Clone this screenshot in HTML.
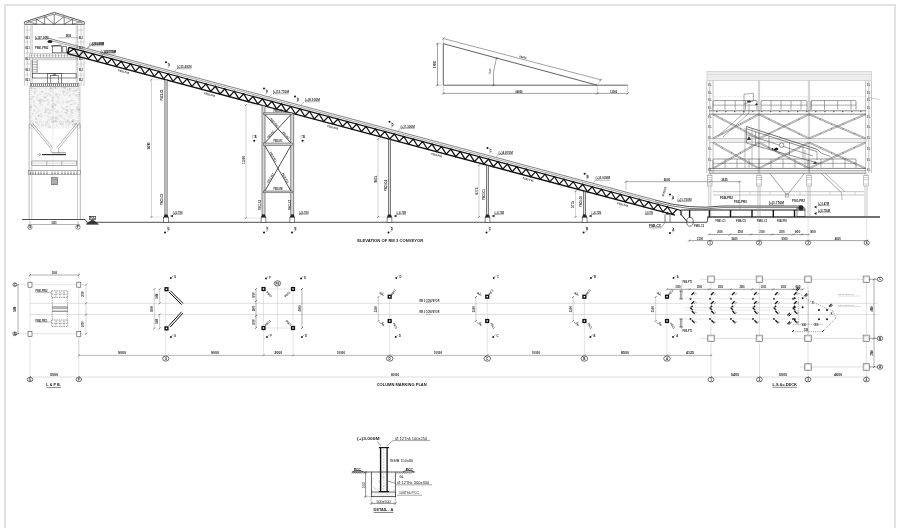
<!DOCTYPE html>
<html><head><meta charset="utf-8"><style>
html,body{margin:0;padding:0;background:#fff;width:900px;height:528px;overflow:hidden}
svg{display:block;font-family:"Liberation Sans",sans-serif;will-change:transform}
</style></head><body>
<svg width="900" height="528" viewBox="0 0 900 528">
<defs><pattern id="stip" width="14" height="14" patternUnits="userSpaceOnUse"><rect width="14" height="14" fill="#f3f3f3"/><circle cx="3.33" cy="7.62" r="0.36" fill="#777"/><circle cx="8.76" cy="0.92" r="0.25" fill="#777"/><circle cx="3.63" cy="3.28" r="0.55" fill="#777"/><circle cx="7.57" cy="7.69" r="0.37" fill="#999"/><circle cx="3.25" cy="2.12" r="0.53" fill="#777"/><circle cx="10.38" cy="9.40" r="0.27" fill="#888"/><circle cx="4.22" cy="0.43" r="0.51" fill="#777"/><circle cx="8.33" cy="12.88" r="0.37" fill="#777"/><circle cx="5.53" cy="11.21" r="0.38" fill="#999"/><circle cx="12.30" cy="1.36" r="0.29" fill="#999"/><circle cx="3.61" cy="9.41" r="0.48" fill="#aaa"/><circle cx="5.90" cy="11.67" r="0.42" fill="#777"/><circle cx="8.18" cy="12.66" r="0.45" fill="#888"/><circle cx="11.99" cy="13.87" r="0.45" fill="#999"/><circle cx="9.78" cy="4.57" r="0.41" fill="#888"/><circle cx="9.99" cy="2.96" r="0.50" fill="#aaa"/><circle cx="3.99" cy="0.89" r="0.51" fill="#777"/><circle cx="1.24" cy="11.21" r="0.37" fill="#999"/><circle cx="0.28" cy="5.98" r="0.37" fill="#888"/><circle cx="0.62" cy="8.60" r="0.26" fill="#aaa"/><circle cx="7.71" cy="12.91" r="0.33" fill="#999"/><circle cx="13.98" cy="4.34" r="0.27" fill="#888"/><circle cx="13.28" cy="13.60" r="0.34" fill="#aaa"/><circle cx="2.19" cy="0.59" r="0.51" fill="#aaa"/><circle cx="5.04" cy="1.94" r="0.51" fill="#777"/><circle cx="6.45" cy="7.28" r="0.44" fill="#888"/><circle cx="8.68" cy="13.17" r="0.40" fill="#777"/><circle cx="8.88" cy="10.02" r="0.53" fill="#777"/><circle cx="13.69" cy="7.30" r="0.41" fill="#888"/><circle cx="11.04" cy="13.82" r="0.34" fill="#777"/><circle cx="8.62" cy="8.85" r="0.27" fill="#aaa"/><circle cx="6.53" cy="9.51" r="0.36" fill="#aaa"/><circle cx="10.33" cy="0.31" r="0.27" fill="#888"/><circle cx="13.49" cy="3.52" r="0.39" fill="#aaa"/><circle cx="2.48" cy="2.59" r="0.48" fill="#aaa"/><circle cx="4.21" cy="5.28" r="0.48" fill="#888"/><circle cx="13.60" cy="9.57" r="0.29" fill="#999"/><circle cx="9.15" cy="3.77" r="0.35" fill="#777"/><circle cx="9.09" cy="1.36" r="0.43" fill="#aaa"/><circle cx="9.45" cy="3.14" r="0.49" fill="#999"/><circle cx="1.12" cy="10.39" r="0.32" fill="#777"/><circle cx="3.79" cy="11.02" r="0.26" fill="#999"/><circle cx="4.41" cy="11.71" r="0.42" fill="#aaa"/><circle cx="4.76" cy="11.59" r="0.28" fill="#aaa"/><circle cx="8.25" cy="5.90" r="0.41" fill="#aaa"/><circle cx="6.51" cy="8.88" r="0.34" fill="#777"/><circle cx="0.50" cy="5.79" r="0.31" fill="#777"/><circle cx="13.21" cy="12.32" r="0.55" fill="#777"/><circle cx="7.82" cy="13.80" r="0.47" fill="#888"/><circle cx="10.44" cy="11.71" r="0.45" fill="#aaa"/><circle cx="7.61" cy="12.46" r="0.51" fill="#aaa"/><circle cx="1.68" cy="3.42" r="0.26" fill="#999"/><circle cx="12.55" cy="12.60" r="0.42" fill="#888"/><circle cx="6.73" cy="1.69" r="0.40" fill="#999"/><circle cx="9.28" cy="7.35" r="0.37" fill="#888"/><path d="M4.8,3.5 l0.8,-0.6 l0.5,0.9 z" fill="none" stroke="#999" stroke-width="0.3"/><path d="M12.1,6.7 l0.8,-0.6 l0.5,0.9 z" fill="none" stroke="#999" stroke-width="0.3"/><path d="M11.0,4.9 l0.8,-0.6 l0.5,0.9 z" fill="none" stroke="#999" stroke-width="0.3"/><path d="M2.8,7.5 l0.8,-0.6 l0.5,0.9 z" fill="none" stroke="#999" stroke-width="0.3"/><path d="M11.4,2.4 l0.8,-0.6 l0.5,0.9 z" fill="none" stroke="#999" stroke-width="0.3"/><path d="M11.1,12.9 l0.8,-0.6 l0.5,0.9 z" fill="none" stroke="#999" stroke-width="0.3"/><path d="M11.3,11.5 l0.8,-0.6 l0.5,0.9 z" fill="none" stroke="#999" stroke-width="0.3"/><path d="M0.1,8.8 l0.8,-0.6 l0.5,0.9 z" fill="none" stroke="#999" stroke-width="0.3"/></pattern></defs>
<defs><pattern id="stip2" x="29.4" y="86.3" width="51" height="63" patternUnits="userSpaceOnUse"><rect width="51" height="63" fill="#f6f6f6"/><circle cx="23.1" cy="35.3" r="0.56" fill="#bbb"/><circle cx="9.7" cy="50.6" r="0.54" fill="#bbb"/><circle cx="4.8" cy="19.1" r="0.57" fill="#aaa"/><path d="M32.4,37.5 l0.3,0.2" stroke="#bbb" stroke-width="0.4"/><circle cx="8.0" cy="0.9" r="0.31" fill="#888"/><circle cx="44.9" cy="37.8" r="0.48" fill="#bbb"/><circle cx="10.0" cy="14.7" r="0.50" fill="#999"/><path d="M23.3,17.5 l0.7,0.4" stroke="#888" stroke-width="0.4"/><circle cx="16.1" cy="14.5" r="0.47" fill="#999"/><circle cx="5.5" cy="6.8" r="0.59" fill="#999"/><path d="M43.2,0.0 l-0.9,-0.2" stroke="#b4b4b4" stroke-width="0.4"/><circle cx="36.2" cy="26.4" r="0.53" fill="#888"/><circle cx="13.8" cy="5.5" r="0.42" fill="#999"/><circle cx="47.1" cy="8.5" r="0.44" fill="#aaa"/><circle cx="24.8" cy="43.0" r="0.36" fill="#b4b4b4"/><circle cx="37.3" cy="8.3" r="0.43" fill="#bbb"/><circle cx="10.9" cy="17.0" r="0.57" fill="#888"/><circle cx="10.7" cy="24.8" r="0.33" fill="#888"/><circle cx="50.5" cy="13.4" r="0.48" fill="#999"/><circle cx="42.3" cy="24.3" r="0.47" fill="#aaa"/><circle cx="12.4" cy="37.9" r="0.34" fill="#999"/><path d="M30.0,52.4 l-0.6,-0.7" stroke="#b4b4b4" stroke-width="0.4"/><circle cx="46.3" cy="51.5" r="0.35" fill="#b4b4b4"/><path d="M32.1,34.9 l0.2,-0.2" stroke="#bbb" stroke-width="0.4"/><circle cx="5.3" cy="2.4" r="0.51" fill="#999"/><circle cx="13.1" cy="51.9" r="0.46" fill="#888"/><circle cx="47.4" cy="61.6" r="0.47" fill="#b4b4b4"/><circle cx="43.5" cy="38.7" r="0.57" fill="#999"/><circle cx="38.2" cy="4.4" r="0.32" fill="#bbb"/><path d="M9.0,23.2 l-0.8,-0.7" stroke="#888" stroke-width="0.4"/><circle cx="23.0" cy="20.9" r="0.34" fill="#888"/><circle cx="1.8" cy="1.1" r="0.59" fill="#999"/><circle cx="1.1" cy="40.1" r="0.39" fill="#bbb"/><circle cx="7.0" cy="4.6" r="0.52" fill="#bbb"/><path d="M45.9,46.4 l0.8,-0.3" stroke="#b4b4b4" stroke-width="0.4"/><path d="M34.9,56.8 l-0.9,-0.0" stroke="#bbb" stroke-width="0.4"/><circle cx="0.7" cy="41.7" r="0.48" fill="#bbb"/><path d="M4.1,40.3 l0.5,-0.2" stroke="#999" stroke-width="0.4"/><circle cx="37.5" cy="36.6" r="0.46" fill="#bbb"/><circle cx="26.5" cy="32.4" r="0.44" fill="#999"/><path d="M11.7,44.0 l0.3,-0.0" stroke="#bbb" stroke-width="0.4"/><circle cx="45.7" cy="23.2" r="0.36" fill="#b4b4b4"/><circle cx="8.6" cy="57.1" r="0.37" fill="#bbb"/><path d="M20.6,15.8 l0.5,-0.6" stroke="#bbb" stroke-width="0.4"/><circle cx="10.9" cy="13.8" r="0.34" fill="#999"/><circle cx="17.9" cy="56.4" r="0.59" fill="#aaa"/><circle cx="14.1" cy="10.7" r="0.58" fill="#bbb"/><circle cx="42.4" cy="24.1" r="0.39" fill="#888"/><circle cx="42.8" cy="61.9" r="0.55" fill="#bbb"/><circle cx="14.2" cy="38.3" r="0.39" fill="#999"/><circle cx="40.4" cy="1.2" r="0.36" fill="#b4b4b4"/><path d="M39.2,16.8 l1.0,-0.8" stroke="#b4b4b4" stroke-width="0.4"/><path d="M5.6,33.7 l0.4,-0.6" stroke="#999" stroke-width="0.4"/><path d="M24.2,11.3 l0.1,-0.9" stroke="#aaa" stroke-width="0.4"/><circle cx="11.5" cy="49.1" r="0.46" fill="#888"/><path d="M31.3,47.6 l0.4,-0.6" stroke="#bbb" stroke-width="0.4"/><circle cx="20.9" cy="56.2" r="0.44" fill="#bbb"/><circle cx="31.9" cy="57.3" r="0.50" fill="#bbb"/><circle cx="25.6" cy="51.6" r="0.50" fill="#999"/><circle cx="10.4" cy="45.5" r="0.57" fill="#aaa"/><path d="M50.0,61.6 l0.9,-0.5" stroke="#888" stroke-width="0.4"/><circle cx="36.6" cy="1.0" r="0.43" fill="#888"/><path d="M28.1,48.4 l-0.6,0.7" stroke="#bbb" stroke-width="0.4"/><circle cx="21.9" cy="2.2" r="0.54" fill="#888"/><path d="M7.2,9.4 l0.0,0.4" stroke="#888" stroke-width="0.4"/><path d="M22.4,55.4 l-0.8,-0.6" stroke="#888" stroke-width="0.4"/><circle cx="26.9" cy="18.3" r="0.46" fill="#888"/><circle cx="43.0" cy="35.3" r="0.59" fill="#999"/><path d="M44.4,38.4 l0.9,0.0" stroke="#999" stroke-width="0.4"/><circle cx="29.2" cy="12.7" r="0.30" fill="#888"/><circle cx="19.2" cy="33.9" r="0.42" fill="#aaa"/><circle cx="40.9" cy="35.5" r="0.35" fill="#bbb"/><circle cx="47.5" cy="28.9" r="0.44" fill="#bbb"/><circle cx="6.5" cy="27.3" r="0.33" fill="#bbb"/><circle cx="21.4" cy="1.9" r="0.53" fill="#999"/><circle cx="1.2" cy="12.2" r="0.39" fill="#b4b4b4"/><circle cx="36.9" cy="15.4" r="0.52" fill="#bbb"/><circle cx="6.3" cy="32.2" r="0.51" fill="#999"/><path d="M44.8,1.5 l0.2,0.1" stroke="#bbb" stroke-width="0.4"/><circle cx="44.1" cy="33.6" r="0.56" fill="#b4b4b4"/><path d="M31.2,54.0 l0.3,-0.3" stroke="#b4b4b4" stroke-width="0.4"/><circle cx="9.2" cy="38.0" r="0.60" fill="#b4b4b4"/><circle cx="45.3" cy="8.4" r="0.33" fill="#b4b4b4"/><circle cx="19.8" cy="27.4" r="0.51" fill="#bbb"/><circle cx="10.2" cy="39.6" r="0.47" fill="#aaa"/><circle cx="18.2" cy="51.7" r="0.45" fill="#999"/><path d="M38.7,31.7 l-0.0,-1.0" stroke="#b4b4b4" stroke-width="0.4"/><circle cx="38.9" cy="38.6" r="0.36" fill="#888"/><path d="M5.9,10.9 l0.9,-0.8" stroke="#b4b4b4" stroke-width="0.4"/><circle cx="3.2" cy="59.9" r="0.33" fill="#bbb"/><circle cx="19.9" cy="26.9" r="0.48" fill="#999"/><circle cx="0.7" cy="44.2" r="0.44" fill="#b4b4b4"/><circle cx="37.7" cy="25.5" r="0.33" fill="#b4b4b4"/><path d="M40.4,20.4 l0.4,0.7" stroke="#aaa" stroke-width="0.4"/><circle cx="32.1" cy="25.5" r="0.48" fill="#888"/><path d="M17.4,48.0 l0.5,0.6" stroke="#999" stroke-width="0.4"/><path d="M41.5,25.6 l0.4,0.5" stroke="#999" stroke-width="0.4"/><circle cx="39.0" cy="25.6" r="0.40" fill="#b4b4b4"/><path d="M23.9,0.7 l0.8,-0.9" stroke="#999" stroke-width="0.4"/><circle cx="13.9" cy="60.6" r="0.50" fill="#999"/><circle cx="29.0" cy="33.6" r="0.45" fill="#bbb"/><path d="M10.9,7.5 l-1.0,0.2" stroke="#bbb" stroke-width="0.4"/><circle cx="37.7" cy="16.2" r="0.53" fill="#bbb"/><circle cx="33.0" cy="0.7" r="0.57" fill="#999"/><circle cx="28.1" cy="32.0" r="0.60" fill="#888"/><circle cx="32.5" cy="51.0" r="0.50" fill="#aaa"/><circle cx="48.7" cy="24.3" r="0.59" fill="#b4b4b4"/><circle cx="43.6" cy="34.1" r="0.58" fill="#888"/><circle cx="21.5" cy="33.2" r="0.46" fill="#888"/><circle cx="24.6" cy="17.0" r="0.52" fill="#999"/><circle cx="1.4" cy="48.7" r="0.35" fill="#888"/><circle cx="38.5" cy="24.6" r="0.32" fill="#999"/><path d="M50.4,59.5 l-0.6,0.4" stroke="#aaa" stroke-width="0.4"/><circle cx="12.8" cy="47.6" r="0.58" fill="#aaa"/><circle cx="36.9" cy="29.5" r="0.33" fill="#b4b4b4"/><path d="M31.8,28.7 l-0.3,-0.7" stroke="#b4b4b4" stroke-width="0.4"/><circle cx="18.5" cy="8.8" r="0.38" fill="#bbb"/><path d="M29.7,26.4 l-0.7,-0.4" stroke="#888" stroke-width="0.4"/><path d="M6.6,30.3 l0.6,0.2" stroke="#888" stroke-width="0.4"/><circle cx="18.3" cy="17.1" r="0.36" fill="#888"/><circle cx="14.2" cy="15.1" r="0.50" fill="#b4b4b4"/><circle cx="10.0" cy="43.0" r="0.38" fill="#aaa"/><circle cx="1.4" cy="2.4" r="0.32" fill="#b4b4b4"/><circle cx="4.4" cy="42.6" r="0.59" fill="#888"/><circle cx="24.7" cy="22.3" r="0.52" fill="#999"/><circle cx="42.8" cy="4.7" r="0.55" fill="#aaa"/><circle cx="42.7" cy="48.4" r="0.38" fill="#bbb"/><circle cx="41.3" cy="23.2" r="0.46" fill="#888"/><circle cx="38.1" cy="58.0" r="0.47" fill="#bbb"/><circle cx="23.6" cy="20.4" r="0.47" fill="#888"/><path d="M24.7,43.2 l-1.0,-0.4" stroke="#999" stroke-width="0.4"/><circle cx="46.4" cy="38.0" r="0.53" fill="#999"/><circle cx="16.7" cy="55.5" r="0.52" fill="#b4b4b4"/><circle cx="18.7" cy="7.4" r="0.58" fill="#bbb"/><circle cx="47.9" cy="57.5" r="0.60" fill="#bbb"/><circle cx="23.4" cy="13.9" r="0.41" fill="#888"/><circle cx="18.6" cy="22.9" r="0.54" fill="#bbb"/><circle cx="37.7" cy="23.2" r="0.55" fill="#bbb"/><path d="M28.7,11.1 l-0.4,-1.0" stroke="#bbb" stroke-width="0.4"/><circle cx="26.3" cy="34.3" r="0.31" fill="#888"/><circle cx="42.9" cy="26.6" r="0.54" fill="#888"/><path d="M4.3,5.1 l-0.8,0.3" stroke="#aaa" stroke-width="0.4"/><circle cx="7.3" cy="47.0" r="0.37" fill="#bbb"/><circle cx="39.0" cy="32.9" r="0.40" fill="#bbb"/><circle cx="49.4" cy="42.4" r="0.54" fill="#bbb"/><circle cx="3.7" cy="38.9" r="0.55" fill="#aaa"/><path d="M34.0,53.8 l0.8,0.9" stroke="#bbb" stroke-width="0.4"/><path d="M32.7,33.0 l-0.2,-0.2" stroke="#aaa" stroke-width="0.4"/><circle cx="7.5" cy="46.7" r="0.40" fill="#bbb"/><path d="M19.9,33.3 l-0.9,-0.4" stroke="#999" stroke-width="0.4"/><path d="M5.9,40.8 l0.5,-1.0" stroke="#b4b4b4" stroke-width="0.4"/><circle cx="24.5" cy="50.4" r="0.36" fill="#999"/><circle cx="11.1" cy="14.8" r="0.37" fill="#bbb"/><path d="M9.4,17.7 l0.9,0.3" stroke="#b4b4b4" stroke-width="0.4"/><circle cx="48.0" cy="34.7" r="0.42" fill="#999"/><circle cx="48.7" cy="41.6" r="0.37" fill="#aaa"/><path d="M2.5,59.7 l0.6,0.5" stroke="#bbb" stroke-width="0.4"/><path d="M40.2,3.7 l0.7,0.8" stroke="#b4b4b4" stroke-width="0.4"/><circle cx="23.0" cy="15.5" r="0.35" fill="#bbb"/><path d="M8.0,20.3 l0.6,-0.7" stroke="#999" stroke-width="0.4"/><circle cx="37.8" cy="39.0" r="0.35" fill="#888"/><path d="M39.3,0.1 l-0.8,-0.5" stroke="#b4b4b4" stroke-width="0.4"/><circle cx="36.5" cy="6.1" r="0.32" fill="#bbb"/><circle cx="38.2" cy="34.2" r="0.54" fill="#888"/><path d="M21.3,57.8 l-0.1,-0.9" stroke="#aaa" stroke-width="0.4"/><circle cx="21.1" cy="31.1" r="0.42" fill="#999"/><circle cx="28.4" cy="62.8" r="0.51" fill="#aaa"/><circle cx="5.4" cy="24.8" r="0.54" fill="#bbb"/><circle cx="6.2" cy="28.1" r="0.44" fill="#bbb"/><path d="M15.0,7.1 l0.7,0.4" stroke="#aaa" stroke-width="0.4"/><path d="M46.0,9.6 l0.5,0.9" stroke="#bbb" stroke-width="0.4"/><circle cx="38.5" cy="35.0" r="0.36" fill="#aaa"/><circle cx="37.3" cy="20.8" r="0.52" fill="#999"/><circle cx="16.9" cy="52.1" r="0.49" fill="#aaa"/><circle cx="6.7" cy="39.7" r="0.42" fill="#b4b4b4"/><circle cx="42.7" cy="37.3" r="0.31" fill="#aaa"/><circle cx="50.4" cy="27.3" r="0.55" fill="#aaa"/><path d="M47.3,8.8 l0.6,-0.2" stroke="#b4b4b4" stroke-width="0.4"/><circle cx="16.9" cy="26.0" r="0.48" fill="#aaa"/><circle cx="16.2" cy="49.7" r="0.48" fill="#b4b4b4"/><circle cx="0.9" cy="20.9" r="0.43" fill="#999"/><path d="M28.4,12.9 l0.7,0.2" stroke="#999" stroke-width="0.4"/><circle cx="8.1" cy="48.3" r="0.41" fill="#999"/><path d="M25.5,8.9 l0.0,0.4" stroke="#b4b4b4" stroke-width="0.4"/><circle cx="42.6" cy="12.4" r="0.36" fill="#aaa"/><circle cx="4.2" cy="15.4" r="0.40" fill="#888"/><circle cx="4.7" cy="55.0" r="0.34" fill="#999"/><circle cx="49.7" cy="8.5" r="0.47" fill="#888"/><circle cx="28.6" cy="16.7" r="0.34" fill="#999"/><circle cx="42.1" cy="18.2" r="0.47" fill="#999"/><path d="M42.4,11.7 l-0.1,-0.2" stroke="#888" stroke-width="0.4"/><circle cx="39.9" cy="58.6" r="0.50" fill="#b4b4b4"/><circle cx="37.6" cy="24.0" r="0.53" fill="#888"/><circle cx="8.1" cy="26.0" r="0.42" fill="#aaa"/><circle cx="29.0" cy="10.9" r="0.37" fill="#888"/><circle cx="47.5" cy="3.4" r="0.54" fill="#aaa"/><circle cx="20.6" cy="31.3" r="0.42" fill="#aaa"/><path d="M31.8,43.4 l-0.0,1.0" stroke="#bbb" stroke-width="0.4"/><path d="M42.8,53.9 l-0.8,-0.8" stroke="#bbb" stroke-width="0.4"/><circle cx="47.9" cy="20.8" r="0.57" fill="#888"/><path d="M16.4,3.4 l0.5,0.2" stroke="#888" stroke-width="0.4"/><path d="M38.3,19.2 l-0.5,0.7" stroke="#888" stroke-width="0.4"/><circle cx="12.4" cy="55.0" r="0.33" fill="#aaa"/><path d="M46.4,34.3 l0.8,1.0" stroke="#bbb" stroke-width="0.4"/><path d="M37.3,54.9 l-0.2,0.6" stroke="#999" stroke-width="0.4"/><circle cx="11.3" cy="47.0" r="0.32" fill="#888"/><circle cx="26.5" cy="8.2" r="0.44" fill="#888"/><circle cx="15.1" cy="45.9" r="0.32" fill="#aaa"/><circle cx="45.7" cy="51.4" r="0.51" fill="#bbb"/><path d="M11.8,19.3 l-0.4,-0.0" stroke="#bbb" stroke-width="0.4"/><path d="M47.6,61.6 l-0.6,0.7" stroke="#bbb" stroke-width="0.4"/><path d="M35.3,3.7 l-0.3,-0.1" stroke="#999" stroke-width="0.4"/><circle cx="8.8" cy="55.4" r="0.49" fill="#888"/><circle cx="9.8" cy="55.5" r="0.39" fill="#aaa"/><path d="M41.7,60.6 l0.4,-0.7" stroke="#999" stroke-width="0.4"/><circle cx="35.5" cy="59.1" r="0.35" fill="#bbb"/><circle cx="43.9" cy="7.6" r="0.52" fill="#b4b4b4"/><circle cx="25.6" cy="18.6" r="0.50" fill="#999"/><path d="M45.1,37.2 l0.8,-0.6" stroke="#b4b4b4" stroke-width="0.4"/><circle cx="11.5" cy="8.4" r="0.32" fill="#aaa"/><circle cx="46.8" cy="4.7" r="0.48" fill="#aaa"/><circle cx="27.4" cy="26.7" r="0.39" fill="#888"/><circle cx="38.5" cy="15.5" r="0.31" fill="#999"/><circle cx="40.3" cy="9.5" r="0.57" fill="#aaa"/><circle cx="29.8" cy="0.2" r="0.32" fill="#bbb"/><circle cx="39.6" cy="57.3" r="0.53" fill="#999"/><circle cx="26.4" cy="31.9" r="0.46" fill="#888"/><circle cx="30.3" cy="48.6" r="0.37" fill="#aaa"/><circle cx="22.5" cy="48.7" r="0.46" fill="#b4b4b4"/><circle cx="43.5" cy="38.0" r="0.48" fill="#999"/><circle cx="36.5" cy="36.1" r="0.48" fill="#b4b4b4"/><circle cx="31.0" cy="50.8" r="0.38" fill="#888"/><circle cx="40.7" cy="4.6" r="0.46" fill="#b4b4b4"/><circle cx="40.4" cy="15.0" r="0.43" fill="#b4b4b4"/><path d="M35.5,51.6 l0.5,-0.0" stroke="#888" stroke-width="0.4"/><circle cx="33.2" cy="32.2" r="0.35" fill="#bbb"/><circle cx="35.2" cy="52.3" r="0.42" fill="#bbb"/><circle cx="18.6" cy="13.6" r="0.53" fill="#aaa"/><circle cx="30.6" cy="8.5" r="0.60" fill="#bbb"/><circle cx="0.2" cy="25.8" r="0.42" fill="#888"/><path d="M15.2,26.7 l0.4,0.4" stroke="#aaa" stroke-width="0.4"/><circle cx="49.8" cy="38.6" r="0.47" fill="#999"/><circle cx="12.3" cy="29.1" r="0.40" fill="#b4b4b4"/><circle cx="50.0" cy="38.5" r="0.48" fill="#aaa"/><circle cx="50.7" cy="46.5" r="0.56" fill="#888"/><path d="M30.1,55.8 l0.9,-0.6" stroke="#bbb" stroke-width="0.4"/><circle cx="19.3" cy="3.1" r="0.36" fill="#bbb"/><circle cx="28.0" cy="10.3" r="0.48" fill="#b4b4b4"/><path d="M38.7,29.8 l0.4,0.7" stroke="#bbb" stroke-width="0.4"/><circle cx="10.4" cy="24.1" r="0.38" fill="#aaa"/><circle cx="48.4" cy="39.1" r="0.38" fill="#888"/><circle cx="20.0" cy="58.2" r="0.41" fill="#b4b4b4"/><circle cx="7.8" cy="59.0" r="0.37" fill="#999"/><path d="M42.8,7.5 l-0.1,0.7" stroke="#999" stroke-width="0.4"/><circle cx="19.4" cy="16.1" r="0.39" fill="#888"/><circle cx="31.0" cy="30.8" r="0.48" fill="#b4b4b4"/><circle cx="1.6" cy="19.7" r="0.51" fill="#bbb"/><circle cx="26.4" cy="34.5" r="0.50" fill="#999"/><circle cx="7.5" cy="12.9" r="0.43" fill="#999"/><circle cx="7.0" cy="32.6" r="0.39" fill="#999"/><path d="M17.6,13.6 l0.5,-0.0" stroke="#aaa" stroke-width="0.4"/><circle cx="0.6" cy="48.0" r="0.32" fill="#999"/><circle cx="43.5" cy="35.2" r="0.59" fill="#999"/><circle cx="44.3" cy="14.8" r="0.43" fill="#999"/><path d="M20.0,3.8 l-0.4,0.4" stroke="#bbb" stroke-width="0.4"/><circle cx="11.3" cy="58.3" r="0.35" fill="#b4b4b4"/><circle cx="33.9" cy="15.1" r="0.57" fill="#aaa"/><circle cx="41.0" cy="30.1" r="0.47" fill="#999"/><circle cx="35.7" cy="1.5" r="0.57" fill="#bbb"/><circle cx="46.5" cy="17.1" r="0.48" fill="#bbb"/><circle cx="23.9" cy="20.5" r="0.31" fill="#999"/><circle cx="16.5" cy="23.5" r="0.50" fill="#999"/><circle cx="9.5" cy="29.6" r="0.57" fill="#888"/><path d="M1.6,44.6 l0.3,0.2" stroke="#b4b4b4" stroke-width="0.4"/><circle cx="21.0" cy="26.2" r="0.44" fill="#999"/><circle cx="22.9" cy="60.9" r="0.34" fill="#bbb"/><circle cx="25.9" cy="19.4" r="0.31" fill="#999"/><circle cx="30.9" cy="17.0" r="0.37" fill="#999"/><circle cx="0.0" cy="34.3" r="0.46" fill="#bbb"/><circle cx="43.3" cy="48.2" r="0.47" fill="#aaa"/><circle cx="42.4" cy="61.0" r="0.33" fill="#999"/><circle cx="1.0" cy="50.8" r="0.51" fill="#b4b4b4"/><circle cx="49.2" cy="51.9" r="0.51" fill="#b4b4b4"/><circle cx="41.1" cy="18.5" r="0.52" fill="#bbb"/><circle cx="27.2" cy="14.9" r="0.51" fill="#b4b4b4"/><path d="M46.8,46.5 l0.6,0.8" stroke="#aaa" stroke-width="0.4"/><path d="M15.8,53.5 l-0.0,-0.7" stroke="#888" stroke-width="0.4"/><circle cx="44.2" cy="54.8" r="0.42" fill="#aaa"/><circle cx="37.7" cy="43.7" r="0.38" fill="#999"/><path d="M36.5,20.6 l-0.6,0.1" stroke="#999" stroke-width="0.4"/><circle cx="6.6" cy="62.0" r="0.55" fill="#b4b4b4"/><circle cx="40.9" cy="7.9" r="0.39" fill="#bbb"/><circle cx="33.3" cy="61.4" r="0.58" fill="#bbb"/><circle cx="49.5" cy="8.4" r="0.49" fill="#999"/><circle cx="20.2" cy="58.8" r="0.51" fill="#b4b4b4"/><circle cx="6.0" cy="2.7" r="0.46" fill="#999"/><path d="M40.9,25.5 l0.7,-0.7" stroke="#aaa" stroke-width="0.4"/><circle cx="3.4" cy="27.6" r="0.52" fill="#999"/><circle cx="20.8" cy="8.9" r="0.51" fill="#888"/><circle cx="27.8" cy="50.4" r="0.55" fill="#b4b4b4"/><circle cx="28.4" cy="56.5" r="0.35" fill="#bbb"/><circle cx="45.1" cy="17.0" r="0.49" fill="#888"/><circle cx="14.0" cy="14.3" r="0.47" fill="#bbb"/><path d="M28.5,9.6 l-0.4,-0.8" stroke="#aaa" stroke-width="0.4"/><path d="M9.3,30.5 l-0.2,-0.9" stroke="#b4b4b4" stroke-width="0.4"/><circle cx="17.9" cy="35.3" r="0.47" fill="#888"/><circle cx="33.5" cy="39.3" r="0.39" fill="#999"/><path d="M12.7,50.7 l0.4,-0.6" stroke="#888" stroke-width="0.4"/><circle cx="1.4" cy="10.6" r="0.38" fill="#aaa"/><circle cx="1.2" cy="35.0" r="0.30" fill="#aaa"/><path d="M10.7,60.4 l-0.5,-0.5" stroke="#aaa" stroke-width="0.4"/><path d="M47.2,31.2 l0.7,0.5" stroke="#999" stroke-width="0.4"/><circle cx="50.3" cy="6.4" r="0.51" fill="#bbb"/><circle cx="12.8" cy="57.3" r="0.34" fill="#aaa"/><circle cx="16.5" cy="45.6" r="0.54" fill="#888"/><circle cx="18.6" cy="40.2" r="0.32" fill="#999"/><circle cx="33.3" cy="37.4" r="0.52" fill="#999"/><circle cx="10.8" cy="46.8" r="0.36" fill="#888"/><circle cx="17.7" cy="9.8" r="0.43" fill="#999"/><circle cx="0.5" cy="31.7" r="0.59" fill="#bbb"/><path d="M42.8,48.0 l-0.4,0.5" stroke="#aaa" stroke-width="0.4"/><circle cx="5.5" cy="62.2" r="0.58" fill="#bbb"/><path d="M25.5,49.2 l-0.9,-0.2" stroke="#b4b4b4" stroke-width="0.4"/><circle cx="47.0" cy="55.5" r="0.30" fill="#999"/><circle cx="37.2" cy="41.7" r="0.48" fill="#aaa"/><circle cx="45.3" cy="54.0" r="0.47" fill="#bbb"/><circle cx="5.8" cy="52.8" r="0.44" fill="#bbb"/><circle cx="42.7" cy="31.6" r="0.47" fill="#bbb"/><circle cx="26.3" cy="2.0" r="0.48" fill="#bbb"/><circle cx="30.3" cy="58.7" r="0.40" fill="#b4b4b4"/><circle cx="13.1" cy="39.2" r="0.60" fill="#b4b4b4"/><path d="M20.5,54.7 l0.8,-0.8" stroke="#b4b4b4" stroke-width="0.4"/><path d="M9.5,58.2 l0.6,0.0" stroke="#b4b4b4" stroke-width="0.4"/><circle cx="50.7" cy="4.1" r="0.38" fill="#aaa"/><circle cx="41.2" cy="28.6" r="0.43" fill="#888"/><circle cx="24.9" cy="60.6" r="0.47" fill="#b4b4b4"/><circle cx="40.1" cy="30.9" r="0.45" fill="#b4b4b4"/><path d="M2.9,54.8 l-0.7,-0.3" stroke="#aaa" stroke-width="0.4"/><path d="M5.1,2.3 l-0.6,-0.4" stroke="#999" stroke-width="0.4"/><path d="M21.2,38.7 l0.2,0.8" stroke="#aaa" stroke-width="0.4"/><circle cx="3.7" cy="62.2" r="0.39" fill="#b4b4b4"/><circle cx="48.8" cy="61.1" r="0.43" fill="#888"/><path d="M0.8,21.4 l0.9,0.3" stroke="#999" stroke-width="0.4"/><circle cx="10.6" cy="13.2" r="0.47" fill="#b4b4b4"/><path d="M2.1,17.5 l0.2,-0.3" stroke="#999" stroke-width="0.4"/><circle cx="10.0" cy="62.7" r="0.41" fill="#b4b4b4"/><circle cx="15.8" cy="25.7" r="0.38" fill="#b4b4b4"/><circle cx="19.1" cy="38.6" r="0.45" fill="#999"/><circle cx="48.0" cy="21.8" r="0.47" fill="#bbb"/><path d="M14.5,55.0 l-0.8,0.3" stroke="#999" stroke-width="0.4"/><circle cx="11.5" cy="30.1" r="0.48" fill="#b4b4b4"/><circle cx="22.9" cy="4.0" r="0.48" fill="#bbb"/><circle cx="33.6" cy="16.9" r="0.37" fill="#aaa"/><circle cx="21.0" cy="8.3" r="0.38" fill="#999"/><circle cx="5.2" cy="55.4" r="0.50" fill="#888"/><circle cx="23.1" cy="13.2" r="0.31" fill="#999"/><circle cx="30.1" cy="43.9" r="0.35" fill="#aaa"/><circle cx="3.7" cy="10.7" r="0.50" fill="#888"/><path d="M30.9,61.1 l-0.2,0.7" stroke="#aaa" stroke-width="0.4"/><circle cx="33.1" cy="44.2" r="0.44" fill="#aaa"/><circle cx="20.5" cy="41.3" r="0.48" fill="#b4b4b4"/><circle cx="25.4" cy="52.3" r="0.52" fill="#888"/><path d="M4.3,10.5 l0.8,0.3" stroke="#888" stroke-width="0.4"/><circle cx="49.5" cy="29.8" r="0.35" fill="#aaa"/><circle cx="18.9" cy="23.1" r="0.42" fill="#aaa"/><circle cx="28.6" cy="61.4" r="0.45" fill="#aaa"/><circle cx="6.4" cy="35.8" r="0.45" fill="#b4b4b4"/><circle cx="15.7" cy="22.2" r="0.42" fill="#b4b4b4"/><circle cx="2.8" cy="13.7" r="0.33" fill="#bbb"/><circle cx="7.0" cy="56.6" r="0.59" fill="#888"/><path d="M26.8,25.6 l0.4,-0.8" stroke="#888" stroke-width="0.4"/><circle cx="41.9" cy="14.4" r="0.51" fill="#aaa"/><circle cx="8.0" cy="33.5" r="0.45" fill="#aaa"/><circle cx="46.5" cy="34.2" r="0.39" fill="#aaa"/><circle cx="10.9" cy="33.8" r="0.45" fill="#bbb"/><circle cx="33.4" cy="55.9" r="0.45" fill="#b4b4b4"/><circle cx="46.1" cy="24.9" r="0.48" fill="#999"/><circle cx="11.2" cy="5.3" r="0.49" fill="#bbb"/><path d="M17.0,7.4 l-0.9,0.1" stroke="#999" stroke-width="0.4"/><circle cx="27.9" cy="25.2" r="0.51" fill="#b4b4b4"/><circle cx="1.7" cy="22.7" r="0.46" fill="#b4b4b4"/><path d="M37.4,23.5 l-1.0,0.2" stroke="#888" stroke-width="0.4"/><circle cx="49.0" cy="23.0" r="0.55" fill="#888"/><circle cx="10.7" cy="48.0" r="0.45" fill="#aaa"/><path d="M26.3,47.5 l-0.6,0.2" stroke="#aaa" stroke-width="0.4"/><circle cx="41.2" cy="59.5" r="0.39" fill="#999"/><path d="M34.7,5.4 l-0.3,-0.4" stroke="#b4b4b4" stroke-width="0.4"/><circle cx="41.8" cy="49.7" r="0.53" fill="#999"/><circle cx="2.4" cy="39.4" r="0.40" fill="#888"/><circle cx="36.6" cy="38.9" r="0.30" fill="#b4b4b4"/><circle cx="37.6" cy="26.4" r="0.33" fill="#aaa"/><circle cx="35.0" cy="8.8" r="0.54" fill="#bbb"/><path d="M22.7,56.5 l0.9,-0.3" stroke="#aaa" stroke-width="0.4"/><circle cx="42.4" cy="44.9" r="0.51" fill="#aaa"/><circle cx="33.3" cy="7.2" r="0.40" fill="#b4b4b4"/><path d="M7.1,59.7 l-0.1,-0.9" stroke="#b4b4b4" stroke-width="0.4"/><circle cx="22.0" cy="23.8" r="0.51" fill="#bbb"/><circle cx="19.8" cy="49.1" r="0.56" fill="#aaa"/><circle cx="39.4" cy="20.4" r="0.35" fill="#aaa"/><circle cx="17.8" cy="37.3" r="0.44" fill="#888"/><circle cx="30.0" cy="29.1" r="0.51" fill="#888"/><circle cx="20.2" cy="5.7" r="0.38" fill="#bbb"/><path d="M37.3,36.2 l0.6,-0.5" stroke="#999" stroke-width="0.4"/><circle cx="12.4" cy="13.4" r="0.35" fill="#888"/><circle cx="21.1" cy="33.5" r="0.37" fill="#bbb"/><circle cx="38.4" cy="6.4" r="0.35" fill="#999"/><circle cx="50.7" cy="22.2" r="0.40" fill="#b4b4b4"/><path d="M7.7,59.9 l-0.8,0.6" stroke="#999" stroke-width="0.4"/><circle cx="11.1" cy="12.6" r="0.40" fill="#888"/><path d="M8.3,12.0 l0.8,0.4" stroke="#b4b4b4" stroke-width="0.4"/><circle cx="18.6" cy="59.9" r="0.55" fill="#999"/><circle cx="50.1" cy="7.0" r="0.46" fill="#999"/><circle cx="12.9" cy="18.5" r="0.38" fill="#999"/><path d="M3.9,1.8 l-0.7,-0.2" stroke="#999" stroke-width="0.4"/><circle cx="41.9" cy="34.3" r="0.46" fill="#b4b4b4"/><path d="M37.4,33.7 l-0.5,-0.9" stroke="#888" stroke-width="0.4"/><circle cx="47.8" cy="22.8" r="0.44" fill="#888"/><circle cx="18.9" cy="45.9" r="0.52" fill="#888"/><circle cx="45.2" cy="4.7" r="0.58" fill="#888"/><circle cx="33.5" cy="4.5" r="0.47" fill="#aaa"/><circle cx="6.1" cy="62.3" r="0.34" fill="#999"/><circle cx="48.4" cy="41.9" r="0.47" fill="#b4b4b4"/><circle cx="50.1" cy="43.2" r="0.43" fill="#888"/><circle cx="34.7" cy="5.4" r="0.58" fill="#999"/><circle cx="44.9" cy="6.4" r="0.32" fill="#b4b4b4"/><circle cx="24.8" cy="35.1" r="0.57" fill="#888"/><path d="M13.1,13.8 l1.0,0.9" stroke="#999" stroke-width="0.4"/><circle cx="47.2" cy="54.1" r="0.54" fill="#aaa"/><circle cx="50.8" cy="36.0" r="0.35" fill="#888"/><circle cx="39.2" cy="9.9" r="0.39" fill="#aaa"/><circle cx="15.3" cy="62.2" r="0.55" fill="#bbb"/><path d="M35.1,32.7 l0.3,-0.8" stroke="#888" stroke-width="0.4"/><path d="M18.9,60.4 l0.7,-0.2" stroke="#b4b4b4" stroke-width="0.4"/><path d="M17.1,21.8 l-0.5,-0.9" stroke="#aaa" stroke-width="0.4"/><circle cx="18.9" cy="45.5" r="0.44" fill="#888"/><circle cx="12.0" cy="55.6" r="0.36" fill="#b4b4b4"/><circle cx="23.0" cy="13.9" r="0.50" fill="#999"/><circle cx="31.1" cy="37.5" r="0.56" fill="#888"/><circle cx="9.4" cy="14.6" r="0.52" fill="#999"/><circle cx="10.4" cy="2.2" r="0.32" fill="#b4b4b4"/><circle cx="38.9" cy="15.4" r="0.47" fill="#b4b4b4"/><path d="M7.0,42.2 l1.0,-0.2" stroke="#aaa" stroke-width="0.4"/><circle cx="6.9" cy="49.7" r="0.54" fill="#b4b4b4"/><path d="M19.4,18.1 l-0.9,0.9" stroke="#888" stroke-width="0.4"/><circle cx="46.5" cy="3.3" r="0.32" fill="#aaa"/><circle cx="46.6" cy="9.0" r="0.45" fill="#b4b4b4"/><path d="M11.5,20.1 l-0.7,0.4" stroke="#b4b4b4" stroke-width="0.4"/><circle cx="48.2" cy="12.1" r="0.37" fill="#b4b4b4"/><circle cx="43.3" cy="55.8" r="0.52" fill="#bbb"/><path d="M47.1,9.2 l0.5,0.4" stroke="#aaa" stroke-width="0.4"/><circle cx="6.3" cy="20.2" r="0.46" fill="#888"/><circle cx="27.6" cy="35.8" r="0.33" fill="#888"/><path d="M33.3,1.0 l0.9,0.4" stroke="#999" stroke-width="0.4"/><circle cx="9.5" cy="60.8" r="0.45" fill="#888"/><circle cx="45.6" cy="37.7" r="0.55" fill="#999"/><path d="M23.7,12.0 l-1.0,0.5" stroke="#bbb" stroke-width="0.4"/><circle cx="20.4" cy="3.3" r="0.42" fill="#b4b4b4"/><circle cx="42.0" cy="60.6" r="0.54" fill="#aaa"/><circle cx="25.5" cy="41.1" r="0.40" fill="#bbb"/><circle cx="8.5" cy="61.2" r="0.49" fill="#999"/><circle cx="18.8" cy="29.8" r="0.35" fill="#888"/><circle cx="7.3" cy="36.5" r="0.46" fill="#888"/><circle cx="23.5" cy="20.9" r="0.58" fill="#bbb"/><circle cx="43.5" cy="55.6" r="0.47" fill="#b4b4b4"/><circle cx="46.9" cy="48.2" r="0.48" fill="#999"/><circle cx="8.0" cy="59.7" r="0.49" fill="#999"/><circle cx="0.2" cy="30.2" r="0.58" fill="#aaa"/><circle cx="26.2" cy="23.9" r="0.42" fill="#aaa"/><circle cx="25.4" cy="53.4" r="0.33" fill="#888"/><path d="M25.4,30.4 l-0.4,-0.1" stroke="#b4b4b4" stroke-width="0.4"/><circle cx="4.3" cy="50.4" r="0.42" fill="#b4b4b4"/><circle cx="2.1" cy="12.3" r="0.41" fill="#888"/><circle cx="3.0" cy="4.6" r="0.39" fill="#bbb"/><circle cx="34.0" cy="31.7" r="0.51" fill="#b4b4b4"/><circle cx="22.8" cy="18.8" r="0.54" fill="#b4b4b4"/><circle cx="36.3" cy="51.0" r="0.44" fill="#b4b4b4"/><path d="M36.4,2.8 l0.3,-0.1" stroke="#aaa" stroke-width="0.4"/><path d="M32.8,42.5 l0.3,-0.9" stroke="#bbb" stroke-width="0.4"/><path d="M34.0,6.9 l-0.4,-0.6" stroke="#999" stroke-width="0.4"/><circle cx="35.4" cy="47.8" r="0.52" fill="#888"/><path d="M34.1,27.5 l0.6,0.7" stroke="#bbb" stroke-width="0.4"/><circle cx="29.0" cy="59.4" r="0.51" fill="#bbb"/><path d="M2.0,55.7 l-0.5,0.3" stroke="#bbb" stroke-width="0.4"/><circle cx="39.5" cy="43.8" r="0.44" fill="#888"/><circle cx="35.2" cy="1.7" r="0.58" fill="#999"/><circle cx="16.9" cy="58.4" r="0.59" fill="#aaa"/><circle cx="31.6" cy="60.6" r="0.38" fill="#aaa"/><circle cx="26.7" cy="30.7" r="0.51" fill="#aaa"/><circle cx="2.6" cy="47.7" r="0.36" fill="#888"/><circle cx="29.6" cy="15.2" r="0.40" fill="#999"/><circle cx="48.9" cy="18.6" r="0.42" fill="#888"/><circle cx="12.0" cy="29.9" r="0.43" fill="#aaa"/><path d="M35.0,48.0 l0.8,0.0" stroke="#888" stroke-width="0.4"/><path d="M48.3,36.9 l0.1,-0.6" stroke="#bbb" stroke-width="0.4"/><circle cx="39.1" cy="3.6" r="0.59" fill="#b4b4b4"/><circle cx="40.1" cy="36.8" r="0.54" fill="#999"/><circle cx="2.1" cy="3.7" r="0.33" fill="#aaa"/><circle cx="24.2" cy="60.1" r="0.30" fill="#aaa"/><path d="M23.7,38.7 l-0.0,0.6" stroke="#b4b4b4" stroke-width="0.4"/><circle cx="12.5" cy="51.3" r="0.48" fill="#b4b4b4"/><circle cx="2.4" cy="44.8" r="0.47" fill="#b4b4b4"/><circle cx="20.5" cy="24.1" r="0.49" fill="#bbb"/><path d="M10.6,15.4 l0.7,0.9" stroke="#bbb" stroke-width="0.4"/><circle cx="32.5" cy="21.1" r="0.56" fill="#aaa"/><path d="M25.9,25.9 l-0.6,-0.9" stroke="#bbb" stroke-width="0.4"/><circle cx="4.7" cy="16.9" r="0.43" fill="#b4b4b4"/><circle cx="23.1" cy="19.9" r="0.56" fill="#888"/><circle cx="31.7" cy="5.6" r="0.47" fill="#bbb"/><path d="M33.6,42.7 l0.6,-0.2" stroke="#888" stroke-width="0.4"/><circle cx="34.2" cy="46.7" r="0.48" fill="#999"/><circle cx="30.5" cy="62.8" r="0.50" fill="#bbb"/><circle cx="11.5" cy="48.5" r="0.52" fill="#888"/><circle cx="28.7" cy="24.7" r="0.43" fill="#bbb"/><circle cx="4.6" cy="23.9" r="0.59" fill="#bbb"/><circle cx="38.1" cy="27.3" r="0.55" fill="#bbb"/><path d="M42.7,24.6 l0.4,-0.3" stroke="#888" stroke-width="0.4"/><circle cx="18.6" cy="30.1" r="0.47" fill="#999"/><path d="M27.8,62.2 l0.2,0.6" stroke="#b4b4b4" stroke-width="0.4"/><circle cx="26.0" cy="1.4" r="0.59" fill="#888"/><circle cx="16.7" cy="58.1" r="0.39" fill="#bbb"/><circle cx="41.1" cy="26.5" r="0.31" fill="#b4b4b4"/><circle cx="23.6" cy="35.1" r="0.59" fill="#bbb"/><circle cx="18.0" cy="47.8" r="0.46" fill="#aaa"/><circle cx="8.6" cy="22.9" r="0.38" fill="#b4b4b4"/><circle cx="18.3" cy="33.9" r="0.42" fill="#aaa"/><circle cx="20.6" cy="49.7" r="0.35" fill="#888"/><circle cx="6.0" cy="5.4" r="0.38" fill="#aaa"/><circle cx="24.9" cy="43.8" r="0.39" fill="#aaa"/><circle cx="16.9" cy="39.4" r="0.40" fill="#999"/><circle cx="44.8" cy="13.8" r="0.31" fill="#bbb"/><circle cx="46.8" cy="49.7" r="0.60" fill="#999"/><circle cx="11.4" cy="14.0" r="0.49" fill="#888"/><circle cx="47.0" cy="49.6" r="0.35" fill="#bbb"/><circle cx="30.2" cy="48.1" r="0.51" fill="#bbb"/><circle cx="11.0" cy="55.6" r="0.32" fill="#b4b4b4"/><path d="M25.1,42.1 l0.4,0.9" stroke="#aaa" stroke-width="0.4"/><circle cx="1.2" cy="20.4" r="0.60" fill="#888"/><path d="M30.6,54.3 l-0.2,0.8" stroke="#aaa" stroke-width="0.4"/><circle cx="31.3" cy="34.9" r="0.51" fill="#aaa"/><circle cx="16.4" cy="29.4" r="0.31" fill="#999"/><circle cx="12.7" cy="0.2" r="0.30" fill="#999"/><circle cx="18.6" cy="26.2" r="0.33" fill="#b4b4b4"/><circle cx="43.1" cy="29.6" r="0.46" fill="#888"/><circle cx="44.9" cy="55.0" r="0.45" fill="#bbb"/><circle cx="21.1" cy="24.6" r="0.43" fill="#888"/><circle cx="29.3" cy="62.8" r="0.39" fill="#b4b4b4"/><circle cx="20.0" cy="40.8" r="0.39" fill="#aaa"/><circle cx="9.8" cy="54.7" r="0.51" fill="#888"/><circle cx="38.0" cy="28.6" r="0.37" fill="#bbb"/><circle cx="29.6" cy="41.2" r="0.37" fill="#b4b4b4"/><circle cx="49.5" cy="34.2" r="0.31" fill="#888"/><circle cx="14.8" cy="22.5" r="0.33" fill="#aaa"/><circle cx="44.2" cy="50.3" r="0.60" fill="#aaa"/><circle cx="45.7" cy="37.3" r="0.47" fill="#888"/><circle cx="8.8" cy="29.2" r="0.37" fill="#b4b4b4"/><path d="M22.8,34.2 l0.8,0.2" stroke="#999" stroke-width="0.4"/><circle cx="0.6" cy="45.5" r="0.37" fill="#b4b4b4"/><circle cx="15.9" cy="11.2" r="0.59" fill="#888"/><path d="M9.4,11.9 l-0.9,-0.9" stroke="#b4b4b4" stroke-width="0.4"/><circle cx="40.7" cy="8.9" r="0.52" fill="#b4b4b4"/><path d="M45.2,40.6 l0.8,0.5" stroke="#999" stroke-width="0.4"/><path d="M16.3,7.3 l-0.9,0.1" stroke="#aaa" stroke-width="0.4"/><circle cx="19.5" cy="51.9" r="0.49" fill="#999"/><circle cx="21.2" cy="41.3" r="0.38" fill="#aaa"/><circle cx="46.8" cy="42.5" r="0.51" fill="#aaa"/><path d="M19.4,59.0 l0.3,0.3" stroke="#aaa" stroke-width="0.4"/><circle cx="19.5" cy="45.2" r="0.42" fill="#bbb"/><circle cx="30.0" cy="7.7" r="0.31" fill="#999"/><circle cx="50.1" cy="23.4" r="0.58" fill="#999"/><circle cx="32.8" cy="38.3" r="0.45" fill="#b4b4b4"/><circle cx="39.1" cy="35.6" r="0.45" fill="#b4b4b4"/><circle cx="2.2" cy="34.2" r="0.42" fill="#aaa"/><circle cx="11.5" cy="27.5" r="0.53" fill="#bbb"/><circle cx="36.8" cy="3.3" r="0.35" fill="#aaa"/><circle cx="1.9" cy="1.8" r="0.51" fill="#bbb"/><circle cx="7.1" cy="21.6" r="0.37" fill="#aaa"/><circle cx="9.2" cy="28.4" r="0.49" fill="#bbb"/><path d="M8.6,10.6 l-0.2,-0.2" stroke="#888" stroke-width="0.4"/><circle cx="38.1" cy="6.1" r="0.31" fill="#aaa"/><path d="M31.4,12.2 l-0.2,0.6" stroke="#999" stroke-width="0.4"/><path d="M43.4,18.3 l-0.7,-0.2" stroke="#999" stroke-width="0.4"/><path d="M36.1,23.4 l-0.9,-0.4" stroke="#aaa" stroke-width="0.4"/><circle cx="14.9" cy="47.3" r="0.58" fill="#aaa"/><path d="M9.5,24.8 l-0.8,1.0" stroke="#999" stroke-width="0.4"/><circle cx="37.8" cy="54.6" r="0.50" fill="#999"/><path d="M29.4,55.5 l0.7,0.3" stroke="#999" stroke-width="0.4"/><circle cx="49.0" cy="9.1" r="0.33" fill="#bbb"/><circle cx="39.6" cy="41.3" r="0.38" fill="#bbb"/><circle cx="16.5" cy="38.2" r="0.50" fill="#b4b4b4"/><circle cx="44.0" cy="1.9" r="0.51" fill="#b4b4b4"/><circle cx="9.7" cy="53.5" r="0.48" fill="#b4b4b4"/><circle cx="37.4" cy="7.3" r="0.49" fill="#aaa"/><circle cx="23.9" cy="31.9" r="0.51" fill="#aaa"/><path d="M11.9,30.3 l0.9,-0.2" stroke="#bbb" stroke-width="0.4"/><circle cx="16.2" cy="25.0" r="0.53" fill="#999"/><circle cx="27.5" cy="39.0" r="0.48" fill="#b4b4b4"/><circle cx="35.0" cy="26.6" r="0.36" fill="#b4b4b4"/><circle cx="34.3" cy="22.6" r="0.58" fill="#aaa"/><circle cx="7.1" cy="42.6" r="0.46" fill="#999"/><circle cx="43.7" cy="23.4" r="0.49" fill="#aaa"/><circle cx="24.3" cy="6.4" r="0.32" fill="#888"/><circle cx="27.1" cy="8.1" r="0.56" fill="#888"/><path d="M46.8,23.5 l0.1,0.2" stroke="#999" stroke-width="0.4"/><circle cx="44.0" cy="42.7" r="0.53" fill="#999"/><circle cx="32.3" cy="29.5" r="0.56" fill="#aaa"/><circle cx="24.6" cy="57.3" r="0.32" fill="#b4b4b4"/><path d="M6.7,38.2 l0.6,-0.4" stroke="#aaa" stroke-width="0.4"/><circle cx="23.2" cy="31.9" r="0.58" fill="#999"/><path d="M24.7,25.1 l-0.8,-0.8" stroke="#bbb" stroke-width="0.4"/><circle cx="35.8" cy="33.6" r="0.47" fill="#b4b4b4"/><circle cx="5.0" cy="14.5" r="0.39" fill="#b4b4b4"/><circle cx="18.8" cy="56.0" r="0.30" fill="#b4b4b4"/><circle cx="8.6" cy="9.0" r="0.57" fill="#b4b4b4"/><circle cx="38.2" cy="4.1" r="0.43" fill="#b4b4b4"/><circle cx="30.9" cy="3.2" r="0.34" fill="#aaa"/><path d="M39.8,6.9 l-0.3,-0.2" stroke="#aaa" stroke-width="0.4"/><path d="M46.9,48.1 l-0.6,-0.0" stroke="#aaa" stroke-width="0.4"/><circle cx="15.6" cy="26.3" r="0.35" fill="#aaa"/><circle cx="23.3" cy="11.4" r="0.57" fill="#aaa"/><circle cx="40.5" cy="2.6" r="0.55" fill="#888"/><circle cx="26.3" cy="34.4" r="0.47" fill="#999"/><path d="M16.2,10.6 l-0.3,-0.2" stroke="#999" stroke-width="0.4"/><circle cx="35.5" cy="45.8" r="0.45" fill="#bbb"/><circle cx="11.8" cy="15.3" r="0.49" fill="#bbb"/><circle cx="18.6" cy="23.2" r="0.48" fill="#b4b4b4"/><circle cx="12.6" cy="5.7" r="0.48" fill="#888"/><circle cx="39.3" cy="38.3" r="0.49" fill="#bbb"/><circle cx="19.1" cy="25.9" r="0.38" fill="#999"/><path d="M23.7,35.3 l0.4,0.7" stroke="#999" stroke-width="0.4"/><circle cx="19.7" cy="40.5" r="0.47" fill="#999"/><circle cx="49.4" cy="10.9" r="0.49" fill="#999"/><path d="M35.7,61.8 l-0.8,-0.5" stroke="#888" stroke-width="0.4"/><circle cx="38.7" cy="14.2" r="0.44" fill="#aaa"/><path d="M10.3,18.3 l-0.4,-0.0" stroke="#bbb" stroke-width="0.4"/><circle cx="10.7" cy="35.9" r="0.30" fill="#999"/><circle cx="21.4" cy="5.2" r="0.37" fill="#888"/><circle cx="23.8" cy="30.7" r="0.43" fill="#999"/><circle cx="18.0" cy="61.3" r="0.53" fill="#999"/><path d="M34.9,7.8 l-0.8,0.1" stroke="#999" stroke-width="0.4"/><circle cx="5.0" cy="5.8" r="0.39" fill="#bbb"/></pattern></defs>
<defs><pattern id="stip3" x="371.3" y="472" width="24" height="20" patternUnits="userSpaceOnUse"><rect width="24" height="20" fill="#fdfdfd"/><circle cx="14.9" cy="14.8" r="0.41" fill="#aaa"/><circle cx="22.6" cy="14.8" r="0.43" fill="#aaa"/><circle cx="0.7" cy="9.3" r="0.44" fill="#aaa"/><circle cx="15.6" cy="18.0" r="0.27" fill="#aaa"/><circle cx="11.3" cy="4.9" r="0.36" fill="#aaa"/><circle cx="13.8" cy="0.3" r="0.29" fill="#aaa"/><circle cx="6.7" cy="18.3" r="0.40" fill="#aaa"/><circle cx="3.8" cy="15.9" r="0.28" fill="#aaa"/><circle cx="14.8" cy="2.5" r="0.25" fill="#aaa"/><circle cx="20.9" cy="4.2" r="0.29" fill="#aaa"/><circle cx="23.6" cy="17.4" r="0.31" fill="#aaa"/><circle cx="23.1" cy="10.8" r="0.39" fill="#aaa"/><circle cx="4.9" cy="18.8" r="0.39" fill="#aaa"/><circle cx="23.2" cy="17.9" r="0.31" fill="#aaa"/><circle cx="8.7" cy="3.3" r="0.28" fill="#aaa"/><circle cx="1.6" cy="6.0" r="0.37" fill="#aaa"/><circle cx="0.1" cy="13.6" r="0.32" fill="#aaa"/><circle cx="7.4" cy="16.4" r="0.35" fill="#aaa"/><circle cx="7.6" cy="9.6" r="0.39" fill="#aaa"/><circle cx="1.4" cy="19.5" r="0.25" fill="#aaa"/><circle cx="18.0" cy="16.9" r="0.25" fill="#aaa"/><circle cx="18.9" cy="7.3" r="0.37" fill="#aaa"/><circle cx="0.2" cy="0.9" r="0.29" fill="#aaa"/><circle cx="22.9" cy="3.9" r="0.40" fill="#aaa"/><circle cx="22.3" cy="18.8" r="0.32" fill="#aaa"/><circle cx="8.5" cy="10.5" r="0.41" fill="#aaa"/><circle cx="2.6" cy="15.0" r="0.41" fill="#aaa"/><circle cx="20.6" cy="0.7" r="0.44" fill="#aaa"/><circle cx="2.2" cy="6.8" r="0.37" fill="#aaa"/><circle cx="22.0" cy="6.8" r="0.43" fill="#aaa"/><circle cx="13.1" cy="6.2" r="0.31" fill="#aaa"/><circle cx="4.3" cy="1.6" r="0.28" fill="#aaa"/><circle cx="16.5" cy="19.9" r="0.28" fill="#aaa"/><circle cx="1.2" cy="19.7" r="0.36" fill="#aaa"/><circle cx="9.7" cy="4.7" r="0.37" fill="#aaa"/><circle cx="19.8" cy="9.1" r="0.33" fill="#aaa"/><circle cx="1.3" cy="18.3" r="0.26" fill="#aaa"/><circle cx="11.8" cy="16.8" r="0.28" fill="#aaa"/><circle cx="17.6" cy="19.0" r="0.38" fill="#aaa"/><circle cx="18.9" cy="2.1" r="0.34" fill="#aaa"/><path d="M3.6,16.9 l0.9,-0.7 l0.5,1z" fill="none" stroke="#aaa" stroke-width="0.3"/><path d="M7.1,9.1 l0.9,-0.7 l0.5,1z" fill="none" stroke="#aaa" stroke-width="0.3"/><path d="M24.0,17.0 l0.9,-0.7 l0.5,1z" fill="none" stroke="#aaa" stroke-width="0.3"/><path d="M23.4,9.1 l0.9,-0.7 l0.5,1z" fill="none" stroke="#aaa" stroke-width="0.3"/><path d="M11.7,14.6 l0.9,-0.7 l0.5,1z" fill="none" stroke="#aaa" stroke-width="0.3"/><path d="M11.5,5.8 l0.9,-0.7 l0.5,1z" fill="none" stroke="#aaa" stroke-width="0.3"/></pattern></defs>
<path d="M5,528 V5 H895 V528" fill="none" stroke="#e3e3e3" stroke-width="2"/>
<polyline points="24.40,21.90 54.20,12.40 84.40,21.90" stroke="#333" stroke-width="0.8" fill="none"/>
<polyline points="25.90,23.10 54.20,14.00 82.90,23.10" stroke="#333" stroke-width="0.5" fill="none"/>
<line x1="24.40" y1="24.30" x2="84.40" y2="24.30" stroke="#333" stroke-width="0.8" />
<line x1="24.40" y1="21.90" x2="24.40" y2="24.30" stroke="#333" stroke-width="0.6" />
<line x1="84.40" y1="21.90" x2="84.40" y2="24.30" stroke="#333" stroke-width="0.6" />
<line x1="36.30" y1="24.30" x2="36.30" y2="19.11" stroke="#333" stroke-width="0.6" />
<line x1="44.70" y1="24.30" x2="44.70" y2="16.43" stroke="#333" stroke-width="0.6" />
<line x1="54.20" y1="24.30" x2="54.20" y2="13.40" stroke="#333" stroke-width="0.6" />
<line x1="64.20" y1="24.30" x2="64.20" y2="16.59" stroke="#333" stroke-width="0.6" />
<line x1="72.50" y1="24.30" x2="72.50" y2="19.23" stroke="#333" stroke-width="0.6" />
<line x1="44.70" y1="16.43" x2="54.20" y2="24.30" stroke="#333" stroke-width="0.6" />
<line x1="64.20" y1="16.59" x2="54.20" y2="24.30" stroke="#333" stroke-width="0.6" />
<line x1="36.30" y1="19.11" x2="44.70" y2="24.30" stroke="#333" stroke-width="0.6" />
<line x1="72.50" y1="19.23" x2="64.20" y2="24.30" stroke="#333" stroke-width="0.6" />
<line x1="28.00" y1="21.25" x2="36.30" y2="24.30" stroke="#333" stroke-width="0.5" />
<line x1="81.00" y1="21.44" x2="72.50" y2="24.30" stroke="#333" stroke-width="0.5" />
<circle cx="54.20" cy="13.60" r="1.40" stroke="#333" stroke-width="0.5" fill="#fff"/>
<line x1="24.40" y1="24.30" x2="24.40" y2="86.00" stroke="#999" stroke-width="0.5" />
<line x1="27.20" y1="24.30" x2="27.20" y2="86.00" stroke="#999" stroke-width="0.5" />
<line x1="30.80" y1="24.30" x2="30.80" y2="86.00" stroke="#999" stroke-width="0.5" />
<line x1="77.60" y1="24.30" x2="77.60" y2="86.00" stroke="#999" stroke-width="0.5" />
<line x1="81.00" y1="24.30" x2="81.00" y2="86.00" stroke="#999" stroke-width="0.5" />
<line x1="84.00" y1="24.30" x2="84.00" y2="86.00" stroke="#999" stroke-width="0.5" />
<line x1="32.30" y1="25.30" x2="32.30" y2="86.00" stroke="#888" stroke-width="0.4" />
<line x1="76.30" y1="25.30" x2="76.30" y2="86.00" stroke="#888" stroke-width="0.4" />
<text x="27.60" y="38.60" font-size="3.0" text-anchor="middle" font-weight="bold" fill="#2a2a2a" textLength="4.2" lengthAdjust="spacingAndGlyphs">EL1</text>
<text x="81.00" y="38.60" font-size="3.0" text-anchor="middle" font-weight="bold" fill="#2a2a2a" textLength="4.2" lengthAdjust="spacingAndGlyphs">EL1</text>
<text x="27.60" y="48.90" font-size="3.0" text-anchor="middle" font-weight="bold" fill="#2a2a2a" textLength="4.2" lengthAdjust="spacingAndGlyphs">EL1</text>
<text x="81.00" y="48.90" font-size="3.0" text-anchor="middle" font-weight="bold" fill="#2a2a2a" textLength="4.2" lengthAdjust="spacingAndGlyphs">EL1</text>
<text x="27.60" y="59.70" font-size="3.0" text-anchor="middle" font-weight="bold" fill="#2a2a2a" textLength="4.2" lengthAdjust="spacingAndGlyphs">EL1</text>
<text x="81.00" y="59.70" font-size="3.0" text-anchor="middle" font-weight="bold" fill="#2a2a2a" textLength="4.2" lengthAdjust="spacingAndGlyphs">EL1</text>
<text x="27.60" y="70.60" font-size="3.0" text-anchor="middle" font-weight="bold" fill="#2a2a2a" textLength="4.2" lengthAdjust="spacingAndGlyphs">EL1</text>
<text x="81.00" y="70.60" font-size="3.0" text-anchor="middle" font-weight="bold" fill="#2a2a2a" textLength="4.2" lengthAdjust="spacingAndGlyphs">EL1</text>
<text x="27.60" y="81.40" font-size="3.0" text-anchor="middle" font-weight="bold" fill="#2a2a2a" textLength="4.2" lengthAdjust="spacingAndGlyphs">EL1</text>
<text x="81.00" y="81.40" font-size="3.0" text-anchor="middle" font-weight="bold" fill="#2a2a2a" textLength="4.2" lengthAdjust="spacingAndGlyphs">EL1</text>
<line x1="24.40" y1="30.00" x2="30.80" y2="30.00" stroke="#999" stroke-width="0.35" />
<line x1="77.60" y1="30.00" x2="84.00" y2="30.00" stroke="#999" stroke-width="0.35" />
<line x1="24.40" y1="42.00" x2="30.80" y2="42.00" stroke="#999" stroke-width="0.35" />
<line x1="77.60" y1="42.00" x2="84.00" y2="42.00" stroke="#999" stroke-width="0.35" />
<line x1="24.40" y1="53.00" x2="30.80" y2="53.00" stroke="#999" stroke-width="0.35" />
<line x1="77.60" y1="53.00" x2="84.00" y2="53.00" stroke="#999" stroke-width="0.35" />
<line x1="24.40" y1="64.00" x2="30.80" y2="64.00" stroke="#999" stroke-width="0.35" />
<line x1="77.60" y1="64.00" x2="84.00" y2="64.00" stroke="#999" stroke-width="0.35" />
<line x1="24.40" y1="75.00" x2="30.80" y2="75.00" stroke="#999" stroke-width="0.35" />
<line x1="77.60" y1="75.00" x2="84.00" y2="75.00" stroke="#999" stroke-width="0.35" />
<rect x="52.50" y="46.00" width="8.80" height="6.80" stroke="#333" stroke-width="0.6" fill="none" />
<rect x="62.80" y="46.50" width="3.50" height="6.30" stroke="#333" stroke-width="0.6" fill="none" />
<line x1="51.00" y1="46.00" x2="61.30" y2="45.20" stroke="#333" stroke-width="0.8" />
<ellipse cx="50" cy="41.5" rx="2.6" ry="1.6" fill="#222"/>
<rect x="29.80" y="53.80" width="48.20" height="3.40" stroke="#888" stroke-width="0.45" fill="#f6f6f6" />
<line x1="31.50" y1="54.30" x2="31.50" y2="56.70" stroke="#666" stroke-width="0.5" />
<line x1="34.50" y1="54.30" x2="34.50" y2="56.70" stroke="#666" stroke-width="0.5" />
<line x1="37.50" y1="54.30" x2="37.50" y2="56.70" stroke="#666" stroke-width="0.5" />
<line x1="40.50" y1="54.30" x2="40.50" y2="56.70" stroke="#666" stroke-width="0.5" />
<line x1="43.50" y1="54.30" x2="43.50" y2="56.70" stroke="#666" stroke-width="0.5" />
<line x1="46.50" y1="54.30" x2="46.50" y2="56.70" stroke="#666" stroke-width="0.5" />
<line x1="49.50" y1="54.30" x2="49.50" y2="56.70" stroke="#666" stroke-width="0.5" />
<line x1="52.50" y1="54.30" x2="52.50" y2="56.70" stroke="#666" stroke-width="0.5" />
<line x1="55.50" y1="54.30" x2="55.50" y2="56.70" stroke="#666" stroke-width="0.5" />
<line x1="58.50" y1="54.30" x2="58.50" y2="56.70" stroke="#666" stroke-width="0.5" />
<line x1="61.50" y1="54.30" x2="61.50" y2="56.70" stroke="#666" stroke-width="0.5" />
<line x1="64.50" y1="54.30" x2="64.50" y2="56.70" stroke="#666" stroke-width="0.5" />
<line x1="67.50" y1="54.30" x2="67.50" y2="56.70" stroke="#666" stroke-width="0.5" />
<line x1="70.50" y1="54.30" x2="70.50" y2="56.70" stroke="#666" stroke-width="0.5" />
<line x1="73.50" y1="54.30" x2="73.50" y2="56.70" stroke="#666" stroke-width="0.5" />
<line x1="76.50" y1="54.30" x2="76.50" y2="56.70" stroke="#666" stroke-width="0.5" />
<line x1="29.80" y1="55.50" x2="78.00" y2="55.50" stroke="#aaa" stroke-width="0.3" />
<line x1="32.00" y1="58.20" x2="78.00" y2="58.20" stroke="#777" stroke-width="0.4" />
<line x1="32.00" y1="59.70" x2="78.00" y2="59.70" stroke="#777" stroke-width="0.4" />
<line x1="32.30" y1="60.00" x2="32.30" y2="72.50" stroke="#333" stroke-width="0.5" />
<line x1="37.20" y1="60.00" x2="37.20" y2="72.50" stroke="#333" stroke-width="0.5" />
<line x1="32.30" y1="62.00" x2="37.20" y2="62.00" stroke="#666" stroke-width="0.5" />
<line x1="32.30" y1="64.50" x2="37.20" y2="64.50" stroke="#666" stroke-width="0.5" />
<line x1="32.30" y1="67.00" x2="37.20" y2="67.00" stroke="#666" stroke-width="0.5" />
<line x1="32.30" y1="69.50" x2="37.20" y2="69.50" stroke="#666" stroke-width="0.5" />
<line x1="32.30" y1="72.00" x2="37.20" y2="72.00" stroke="#666" stroke-width="0.5" />
<rect x="32.30" y="73.50" width="43.80" height="4.50" stroke="#333" stroke-width="0.6" fill="none" />
<rect x="47.60" y="73.50" width="13.70" height="9.80" stroke="#333" stroke-width="0.6" fill="none" />
<rect x="50.50" y="75.50" width="8.00" height="7.80" stroke="#333" stroke-width="0.5" fill="none" />
<path d="M52,75.5 Q54.5,73.2 57,75.5" fill="#444" stroke="none"/>
<path d="M29.4,86.3 H80 V128.5 H29.4 Z" fill="url(#stip2)" stroke="none"/>
<line x1="29.40" y1="86.30" x2="29.40" y2="129.00" stroke="#999" stroke-width="0.5" />
<line x1="31.00" y1="88.00" x2="31.00" y2="124.00" stroke="#bbb" stroke-width="0.5"  stroke-dasharray="1,1"/>
<line x1="80.00" y1="86.30" x2="80.00" y2="129.00" stroke="#999" stroke-width="0.5" />
<line x1="78.40" y1="88.00" x2="78.40" y2="124.00" stroke="#bbb" stroke-width="0.5"  stroke-dasharray="1,1"/>
<line x1="31.00" y1="88.00" x2="78.40" y2="88.00" stroke="#bbb" stroke-width="0.5"  stroke-dasharray="1,1"/>
<line x1="31.00" y1="122.00" x2="78.40" y2="122.00" stroke="#bbb" stroke-width="0.5"  stroke-dasharray="1,1"/>
<rect x="30.30" y="83.30" width="48.70" height="3.00" stroke="#555" stroke-width="0.5" fill="#f4f4f4" />
<line x1="31.50" y1="83.60" x2="31.50" y2="86.00" stroke="#333" stroke-width="0.6" />
<line x1="33.50" y1="83.60" x2="33.50" y2="86.00" stroke="#333" stroke-width="0.6" />
<line x1="35.50" y1="83.60" x2="35.50" y2="86.00" stroke="#333" stroke-width="0.6" />
<line x1="37.50" y1="83.60" x2="37.50" y2="86.00" stroke="#333" stroke-width="0.6" />
<line x1="39.50" y1="83.60" x2="39.50" y2="86.00" stroke="#333" stroke-width="0.6" />
<line x1="41.50" y1="83.60" x2="41.50" y2="86.00" stroke="#333" stroke-width="0.6" />
<line x1="43.50" y1="83.60" x2="43.50" y2="86.00" stroke="#333" stroke-width="0.6" />
<line x1="45.50" y1="83.60" x2="45.50" y2="86.00" stroke="#333" stroke-width="0.6" />
<line x1="47.50" y1="83.60" x2="47.50" y2="86.00" stroke="#333" stroke-width="0.6" />
<line x1="49.50" y1="83.60" x2="49.50" y2="86.00" stroke="#333" stroke-width="0.6" />
<line x1="51.50" y1="83.60" x2="51.50" y2="86.00" stroke="#333" stroke-width="0.6" />
<line x1="53.50" y1="83.60" x2="53.50" y2="86.00" stroke="#333" stroke-width="0.6" />
<line x1="55.50" y1="83.60" x2="55.50" y2="86.00" stroke="#333" stroke-width="0.6" />
<line x1="57.50" y1="83.60" x2="57.50" y2="86.00" stroke="#333" stroke-width="0.6" />
<line x1="59.50" y1="83.60" x2="59.50" y2="86.00" stroke="#333" stroke-width="0.6" />
<line x1="61.50" y1="83.60" x2="61.50" y2="86.00" stroke="#333" stroke-width="0.6" />
<line x1="63.50" y1="83.60" x2="63.50" y2="86.00" stroke="#333" stroke-width="0.6" />
<line x1="65.50" y1="83.60" x2="65.50" y2="86.00" stroke="#333" stroke-width="0.6" />
<line x1="67.50" y1="83.60" x2="67.50" y2="86.00" stroke="#333" stroke-width="0.6" />
<line x1="69.50" y1="83.60" x2="69.50" y2="86.00" stroke="#333" stroke-width="0.6" />
<line x1="71.50" y1="83.60" x2="71.50" y2="86.00" stroke="#333" stroke-width="0.6" />
<line x1="73.50" y1="83.60" x2="73.50" y2="86.00" stroke="#333" stroke-width="0.6" />
<line x1="75.50" y1="83.60" x2="75.50" y2="86.00" stroke="#333" stroke-width="0.6" />
<line x1="77.50" y1="83.60" x2="77.50" y2="86.00" stroke="#333" stroke-width="0.6" />
<line x1="29.60" y1="122.80" x2="51.00" y2="148.70" stroke="#888" stroke-width="0.6" />
<line x1="32.20" y1="122.80" x2="52.60" y2="147.50" stroke="#888" stroke-width="0.6" />
<line x1="79.80" y1="122.80" x2="58.60" y2="148.70" stroke="#888" stroke-width="0.6" />
<line x1="77.20" y1="122.80" x2="57.00" y2="147.50" stroke="#888" stroke-width="0.6" />
<line x1="51.00" y1="148.70" x2="51.00" y2="153.00" stroke="#777" stroke-width="0.5" />
<line x1="58.60" y1="148.70" x2="58.60" y2="153.00" stroke="#777" stroke-width="0.5" />
<line x1="53.00" y1="86.00" x2="53.00" y2="190.00" stroke="#ccc" stroke-width="0.35" />
<line x1="42.00" y1="154.60" x2="66.00" y2="154.60" stroke="#333" stroke-width="1.2" />
<line x1="52.00" y1="152.80" x2="66.00" y2="152.80" stroke="#444" stroke-width="0.6" />
<circle cx="39.60" cy="154.60" r="0.90" stroke="#444" stroke-width="0.5" fill="none"/>
<rect x="31.80" y="161.00" width="45.00" height="4.70" stroke="#666" stroke-width="0.55" fill="none" />
<line x1="46.80" y1="161.00" x2="46.80" y2="165.70" stroke="#777" stroke-width="0.5" />
<line x1="61.80" y1="161.00" x2="61.80" y2="165.70" stroke="#777" stroke-width="0.5" />
<line x1="31.80" y1="163.30" x2="76.80" y2="163.30" stroke="#999" stroke-width="0.35" />
<rect x="28.40" y="170.50" width="51.90" height="4.10" stroke="#666" stroke-width="0.5" fill="#fafafa" />
<line x1="30.50" y1="171.40" x2="30.50" y2="173.80" stroke="#444" stroke-width="0.5" />
<line x1="29.60" y1="173.80" x2="31.40" y2="173.80" stroke="#444" stroke-width="0.45" />
<line x1="33.00" y1="171.40" x2="33.00" y2="173.80" stroke="#444" stroke-width="0.5" />
<line x1="32.10" y1="173.80" x2="33.90" y2="173.80" stroke="#444" stroke-width="0.45" />
<line x1="35.50" y1="171.40" x2="35.50" y2="173.80" stroke="#444" stroke-width="0.5" />
<line x1="34.60" y1="173.80" x2="36.40" y2="173.80" stroke="#444" stroke-width="0.45" />
<line x1="38.50" y1="171.40" x2="38.50" y2="173.80" stroke="#444" stroke-width="0.5" />
<line x1="37.60" y1="173.80" x2="39.40" y2="173.80" stroke="#444" stroke-width="0.45" />
<line x1="41.00" y1="171.40" x2="41.00" y2="173.80" stroke="#444" stroke-width="0.5" />
<line x1="40.10" y1="173.80" x2="41.90" y2="173.80" stroke="#444" stroke-width="0.45" />
<line x1="44.00" y1="171.40" x2="44.00" y2="173.80" stroke="#444" stroke-width="0.5" />
<line x1="43.10" y1="173.80" x2="44.90" y2="173.80" stroke="#444" stroke-width="0.45" />
<line x1="47.00" y1="171.40" x2="47.00" y2="173.80" stroke="#444" stroke-width="0.5" />
<line x1="46.10" y1="173.80" x2="47.90" y2="173.80" stroke="#444" stroke-width="0.45" />
<line x1="52.00" y1="171.40" x2="52.00" y2="173.80" stroke="#444" stroke-width="0.5" />
<line x1="51.10" y1="173.80" x2="52.90" y2="173.80" stroke="#444" stroke-width="0.45" />
<line x1="55.00" y1="171.40" x2="55.00" y2="173.80" stroke="#444" stroke-width="0.5" />
<line x1="54.10" y1="173.80" x2="55.90" y2="173.80" stroke="#444" stroke-width="0.45" />
<line x1="58.00" y1="171.40" x2="58.00" y2="173.80" stroke="#444" stroke-width="0.5" />
<line x1="57.10" y1="173.80" x2="58.90" y2="173.80" stroke="#444" stroke-width="0.45" />
<line x1="62.00" y1="171.40" x2="62.00" y2="173.80" stroke="#444" stroke-width="0.5" />
<line x1="61.10" y1="173.80" x2="62.90" y2="173.80" stroke="#444" stroke-width="0.45" />
<line x1="65.00" y1="171.40" x2="65.00" y2="173.80" stroke="#444" stroke-width="0.5" />
<line x1="64.10" y1="173.80" x2="65.90" y2="173.80" stroke="#444" stroke-width="0.45" />
<line x1="68.00" y1="171.40" x2="68.00" y2="173.80" stroke="#444" stroke-width="0.5" />
<line x1="67.10" y1="173.80" x2="68.90" y2="173.80" stroke="#444" stroke-width="0.45" />
<line x1="71.00" y1="171.40" x2="71.00" y2="173.80" stroke="#444" stroke-width="0.5" />
<line x1="70.10" y1="173.80" x2="71.90" y2="173.80" stroke="#444" stroke-width="0.45" />
<line x1="74.00" y1="171.40" x2="74.00" y2="173.80" stroke="#444" stroke-width="0.5" />
<line x1="73.10" y1="173.80" x2="74.90" y2="173.80" stroke="#444" stroke-width="0.45" />
<line x1="77.00" y1="171.40" x2="77.00" y2="173.80" stroke="#444" stroke-width="0.5" />
<line x1="76.10" y1="173.80" x2="77.90" y2="173.80" stroke="#444" stroke-width="0.45" />
<rect x="51.60" y="177.30" width="6.10" height="7.50" stroke="#555" stroke-width="0.5" fill="#e6e6e6" />
<line x1="51.60" y1="178.30" x2="57.70" y2="178.30" stroke="#444" stroke-width="0.45" />
<line x1="51.60" y1="179.50" x2="57.70" y2="179.50" stroke="#444" stroke-width="0.45" />
<line x1="51.60" y1="180.70" x2="57.70" y2="180.70" stroke="#444" stroke-width="0.45" />
<line x1="51.60" y1="181.90" x2="57.70" y2="181.90" stroke="#444" stroke-width="0.45" />
<line x1="51.60" y1="183.10" x2="57.70" y2="183.10" stroke="#444" stroke-width="0.45" />
<line x1="51.60" y1="184.20" x2="57.70" y2="184.20" stroke="#444" stroke-width="0.45" />
<line x1="29.10" y1="124.00" x2="29.10" y2="219.50" stroke="#888" stroke-width="0.6" />
<line x1="31.80" y1="124.00" x2="31.80" y2="219.50" stroke="#999" stroke-width="0.5" />
<line x1="77.50" y1="124.00" x2="77.50" y2="219.50" stroke="#999" stroke-width="0.5" />
<line x1="80.30" y1="124.00" x2="80.30" y2="219.50" stroke="#888" stroke-width="0.6" />
<line x1="22.00" y1="219.50" x2="85.00" y2="219.50" stroke="#222" stroke-width="0.8" />
<line x1="30.00" y1="221.00" x2="30.00" y2="224.00" stroke="#555" stroke-width="0.4" />
<line x1="78.00" y1="221.00" x2="78.00" y2="224.00" stroke="#555" stroke-width="0.4" />
<line x1="28.00" y1="224.50" x2="80.00" y2="224.50" stroke="#444" stroke-width="0.4" />
<text x="54.00" y="223.80" font-size="2.9700000000000006" text-anchor="middle" font-weight="bold" fill="#222" textLength="5" lengthAdjust="spacingAndGlyphs">5000</text>
<circle cx="30.00" cy="227.20" r="2.10" stroke="#333" stroke-width="0.6" fill="none"/>
<circle cx="78.00" cy="227.20" r="2.10" stroke="#333" stroke-width="0.6" fill="none"/>
<text x="30.00" y="228.20" font-size="3.0" text-anchor="middle" font-weight="bold" fill="#222">G</text>
<text x="78.00" y="228.20" font-size="3.0" text-anchor="middle" font-weight="bold" fill="#222">F</text>
<path d="M86.5,224.3 L92.5,219.6 L98.5,224.3 Z" fill="#444" stroke="#222" stroke-width="0.6"/>
<rect x="89.30" y="216.30" width="6.40" height="3.30" stroke="#222" stroke-width="0.6" fill="#fff" />
<text x="92.50" y="218.90" font-size="3.0" text-anchor="middle" font-weight="bold" fill="#222" textLength="5.6" lengthAdjust="spacingAndGlyphs">FGL</text>
<line x1="87.00" y1="222.30" x2="85.80" y2="224.00" stroke="#333" stroke-width="0.5" />
<line x1="89.00" y1="222.30" x2="87.80" y2="224.00" stroke="#333" stroke-width="0.5" />
<line x1="91.00" y1="222.30" x2="89.80" y2="224.00" stroke="#333" stroke-width="0.5" />
<line x1="93.00" y1="222.30" x2="91.80" y2="224.00" stroke="#333" stroke-width="0.5" />
<line x1="95.00" y1="222.30" x2="93.80" y2="224.00" stroke="#333" stroke-width="0.5" />
<text x="35.00" y="38.50" font-size="3.0" text-anchor="start" font-weight="bold" fill="#222" textLength="13.5" lengthAdjust="spacingAndGlyphs">(+)27.30M</text>
<line x1="35.00" y1="39.30" x2="48.50" y2="39.30" stroke="#333" stroke-width="0.4" />
<text x="35.00" y="48.50" font-size="3.0" text-anchor="start" font-weight="bold" fill="#222" textLength="13.5" lengthAdjust="spacingAndGlyphs">PSB1-PR02</text>
<line x1="58.00" y1="37.80" x2="79.00" y2="37.80" stroke="#555" stroke-width="0.4" />
<text x="68.50" y="36.60" font-size="3.0" text-anchor="middle" font-weight="bold" fill="#222" textLength="5.5" lengthAdjust="spacingAndGlyphs">2850</text>
<text x="92.00" y="45.30" font-size="3.0" text-anchor="start" font-weight="bold" fill="#222" textLength="12" lengthAdjust="spacingAndGlyphs">(+)26.430M</text>
<line x1="90.00" y1="46.50" x2="88.00" y2="48.00" stroke="#333" stroke-width="0.4" />
<text x="104.00" y="52.50" font-size="3.0" text-anchor="start" font-weight="bold" fill="#222" textLength="12" lengthAdjust="spacingAndGlyphs">(+)25.75M</text>
<line x1="48.00" y1="38.13" x2="655.00" y2="199.84" stroke="#333" stroke-width="0.6" />
<line x1="52.00" y1="40.90" x2="655.00" y2="201.54" stroke="#555" stroke-width="0.5" />
<path d="M655,200.04 Q690,210.16 722,206 L801,206" fill="none" stroke="#222" stroke-width="0.8"/>
<path d="M655,201.84 Q690,212.16 722,207.6 L801,207.6" fill="none" stroke="#222" stroke-width="0.6"/>
<line x1="68.90" y1="47.40" x2="681.00" y2="210.46" stroke="#111" stroke-width="1.15" />
<line x1="67.50" y1="53.60" x2="675.00" y2="215.07" stroke="#111" stroke-width="1.35" />
<line x1="68.90" y1="47.30" x2="67.50" y2="53.60" stroke="#111" stroke-width="1.5" />
<polyline points="67.50,53.23 74.10,48.69 78.81,56.24 83.52,51.19 88.23,58.75 92.94,53.70 97.65,61.26 102.36,56.21 107.07,63.77 111.78,58.72 116.49,66.28 121.20,61.23 125.91,68.79 130.62,63.74 135.33,71.30 140.04,66.25 144.75,73.81 149.46,68.76 154.17,76.32 158.88,71.27 163.59,78.83 168.30,73.78 173.01,81.33 177.72,76.29 182.43,83.84 187.14,78.80 191.85,86.35 196.56,81.31 201.27,88.86 205.98,83.82 210.69,91.37 215.40,86.33 220.11,93.88 224.82,88.84 229.53,96.39 234.24,91.35 238.95,98.90 243.66,93.86 248.37,101.41 253.08,96.37 257.79,103.92 262.50,98.88 267.21,106.43 271.92,101.38 276.63,108.94 281.34,103.89 286.05,111.45 290.76,106.40 295.47,113.96 300.18,108.91 304.89,116.47 309.60,111.42 314.31,118.98 319.02,113.93 323.73,121.49 328.44,116.44 333.15,124.00 337.86,118.95 342.57,126.51 347.28,121.46 351.99,129.02 356.70,123.97 361.41,131.52 366.12,126.48 370.83,134.03 375.54,128.99 380.25,136.54 384.96,131.50 389.67,139.05 394.38,134.01 399.09,141.56 403.80,136.52 408.51,144.07 413.22,139.03 417.93,146.58 422.64,141.54 427.35,149.09 432.06,144.05 436.77,151.60 441.48,146.56 446.19,154.11 450.90,149.06 455.61,156.62 460.32,151.57 465.03,159.13 469.74,154.08 474.45,161.64 479.16,156.59 483.87,164.15 488.58,159.10 493.29,166.66 498.00,161.61 502.71,169.17 507.42,164.12 512.13,171.68 516.84,166.63 521.55,174.19 526.26,169.14 530.97,176.70 535.68,171.65 540.39,179.20 545.10,174.16 549.81,181.71 554.52,176.67 559.23,184.22 563.94,179.18 568.65,186.73 573.36,181.69 578.07,189.24 582.78,184.20 587.49,191.75 592.20,186.71 596.91,194.26 601.62,189.22 606.33,196.77 611.04,191.73 615.75,199.28 620.46,194.24 625.17,201.79 629.88,196.75 634.59,204.30 639.30,199.25 644.01,206.81 648.72,201.76 653.43,209.32 658.14,204.27 662.85,211.83 667.56,206.78 672.27,214.34 676.98,209.29" stroke="#111" stroke-width="1.25" fill="none"/>
<line x1="681.00" y1="210.36" x2="681.00" y2="215.36" stroke="#111" stroke-width="1.2" />
<line x1="681.00" y1="214.36" x2="687.00" y2="221.50" stroke="#111" stroke-width="1.0" />
<line x1="681.00" y1="210.00" x2="805.00" y2="210.00" stroke="#1a1a1a" stroke-width="1.2" />
<circle cx="801" cy="207.8" r="2.6" fill="#222"/>
<rect x="797.00" y="208.00" width="8.00" height="8.50" stroke="#333" stroke-width="0.6" fill="none" />
<line x1="689.60" y1="210.00" x2="689.60" y2="217.50" stroke="#111" stroke-width="1.4" />
<line x1="709.50" y1="210.00" x2="709.50" y2="217.00" stroke="#111" stroke-width="1.4" />
<line x1="730.50" y1="210.00" x2="730.50" y2="217.00" stroke="#111" stroke-width="1.4" />
<line x1="752.00" y1="210.00" x2="752.00" y2="217.00" stroke="#111" stroke-width="1.4" />
<line x1="773.30" y1="210.00" x2="773.30" y2="217.00" stroke="#111" stroke-width="1.4" />
<line x1="794.50" y1="210.00" x2="794.50" y2="217.00" stroke="#111" stroke-width="1.4" />
<line x1="85.00" y1="219.50" x2="87.00" y2="222.00" stroke="#222" stroke-width="0.8" />
<line x1="87.00" y1="222.30" x2="707.00" y2="222.30" stroke="#222" stroke-width="0.8" />
<line x1="707.00" y1="222.30" x2="708.00" y2="217.00" stroke="#222" stroke-width="0.8" />
<line x1="708.00" y1="217.00" x2="880.00" y2="217.00" stroke="#222" stroke-width="0.8" />
<rect x="164.90" y="79.97" width="2.20" height="134.83" stroke="#333" stroke-width="0.6" fill="#ddd" />
<path d="M164.40,214.70 h3.2 l0.9,2.6 h-5z" fill="#222"/>
<rect x="163.60" y="217.30" width="4.80" height="5.00" stroke="#333" stroke-width="0.6" fill="#fff" />
<rect x="388.40" y="139.51" width="2.20" height="75.29" stroke="#333" stroke-width="0.6" fill="#ddd" />
<path d="M387.90,214.70 h3.2 l0.9,2.6 h-5z" fill="#222"/>
<rect x="387.10" y="217.30" width="4.80" height="5.00" stroke="#333" stroke-width="0.6" fill="#fff" />
<rect x="486.40" y="165.62" width="2.20" height="49.18" stroke="#333" stroke-width="0.6" fill="#ddd" />
<path d="M485.90,214.70 h3.2 l0.9,2.6 h-5z" fill="#222"/>
<rect x="485.10" y="217.30" width="4.80" height="5.00" stroke="#333" stroke-width="0.6" fill="#fff" />
<rect x="583.50" y="191.48" width="2.20" height="23.32" stroke="#333" stroke-width="0.6" fill="#ddd" />
<path d="M583.00,214.70 h3.2 l0.9,2.6 h-5z" fill="#222"/>
<rect x="582.20" y="217.30" width="4.80" height="5.00" stroke="#333" stroke-width="0.6" fill="#fff" />
<rect x="262.00" y="105.74" width="3.00" height="108.96" stroke="#444" stroke-width="0.6" fill="#d8d8d8" />
<path d="M261.90,214.7 h3.2 l0.9,2.6 h-5z" fill="#222"/>
<rect x="261.10" y="217.30" width="4.80" height="5.00" stroke="#333" stroke-width="0.6" fill="#fff" />
<rect x="290.80" y="113.41" width="3.00" height="101.29" stroke="#444" stroke-width="0.6" fill="#d8d8d8" />
<path d="M290.70,214.7 h3.2 l0.9,2.6 h-5z" fill="#222"/>
<rect x="289.90" y="217.30" width="4.80" height="5.00" stroke="#333" stroke-width="0.6" fill="#fff" />
<rect x="263.50" y="112.80" width="28.80" height="1.80" stroke="#444" stroke-width="0.5" fill="#ccc" />
<rect x="263.50" y="143.00" width="28.80" height="2.60" stroke="#444" stroke-width="0.5" fill="#ccc" />
<rect x="263.50" y="191.00" width="28.80" height="1.80" stroke="#444" stroke-width="0.5" fill="#ccc" />
<line x1="265.00" y1="114.60" x2="290.80" y2="142.80" stroke="#222" stroke-width="0.8" />
<line x1="290.80" y1="114.60" x2="265.00" y2="142.80" stroke="#222" stroke-width="0.8" />
<line x1="265.00" y1="145.80" x2="290.80" y2="190.80" stroke="#222" stroke-width="0.8" />
<line x1="290.80" y1="145.80" x2="265.00" y2="190.80" stroke="#222" stroke-width="0.8" />
<rect x="707.00" y="71.30" width="164.60" height="9.30" stroke="#bbb" stroke-width="0.5" fill="#ececec" />
<line x1="707.00" y1="74.50" x2="871.60" y2="74.50" stroke="#ccc" stroke-width="0.4" />
<line x1="706.80" y1="80.60" x2="706.80" y2="173.00" stroke="#888" stroke-width="0.5" />
<line x1="709.80" y1="80.60" x2="709.80" y2="173.00" stroke="#888" stroke-width="0.5" />
<line x1="713.00" y1="80.60" x2="713.00" y2="173.00" stroke="#888" stroke-width="0.5" />
<line x1="865.60" y1="80.60" x2="865.60" y2="173.00" stroke="#888" stroke-width="0.5" />
<line x1="868.80" y1="80.60" x2="868.80" y2="173.00" stroke="#888" stroke-width="0.5" />
<line x1="871.40" y1="80.60" x2="871.40" y2="173.00" stroke="#888" stroke-width="0.5" />
<text x="709.90" y="86.00" font-size="3.0" text-anchor="middle" font-weight="bold" fill="#777" textLength="3.6" lengthAdjust="spacingAndGlyphs">EL</text>
<text x="868.60" y="86.00" font-size="3.0" text-anchor="middle" font-weight="bold" fill="#777" textLength="3.6" lengthAdjust="spacingAndGlyphs">EL</text>
<text x="709.90" y="93.50" font-size="3.0" text-anchor="middle" font-weight="bold" fill="#777" textLength="3.6" lengthAdjust="spacingAndGlyphs">EL</text>
<text x="868.60" y="93.50" font-size="3.0" text-anchor="middle" font-weight="bold" fill="#777" textLength="3.6" lengthAdjust="spacingAndGlyphs">EL</text>
<text x="709.90" y="101.00" font-size="3.0" text-anchor="middle" font-weight="bold" fill="#777" textLength="3.6" lengthAdjust="spacingAndGlyphs">EL</text>
<text x="868.60" y="101.00" font-size="3.0" text-anchor="middle" font-weight="bold" fill="#777" textLength="3.6" lengthAdjust="spacingAndGlyphs">EL</text>
<text x="709.90" y="109.00" font-size="3.0" text-anchor="middle" font-weight="bold" fill="#777" textLength="3.6" lengthAdjust="spacingAndGlyphs">EL</text>
<text x="868.60" y="109.00" font-size="3.0" text-anchor="middle" font-weight="bold" fill="#777" textLength="3.6" lengthAdjust="spacingAndGlyphs">EL</text>
<text x="709.90" y="118.00" font-size="3.0" text-anchor="middle" font-weight="bold" fill="#777" textLength="3.6" lengthAdjust="spacingAndGlyphs">EL</text>
<text x="868.60" y="118.00" font-size="3.0" text-anchor="middle" font-weight="bold" fill="#777" textLength="3.6" lengthAdjust="spacingAndGlyphs">EL</text>
<text x="709.90" y="128.00" font-size="3.0" text-anchor="middle" font-weight="bold" fill="#777" textLength="3.6" lengthAdjust="spacingAndGlyphs">EL</text>
<text x="868.60" y="128.00" font-size="3.0" text-anchor="middle" font-weight="bold" fill="#777" textLength="3.6" lengthAdjust="spacingAndGlyphs">EL</text>
<text x="709.90" y="139.00" font-size="3.0" text-anchor="middle" font-weight="bold" fill="#777" textLength="3.6" lengthAdjust="spacingAndGlyphs">EL</text>
<text x="868.60" y="139.00" font-size="3.0" text-anchor="middle" font-weight="bold" fill="#777" textLength="3.6" lengthAdjust="spacingAndGlyphs">EL</text>
<text x="709.90" y="150.00" font-size="3.0" text-anchor="middle" font-weight="bold" fill="#777" textLength="3.6" lengthAdjust="spacingAndGlyphs">EL</text>
<text x="868.60" y="150.00" font-size="3.0" text-anchor="middle" font-weight="bold" fill="#777" textLength="3.6" lengthAdjust="spacingAndGlyphs">EL</text>
<text x="709.90" y="161.00" font-size="3.0" text-anchor="middle" font-weight="bold" fill="#777" textLength="3.6" lengthAdjust="spacingAndGlyphs">EL</text>
<text x="868.60" y="161.00" font-size="3.0" text-anchor="middle" font-weight="bold" fill="#777" textLength="3.6" lengthAdjust="spacingAndGlyphs">EL</text>
<text x="709.90" y="171.00" font-size="3.0" text-anchor="middle" font-weight="bold" fill="#777" textLength="3.6" lengthAdjust="spacingAndGlyphs">EL</text>
<text x="868.60" y="171.00" font-size="3.0" text-anchor="middle" font-weight="bold" fill="#777" textLength="3.6" lengthAdjust="spacingAndGlyphs">EL</text>
<line x1="758.40" y1="80.60" x2="758.40" y2="173.00" stroke="#888" stroke-width="0.4" />
<line x1="759.60" y1="80.60" x2="759.60" y2="173.00" stroke="#888" stroke-width="0.4" />
<line x1="808.40" y1="80.60" x2="808.40" y2="173.00" stroke="#888" stroke-width="0.4" />
<line x1="809.60" y1="80.60" x2="809.60" y2="173.00" stroke="#888" stroke-width="0.4" />
<line x1="713.00" y1="96.50" x2="866.00" y2="96.50" stroke="#ccc" stroke-width="0.4"  stroke-dasharray="2,1"/>
<path d="M713,109.7 V101.6 q0,-1 1,-1 H756 q1,0 1,1 V109.7" fill="none" stroke="#555" stroke-width="0.6"/>
<line x1="713.00" y1="105.15" x2="757.00" y2="105.15" stroke="#555" stroke-width="0.5" />
<line x1="725.00" y1="100.60" x2="725.00" y2="109.70" stroke="#555" stroke-width="0.5" />
<line x1="735.20" y1="100.60" x2="735.20" y2="109.70" stroke="#555" stroke-width="0.5" />
<line x1="745.50" y1="100.60" x2="745.50" y2="109.70" stroke="#555" stroke-width="0.5" />
<path d="M761,109.7 V101.6 q0,-1 1,-1 H806 q1,0 1,1 V109.7" fill="none" stroke="#555" stroke-width="0.6"/>
<line x1="761.00" y1="105.15" x2="807.00" y2="105.15" stroke="#555" stroke-width="0.5" />
<line x1="771.00" y1="100.60" x2="771.00" y2="109.70" stroke="#555" stroke-width="0.5" />
<line x1="781.00" y1="100.60" x2="781.00" y2="109.70" stroke="#555" stroke-width="0.5" />
<line x1="791.00" y1="100.60" x2="791.00" y2="109.70" stroke="#555" stroke-width="0.5" />
<line x1="801.00" y1="100.60" x2="801.00" y2="109.70" stroke="#555" stroke-width="0.5" />
<path d="M811,109.7 V101.6 q0,-1 1,-1 H855 q1,0 1,1 V109.7" fill="none" stroke="#555" stroke-width="0.6"/>
<line x1="811.00" y1="105.15" x2="856.00" y2="105.15" stroke="#555" stroke-width="0.5" />
<line x1="811.20" y1="100.60" x2="811.20" y2="109.70" stroke="#555" stroke-width="0.5" />
<line x1="824.50" y1="100.60" x2="824.50" y2="109.70" stroke="#555" stroke-width="0.5" />
<line x1="837.70" y1="100.60" x2="837.70" y2="109.70" stroke="#555" stroke-width="0.5" />
<line x1="851.00" y1="100.60" x2="851.00" y2="109.70" stroke="#555" stroke-width="0.5" />
<line x1="709.00" y1="110.80" x2="866.00" y2="110.80" stroke="#333" stroke-width="0.6" />
<line x1="709.00" y1="114.20" x2="866.00" y2="114.20" stroke="#333" stroke-width="0.6" />
<path d="M716,111 l0.8,1.6 l0.8,-1.6z" fill="#444"/>
<path d="M725,111 l0.8,1.6 l0.8,-1.6z" fill="#444"/>
<path d="M734,111 l0.8,1.6 l0.8,-1.6z" fill="#444"/>
<path d="M743,111 l0.8,1.6 l0.8,-1.6z" fill="#444"/>
<path d="M752,111 l0.8,1.6 l0.8,-1.6z" fill="#444"/>
<path d="M761,111 l0.8,1.6 l0.8,-1.6z" fill="#444"/>
<path d="M770,111 l0.8,1.6 l0.8,-1.6z" fill="#444"/>
<path d="M779,111 l0.8,1.6 l0.8,-1.6z" fill="#444"/>
<path d="M788,111 l0.8,1.6 l0.8,-1.6z" fill="#444"/>
<path d="M797,111 l0.8,1.6 l0.8,-1.6z" fill="#444"/>
<path d="M806,111 l0.8,1.6 l0.8,-1.6z" fill="#444"/>
<path d="M815,111 l0.8,1.6 l0.8,-1.6z" fill="#444"/>
<path d="M824,111 l0.8,1.6 l0.8,-1.6z" fill="#444"/>
<path d="M833,111 l0.8,1.6 l0.8,-1.6z" fill="#444"/>
<path d="M842,111 l0.8,1.6 l0.8,-1.6z" fill="#444"/>
<path d="M851,111 l0.8,1.6 l0.8,-1.6z" fill="#444"/>
<path d="M860,111 l0.8,1.6 l0.8,-1.6z" fill="#444"/>
<rect x="709.00" y="138.50" width="157.00" height="4.00" stroke="#999" stroke-width="0.5" fill="#eee" />
<path d="M713,167.7 V160 q0,-1 1,-1 H855 q1,0 1,1 V167.7" fill="none" stroke="#555" stroke-width="0.6"/>
<line x1="713.00" y1="163.35" x2="856.00" y2="163.35" stroke="#555" stroke-width="0.5" />
<line x1="725.00" y1="159.00" x2="725.00" y2="167.70" stroke="#555" stroke-width="0.5" />
<line x1="737.00" y1="159.00" x2="737.00" y2="167.70" stroke="#555" stroke-width="0.5" />
<line x1="749.00" y1="159.00" x2="749.00" y2="167.70" stroke="#555" stroke-width="0.5" />
<line x1="759.00" y1="159.00" x2="759.00" y2="167.70" stroke="#555" stroke-width="0.5" />
<line x1="771.00" y1="159.00" x2="771.00" y2="167.70" stroke="#555" stroke-width="0.5" />
<line x1="783.00" y1="159.00" x2="783.00" y2="167.70" stroke="#555" stroke-width="0.5" />
<line x1="795.00" y1="159.00" x2="795.00" y2="167.70" stroke="#555" stroke-width="0.5" />
<line x1="809.00" y1="159.00" x2="809.00" y2="167.70" stroke="#555" stroke-width="0.5" />
<line x1="821.00" y1="159.00" x2="821.00" y2="167.70" stroke="#555" stroke-width="0.5" />
<line x1="833.00" y1="159.00" x2="833.00" y2="167.70" stroke="#555" stroke-width="0.5" />
<line x1="845.00" y1="159.00" x2="845.00" y2="167.70" stroke="#555" stroke-width="0.5" />
<line x1="709.00" y1="168.40" x2="866.00" y2="168.40" stroke="#333" stroke-width="0.6" />
<line x1="709.00" y1="170.80" x2="866.00" y2="170.80" stroke="#333" stroke-width="0.5" />
<line x1="709.00" y1="173.20" x2="866.00" y2="173.20" stroke="#333" stroke-width="0.6" />
<line x1="712.74" y1="114.79" x2="758.74" y2="138.99" stroke="#555" stroke-width="0.5" />
<line x1="713.26" y1="113.81" x2="759.26" y2="138.01" stroke="#555" stroke-width="0.5" />
<line x1="758.74" y1="113.81" x2="712.74" y2="138.01" stroke="#555" stroke-width="0.5" />
<line x1="759.26" y1="114.79" x2="713.26" y2="138.99" stroke="#555" stroke-width="0.5" />
<line x1="712.73" y1="142.98" x2="758.73" y2="168.88" stroke="#555" stroke-width="0.5" />
<line x1="713.27" y1="142.02" x2="759.27" y2="167.92" stroke="#555" stroke-width="0.5" />
<line x1="758.73" y1="142.02" x2="712.73" y2="167.92" stroke="#555" stroke-width="0.5" />
<line x1="759.27" y1="142.98" x2="713.27" y2="168.88" stroke="#555" stroke-width="0.5" />
<circle cx="722.2" cy="119.1" r="0.55" fill="#666"/>
<circle cx="749.8" cy="119.1" r="0.55" fill="#666"/>
<circle cx="722.2" cy="147.7" r="0.55" fill="#666"/>
<circle cx="749.8" cy="147.7" r="0.55" fill="#666"/>
<circle cx="731.4" cy="124.0" r="0.55" fill="#666"/>
<circle cx="740.6" cy="124.0" r="0.55" fill="#666"/>
<circle cx="731.4" cy="152.9" r="0.55" fill="#666"/>
<circle cx="740.6" cy="152.9" r="0.55" fill="#666"/>
<circle cx="740.6" cy="128.8" r="0.55" fill="#666"/>
<circle cx="731.4" cy="128.8" r="0.55" fill="#666"/>
<circle cx="740.6" cy="158.0" r="0.55" fill="#666"/>
<circle cx="731.4" cy="158.0" r="0.55" fill="#666"/>
<circle cx="749.8" cy="133.7" r="0.55" fill="#666"/>
<circle cx="722.2" cy="133.7" r="0.55" fill="#666"/>
<circle cx="749.8" cy="163.2" r="0.55" fill="#666"/>
<circle cx="722.2" cy="163.2" r="0.55" fill="#666"/>
<line x1="758.76" y1="114.80" x2="808.76" y2="139.00" stroke="#555" stroke-width="0.5" />
<line x1="759.24" y1="113.80" x2="809.24" y2="138.00" stroke="#555" stroke-width="0.5" />
<line x1="808.76" y1="113.80" x2="758.76" y2="138.00" stroke="#555" stroke-width="0.5" />
<line x1="809.24" y1="114.80" x2="759.24" y2="139.00" stroke="#555" stroke-width="0.5" />
<line x1="758.75" y1="142.99" x2="808.75" y2="168.89" stroke="#555" stroke-width="0.5" />
<line x1="759.25" y1="142.01" x2="809.25" y2="167.91" stroke="#555" stroke-width="0.5" />
<line x1="808.75" y1="142.01" x2="758.75" y2="167.91" stroke="#555" stroke-width="0.5" />
<line x1="809.25" y1="142.99" x2="759.25" y2="168.89" stroke="#555" stroke-width="0.5" />
<circle cx="769.0" cy="119.1" r="0.55" fill="#666"/>
<circle cx="799.0" cy="119.1" r="0.55" fill="#666"/>
<circle cx="769.0" cy="147.7" r="0.55" fill="#666"/>
<circle cx="799.0" cy="147.7" r="0.55" fill="#666"/>
<circle cx="779.0" cy="124.0" r="0.55" fill="#666"/>
<circle cx="789.0" cy="124.0" r="0.55" fill="#666"/>
<circle cx="779.0" cy="152.9" r="0.55" fill="#666"/>
<circle cx="789.0" cy="152.9" r="0.55" fill="#666"/>
<circle cx="789.0" cy="128.8" r="0.55" fill="#666"/>
<circle cx="779.0" cy="128.8" r="0.55" fill="#666"/>
<circle cx="789.0" cy="158.0" r="0.55" fill="#666"/>
<circle cx="779.0" cy="158.0" r="0.55" fill="#666"/>
<circle cx="799.0" cy="133.7" r="0.55" fill="#666"/>
<circle cx="769.0" cy="133.7" r="0.55" fill="#666"/>
<circle cx="799.0" cy="163.2" r="0.55" fill="#666"/>
<circle cx="769.0" cy="163.2" r="0.55" fill="#666"/>
<line x1="808.78" y1="114.81" x2="865.38" y2="139.01" stroke="#555" stroke-width="0.5" />
<line x1="809.22" y1="113.79" x2="865.82" y2="137.99" stroke="#555" stroke-width="0.5" />
<line x1="865.38" y1="113.79" x2="808.78" y2="137.99" stroke="#555" stroke-width="0.5" />
<line x1="865.82" y1="114.81" x2="809.22" y2="139.01" stroke="#555" stroke-width="0.5" />
<line x1="808.77" y1="143.00" x2="865.37" y2="168.90" stroke="#555" stroke-width="0.5" />
<line x1="809.23" y1="142.00" x2="865.83" y2="167.90" stroke="#555" stroke-width="0.5" />
<line x1="865.37" y1="142.00" x2="808.77" y2="167.90" stroke="#555" stroke-width="0.5" />
<line x1="865.83" y1="143.00" x2="809.23" y2="168.90" stroke="#555" stroke-width="0.5" />
<circle cx="820.3" cy="119.1" r="0.55" fill="#666"/>
<circle cx="854.3" cy="119.1" r="0.55" fill="#666"/>
<circle cx="820.3" cy="147.7" r="0.55" fill="#666"/>
<circle cx="854.3" cy="147.7" r="0.55" fill="#666"/>
<circle cx="831.6" cy="124.0" r="0.55" fill="#666"/>
<circle cx="843.0" cy="124.0" r="0.55" fill="#666"/>
<circle cx="831.6" cy="152.9" r="0.55" fill="#666"/>
<circle cx="843.0" cy="152.9" r="0.55" fill="#666"/>
<circle cx="843.0" cy="128.8" r="0.55" fill="#666"/>
<circle cx="831.6" cy="128.8" r="0.55" fill="#666"/>
<circle cx="843.0" cy="158.0" r="0.55" fill="#666"/>
<circle cx="831.6" cy="158.0" r="0.55" fill="#666"/>
<circle cx="854.3" cy="133.7" r="0.55" fill="#666"/>
<circle cx="820.3" cy="133.7" r="0.55" fill="#666"/>
<circle cx="854.3" cy="163.2" r="0.55" fill="#666"/>
<circle cx="820.3" cy="163.2" r="0.55" fill="#666"/>
<line x1="746.40" y1="126.50" x2="817.00" y2="149.30" stroke="#333" stroke-width="0.7" />
<line x1="746.40" y1="128.80" x2="817.00" y2="151.60" stroke="#444" stroke-width="0.6" />
<line x1="746.40" y1="134.50" x2="813.00" y2="156.00" stroke="#555" stroke-width="0.55" />
<line x1="746.40" y1="143.00" x2="819.00" y2="163.40" stroke="#444" stroke-width="0.6" />
<line x1="746.40" y1="126.50" x2="746.40" y2="143.00" stroke="#444" stroke-width="0.6" />
<line x1="817.00" y1="149.30" x2="821.40" y2="153.20" stroke="#444" stroke-width="0.6" />
<line x1="821.40" y1="153.20" x2="830.50" y2="156.60" stroke="#555" stroke-width="0.6" />
<line x1="817.00" y1="151.60" x2="817.00" y2="160.00" stroke="#555" stroke-width="0.5" />
<line x1="755.50" y1="131.74" x2="755.50" y2="145.56" stroke="#555" stroke-width="0.5" />
<line x1="758.90" y1="132.84" x2="758.90" y2="146.51" stroke="#555" stroke-width="0.5" />
<line x1="769.00" y1="136.10" x2="769.00" y2="149.35" stroke="#555" stroke-width="0.5" />
<line x1="789.50" y1="142.72" x2="789.50" y2="155.11" stroke="#555" stroke-width="0.5" />
<line x1="803.00" y1="147.08" x2="803.00" y2="158.90" stroke="#555" stroke-width="0.5" />
<circle cx="781.60" cy="145.20" r="2.30" stroke="#444" stroke-width="0.6" fill="#fff"/>
<path d="M773.5,150 q2.5,-4.5 5,-1 q-1,2.5 -5,1z" fill="#111"/>
<circle cx="772.5" cy="149" r="0.9" fill="#333"/>
<path d="M747,140 l2,-4 l2,4z" fill="#333"/>
<path d="M813,164 l2,-3 l2,3z" fill="#444"/>
<line x1="807.70" y1="160.00" x2="807.70" y2="168.00" stroke="#666" stroke-width="0.5" />
<path d="M744,94.3 L753.4,93.2 L753.4,101 L744,104 Z" fill="none" stroke="#555" stroke-width="0.5"/>
<ellipse cx="749" cy="101.5" rx="2" ry="1" fill="#333"/>
<path d="M755,105 l1.5,-2 l1.5,2z" fill="#222"/>
<line x1="744.00" y1="104.00" x2="744.00" y2="113.00" stroke="#555" stroke-width="0.5" />
<line x1="749.00" y1="104.00" x2="749.00" y2="113.00" stroke="#555" stroke-width="0.5" />
<line x1="744.00" y1="113.00" x2="718.00" y2="136.00" stroke="#666" stroke-width="0.5" />
<line x1="749.00" y1="113.00" x2="723.00" y2="137.00" stroke="#666" stroke-width="0.5" />
<line x1="745.00" y1="128.00" x2="745.00" y2="168.00" stroke="#777" stroke-width="0.5" />
<line x1="752.00" y1="128.00" x2="752.00" y2="168.00" stroke="#777" stroke-width="0.5" />
<line x1="805.00" y1="150.00" x2="805.00" y2="168.00" stroke="#777" stroke-width="0.5" />
<line x1="708.80" y1="173.20" x2="708.80" y2="217.00" stroke="#888" stroke-width="0.45" />
<line x1="710.80" y1="173.20" x2="710.80" y2="217.00" stroke="#888" stroke-width="0.45" />
<rect x="707.60" y="175.40" width="4.40" height="10.60" stroke="#777" stroke-width="0.45" fill="#fff" />
<line x1="707.60" y1="177.50" x2="712.00" y2="177.50" stroke="#888" stroke-width="0.4" />
<line x1="707.60" y1="179.50" x2="712.00" y2="179.50" stroke="#888" stroke-width="0.4" />
<line x1="707.60" y1="184.00" x2="712.00" y2="184.00" stroke="#888" stroke-width="0.4" />
<line x1="758.00" y1="173.20" x2="758.00" y2="217.00" stroke="#888" stroke-width="0.45" />
<line x1="760.00" y1="173.20" x2="760.00" y2="217.00" stroke="#888" stroke-width="0.45" />
<rect x="756.80" y="175.40" width="4.40" height="10.60" stroke="#777" stroke-width="0.45" fill="#fff" />
<line x1="756.80" y1="177.50" x2="761.20" y2="177.50" stroke="#888" stroke-width="0.4" />
<line x1="756.80" y1="179.50" x2="761.20" y2="179.50" stroke="#888" stroke-width="0.4" />
<line x1="756.80" y1="184.00" x2="761.20" y2="184.00" stroke="#888" stroke-width="0.4" />
<line x1="808.00" y1="173.20" x2="808.00" y2="217.00" stroke="#888" stroke-width="0.45" />
<line x1="810.00" y1="173.20" x2="810.00" y2="217.00" stroke="#888" stroke-width="0.45" />
<rect x="806.80" y="175.40" width="4.40" height="10.60" stroke="#777" stroke-width="0.45" fill="#fff" />
<line x1="806.80" y1="177.50" x2="811.20" y2="177.50" stroke="#888" stroke-width="0.4" />
<line x1="806.80" y1="179.50" x2="811.20" y2="179.50" stroke="#888" stroke-width="0.4" />
<line x1="806.80" y1="184.00" x2="811.20" y2="184.00" stroke="#888" stroke-width="0.4" />
<line x1="865.00" y1="173.20" x2="865.00" y2="217.00" stroke="#888" stroke-width="0.45" />
<line x1="867.00" y1="173.20" x2="867.00" y2="217.00" stroke="#888" stroke-width="0.45" />
<rect x="863.80" y="175.40" width="4.40" height="10.60" stroke="#777" stroke-width="0.45" fill="#fff" />
<line x1="863.80" y1="177.50" x2="868.20" y2="177.50" stroke="#888" stroke-width="0.4" />
<line x1="863.80" y1="179.50" x2="868.20" y2="179.50" stroke="#888" stroke-width="0.4" />
<line x1="863.80" y1="184.00" x2="868.20" y2="184.00" stroke="#888" stroke-width="0.4" />
<polyline points="769.70,173.20 786.00,194.00 788.00,194.00 804.60,173.20" stroke="#666" stroke-width="0.6" fill="none"/>
<rect x="785.50" y="194.00" width="3.00" height="3.00" stroke="#666" stroke-width="0.5" fill="none" />
<line x1="713.00" y1="191.70" x2="864.00" y2="191.70" stroke="#888" stroke-width="0.5" />
<line x1="713.00" y1="195.00" x2="864.00" y2="195.00" stroke="#888" stroke-width="0.5" />
<line x1="725.00" y1="191.70" x2="725.00" y2="195.00" stroke="#999" stroke-width="0.4" />
<line x1="750.00" y1="191.70" x2="750.00" y2="195.00" stroke="#999" stroke-width="0.4" />
<line x1="770.00" y1="191.70" x2="770.00" y2="195.00" stroke="#999" stroke-width="0.4" />
<line x1="800.00" y1="191.70" x2="800.00" y2="195.00" stroke="#999" stroke-width="0.4" />
<line x1="830.00" y1="191.70" x2="830.00" y2="195.00" stroke="#999" stroke-width="0.4" />
<line x1="855.00" y1="191.70" x2="855.00" y2="195.00" stroke="#999" stroke-width="0.4" />
<line x1="821.00" y1="173.20" x2="841.60" y2="192.80" stroke="#666" stroke-width="0.6" />
<line x1="825.00" y1="173.20" x2="845.00" y2="192.00" stroke="#777" stroke-width="0.5" />
<line x1="841.60" y1="192.80" x2="842.00" y2="200.00" stroke="#777" stroke-width="0.5" />
<line x1="707.00" y1="217.00" x2="880.00" y2="217.00" stroke="#222" stroke-width="0.8" />
<line x1="868.00" y1="97.00" x2="880.00" y2="99.80" stroke="#888" stroke-width="0.4" />
<text x="720.00" y="198.50" font-size="2.7" text-anchor="start" font-weight="bold" fill="#222" textLength="13" lengthAdjust="spacingAndGlyphs">FSB-PR2</text>
<text x="734.00" y="203.00" font-size="2.7" text-anchor="start" font-weight="bold" fill="#222" textLength="13" lengthAdjust="spacingAndGlyphs">FSD-PR0</text>
<text x="769.00" y="204.40" font-size="2.7" text-anchor="start" font-weight="bold" fill="#222" textLength="15" lengthAdjust="spacingAndGlyphs">(+)1.750M</text>
<line x1="769.00" y1="205.00" x2="784.00" y2="205.00" stroke="#222" stroke-width="0.35" />
<text x="792.00" y="202.00" font-size="2.7" text-anchor="start" font-weight="bold" fill="#222" textLength="13" lengthAdjust="spacingAndGlyphs">PSO-PR2</text>
<text x="818.00" y="205.00" font-size="2.7" text-anchor="start" font-weight="bold" fill="#222" textLength="11" lengthAdjust="spacingAndGlyphs">(+)1.47M</text>
<line x1="818.00" y1="205.60" x2="830.00" y2="205.60" stroke="#222" stroke-width="0.35" />
<text x="818.00" y="211.70" font-size="2.7" text-anchor="start" font-weight="bold" fill="#222" textLength="12" lengthAdjust="spacingAndGlyphs">(+)0.750M</text>
<line x1="818.00" y1="212.30" x2="831.00" y2="212.30" stroke="#222" stroke-width="0.35" />
<path d="M814,207 l2.5,-1.4 v2.8z M814,213.5 l2.5,-1.4 v2.8z" fill="#222"/>
<line x1="30.00" y1="303.30" x2="878.00" y2="303.30" stroke="#c8c8c8" stroke-width="0.6" />
<line x1="30.00" y1="314.60" x2="878.00" y2="314.60" stroke="#c8c8c8" stroke-width="0.6" />
<line x1="30.00" y1="281.00" x2="30.00" y2="380.00" stroke="#c8c8c8" stroke-width="0.5" />
<line x1="78.80" y1="281.00" x2="78.80" y2="380.00" stroke="#c8c8c8" stroke-width="0.5" />
<line x1="14.00" y1="284.70" x2="86.00" y2="284.70" stroke="#c8c8c8" stroke-width="0.5" />
<line x1="14.00" y1="333.80" x2="86.00" y2="333.80" stroke="#c8c8c8" stroke-width="0.5" />
<rect x="28.00" y="282.20" width="4.00" height="5.00" stroke="#444" stroke-width="0.6" fill="#fff" />
<rect x="28.00" y="331.30" width="4.00" height="5.00" stroke="#444" stroke-width="0.6" fill="#fff" />
<rect x="76.80" y="282.20" width="4.00" height="5.00" stroke="#444" stroke-width="0.6" fill="#fff" />
<rect x="76.80" y="331.30" width="4.00" height="5.00" stroke="#444" stroke-width="0.6" fill="#fff" />
<line x1="30.00" y1="275.00" x2="78.80" y2="275.00" stroke="#333" stroke-width="0.4" />
<line x1="29.00" y1="276.00" x2="31.00" y2="274.00" stroke="#222" stroke-width="0.5" />
<line x1="77.80" y1="276.00" x2="79.80" y2="274.00" stroke="#222" stroke-width="0.5" />
<line x1="30.00" y1="272.00" x2="30.00" y2="278.00" stroke="#666" stroke-width="0.3" />
<line x1="78.80" y1="272.00" x2="78.80" y2="278.00" stroke="#666" stroke-width="0.3" />
<text x="54.40" y="274.30" font-size="2.9700000000000006" text-anchor="middle" font-weight="bold" fill="#222" textLength="5" lengthAdjust="spacingAndGlyphs">5000</text>
<line x1="18.00" y1="284.70" x2="18.00" y2="333.80" stroke="#333" stroke-width="0.4" />
<line x1="17.00" y1="285.70" x2="19.00" y2="283.70" stroke="#222" stroke-width="0.5" />
<line x1="17.00" y1="334.80" x2="19.00" y2="332.80" stroke="#222" stroke-width="0.5" />
<text x="16.50" y="309.20" font-size="2.9700000000000006" text-anchor="middle" font-weight="bold" fill="#222" textLength="5" lengthAdjust="spacingAndGlyphs" transform="rotate(-90 16.50 309.20)">5000</text>
<circle cx="14.8" cy="284.7" r="1.9" fill="#fff" stroke="#222" stroke-width="0.6"/>
<text x="14.80" y="285.60" font-size="3.0" text-anchor="middle" font-weight="bold" fill="#222">C</text>
<circle cx="14.8" cy="333.8" r="1.9" fill="#fff" stroke="#222" stroke-width="0.6"/>
<text x="14.80" y="334.70" font-size="3.0" text-anchor="middle" font-weight="bold" fill="#222">A</text>
<line x1="86.00" y1="284.70" x2="86.00" y2="333.80" stroke="#999" stroke-width="0.4" />
<line x1="85.00" y1="285.70" x2="87.00" y2="283.70" stroke="#222" stroke-width="0.5" />
<line x1="85.00" y1="304.30" x2="87.00" y2="302.30" stroke="#222" stroke-width="0.5" />
<line x1="85.00" y1="315.60" x2="87.00" y2="313.60" stroke="#222" stroke-width="0.5" />
<line x1="85.00" y1="334.80" x2="87.00" y2="332.80" stroke="#222" stroke-width="0.5" />
<text x="84.20" y="294.00" font-size="3.0" text-anchor="middle" font-weight="bold" fill="#333" textLength="5.5" lengthAdjust="spacingAndGlyphs" transform="rotate(-90 84.20 294.00)">2000</text>
<text x="84.20" y="324.20" font-size="3.0" text-anchor="middle" font-weight="bold" fill="#333" textLength="5.5" lengthAdjust="spacingAndGlyphs" transform="rotate(-90 84.20 324.20)">2000</text>
<rect x="51.70" y="290.80" width="16.00" height="6.60" stroke="#444" stroke-width="0.55" fill="none"  stroke-dasharray="1.5,0.8"/>
<line x1="51.70" y1="294.10" x2="67.70" y2="294.10" stroke="#555" stroke-width="0.5"  stroke-dasharray="1.5,0.8"/>
<line x1="56.00" y1="291.60" x2="56.00" y2="296.60" stroke="#333" stroke-width="0.5"  stroke-dasharray="1.5,0.8"/>
<line x1="60.00" y1="291.60" x2="60.00" y2="296.60" stroke="#333" stroke-width="0.5"  stroke-dasharray="1.5,0.8"/>
<line x1="64.00" y1="291.60" x2="64.00" y2="296.60" stroke="#333" stroke-width="0.5"  stroke-dasharray="1.5,0.8"/>
<rect x="51.70" y="320.00" width="16.00" height="6.60" stroke="#444" stroke-width="0.55" fill="none"  stroke-dasharray="1.5,0.8"/>
<line x1="51.70" y1="323.30" x2="67.70" y2="323.30" stroke="#555" stroke-width="0.5"  stroke-dasharray="1.5,0.8"/>
<line x1="56.00" y1="320.80" x2="56.00" y2="325.80" stroke="#333" stroke-width="0.5"  stroke-dasharray="1.5,0.8"/>
<line x1="60.00" y1="320.80" x2="60.00" y2="325.80" stroke="#333" stroke-width="0.5"  stroke-dasharray="1.5,0.8"/>
<line x1="64.00" y1="320.80" x2="64.00" y2="325.80" stroke="#333" stroke-width="0.5"  stroke-dasharray="1.5,0.8"/>
<line x1="52.00" y1="307.00" x2="68.00" y2="307.00" stroke="#333" stroke-width="0.7" />
<line x1="52.00" y1="308.60" x2="68.00" y2="308.60" stroke="#555" stroke-width="0.5" />
<line x1="52.00" y1="311.20" x2="68.00" y2="311.20" stroke="#333" stroke-width="0.7" />
<line x1="52.30" y1="297.40" x2="52.30" y2="320.00" stroke="#555" stroke-width="0.5"  stroke-dasharray="1.5,0.8"/>
<line x1="67.40" y1="297.40" x2="67.40" y2="320.00" stroke="#555" stroke-width="0.5"  stroke-dasharray="1.5,0.8"/>
<text x="35.50" y="292.00" font-size="2.7" text-anchor="start" font-weight="bold" fill="#222" textLength="12" lengthAdjust="spacingAndGlyphs">PSB1-PR02</text>
<line x1="35.50" y1="292.60" x2="51.50" y2="292.60" stroke="#222" stroke-width="0.3" />
<text x="35.50" y="321.50" font-size="2.7" text-anchor="start" font-weight="bold" fill="#222" textLength="12" lengthAdjust="spacingAndGlyphs">PSB1-PR11</text>
<line x1="35.50" y1="322.10" x2="51.50" y2="322.10" stroke="#222" stroke-width="0.3" />
<line x1="78.80" y1="355.40" x2="712.00" y2="355.40" stroke="#8a8a8a" stroke-width="0.6" />
<line x1="30.00" y1="377.00" x2="866.00" y2="377.00" stroke="#d4d4d4" stroke-width="0.8" />
<line x1="77.80" y1="356.30" x2="79.80" y2="354.30" stroke="#222" stroke-width="0.5" />
<line x1="262.50" y1="356.30" x2="264.50" y2="354.30" stroke="#222" stroke-width="0.5" />
<line x1="292.00" y1="356.30" x2="294.00" y2="354.30" stroke="#222" stroke-width="0.5" />
<line x1="388.70" y1="356.30" x2="390.70" y2="354.30" stroke="#222" stroke-width="0.5" />
<line x1="486.20" y1="356.30" x2="488.20" y2="354.30" stroke="#222" stroke-width="0.5" />
<line x1="583.40" y1="356.30" x2="585.40" y2="354.30" stroke="#222" stroke-width="0.5" />
<line x1="666.00" y1="356.30" x2="668.00" y2="354.30" stroke="#222" stroke-width="0.5" />
<line x1="710.00" y1="356.30" x2="712.00" y2="354.30" stroke="#222" stroke-width="0.5" />
<line x1="29.00" y1="378.00" x2="31.00" y2="376.00" stroke="#222" stroke-width="0.5" />
<line x1="77.80" y1="378.00" x2="79.80" y2="376.00" stroke="#222" stroke-width="0.5" />
<line x1="710.00" y1="378.00" x2="712.00" y2="376.00" stroke="#222" stroke-width="0.5" />
<line x1="758.40" y1="378.00" x2="760.40" y2="376.00" stroke="#222" stroke-width="0.5" />
<line x1="807.00" y1="378.00" x2="809.00" y2="376.00" stroke="#222" stroke-width="0.5" />
<line x1="865.40" y1="378.00" x2="867.40" y2="376.00" stroke="#222" stroke-width="0.5" />
<line x1="78.80" y1="336.00" x2="78.80" y2="357.00" stroke="#c8c8c8" stroke-width="0.4" />
<text x="122.00" y="354.20" font-size="3.0" text-anchor="middle" font-weight="bold" fill="#222" textLength="8" lengthAdjust="spacingAndGlyphs">9000</text>
<text x="215.00" y="354.20" font-size="3.0" text-anchor="middle" font-weight="bold" fill="#222" textLength="8" lengthAdjust="spacingAndGlyphs">9000</text>
<text x="278.30" y="354.20" font-size="3.0" text-anchor="middle" font-weight="bold" fill="#222" textLength="8" lengthAdjust="spacingAndGlyphs">3000</text>
<text x="341.00" y="354.20" font-size="3.0" text-anchor="middle" font-weight="bold" fill="#222" textLength="8" lengthAdjust="spacingAndGlyphs">10000</text>
<text x="438.00" y="354.20" font-size="3.0" text-anchor="middle" font-weight="bold" fill="#222" textLength="8" lengthAdjust="spacingAndGlyphs">10000</text>
<text x="536.00" y="354.20" font-size="3.0" text-anchor="middle" font-weight="bold" fill="#222" textLength="8" lengthAdjust="spacingAndGlyphs">10000</text>
<text x="625.00" y="354.20" font-size="3.0" text-anchor="middle" font-weight="bold" fill="#222" textLength="8" lengthAdjust="spacingAndGlyphs">8500</text>
<text x="690.00" y="354.20" font-size="3.0" text-anchor="middle" font-weight="bold" fill="#222" textLength="8" lengthAdjust="spacingAndGlyphs">4125</text>
<text x="54.00" y="375.90" font-size="3.0" text-anchor="middle" font-weight="bold" fill="#222" textLength="8" lengthAdjust="spacingAndGlyphs">5000</text>
<text x="395.00" y="375.90" font-size="3.0" text-anchor="middle" font-weight="bold" fill="#222" textLength="8" lengthAdjust="spacingAndGlyphs">60000</text>
<text x="735.00" y="375.90" font-size="3.0" text-anchor="middle" font-weight="bold" fill="#222" textLength="8" lengthAdjust="spacingAndGlyphs">5400</text>
<text x="783.00" y="375.90" font-size="3.0" text-anchor="middle" font-weight="bold" fill="#222" textLength="8" lengthAdjust="spacingAndGlyphs">5000</text>
<text x="838.00" y="375.90" font-size="3.0" text-anchor="middle" font-weight="bold" fill="#222" textLength="8" lengthAdjust="spacingAndGlyphs">4600</text>
<line x1="30.00" y1="377.00" x2="30.00" y2="378.00" stroke="#222" stroke-width="0.4" />
<ellipse cx="30.00" cy="379.50" rx="2.75" ry="2.20" fill="#fff" stroke="#222" stroke-width="0.65"/>
<text x="30.00" y="380.60" font-size="3.0" text-anchor="middle" font-weight="bold" fill="#222">G</text>
<line x1="78.80" y1="377.00" x2="78.80" y2="378.00" stroke="#222" stroke-width="0.4" />
<ellipse cx="78.80" cy="379.50" rx="2.75" ry="2.20" fill="#fff" stroke="#222" stroke-width="0.65"/>
<text x="78.80" y="380.60" font-size="3.0" text-anchor="middle" font-weight="bold" fill="#222">F</text>
<line x1="165.80" y1="289.00" x2="165.80" y2="356.00" stroke="#c8c8c8" stroke-width="0.5" />
<rect x="164.40" y="287.10" width="4.2" height="4.2" fill="#111"/>
<rect x="165.80" y="288.50" width="1.4" height="1.4" fill="#fff"/>
<rect x="164.40" y="326.30" width="4.2" height="4.2" fill="#111"/>
<rect x="165.80" y="327.70" width="1.4" height="1.4" fill="#fff"/>
<line x1="168.83" y1="291.87" x2="181.63" y2="304.67" stroke="#111" stroke-width="1.0" />
<line x1="168.83" y1="325.73" x2="181.63" y2="311.73" stroke="#111" stroke-width="1.0" />
<line x1="170.17" y1="290.53" x2="182.97" y2="303.33" stroke="#111" stroke-width="1.0" />
<line x1="170.17" y1="327.07" x2="182.97" y2="313.07" stroke="#111" stroke-width="1.0" />
<line x1="154.30" y1="289.00" x2="154.30" y2="328.40" stroke="#999" stroke-width="0.45" />
<line x1="153.30" y1="290.20" x2="155.30" y2="288.20" stroke="#222" stroke-width="0.5" />
<line x1="153.30" y1="329.40" x2="155.30" y2="327.40" stroke="#222" stroke-width="0.5" />
<text x="152.80" y="309.00" font-size="3.0" text-anchor="middle" font-weight="bold" fill="#333" textLength="6" lengthAdjust="spacingAndGlyphs" transform="rotate(-90 152.80 309.00)">4000</text>
<line x1="159.60" y1="289.20" x2="159.60" y2="303.30" stroke="#999" stroke-width="0.45" />
<line x1="159.60" y1="314.60" x2="159.60" y2="328.40" stroke="#999" stroke-width="0.45" />
<line x1="158.60" y1="290.20" x2="160.60" y2="288.20" stroke="#222" stroke-width="0.5" />
<line x1="158.60" y1="304.30" x2="160.60" y2="302.30" stroke="#222" stroke-width="0.5" />
<line x1="158.60" y1="315.60" x2="160.60" y2="313.60" stroke="#222" stroke-width="0.5" />
<line x1="158.60" y1="329.40" x2="160.60" y2="327.40" stroke="#222" stroke-width="0.5" />
<text x="158.20" y="296.30" font-size="3.0" text-anchor="middle" font-weight="bold" fill="#333" textLength="5" lengthAdjust="spacingAndGlyphs" transform="rotate(-90 158.20 296.30)">1000</text>
<text x="158.20" y="321.50" font-size="3.0" text-anchor="middle" font-weight="bold" fill="#333" textLength="5" lengthAdjust="spacingAndGlyphs" transform="rotate(-90 158.20 321.50)">1000</text>
<circle cx="170.90" cy="278.00" r="0.9" fill="#111"/>
<line x1="170.90" y1="278.00" x2="173.40" y2="275.50" stroke="#333" stroke-width="0.4" />
<text x="174.10" y="278.20" font-size="2.7" text-anchor="start" font-weight="bold" fill="#222">G</text>
<circle cx="170.90" cy="337.00" r="0.9" fill="#111"/>
<line x1="170.90" y1="337.00" x2="173.40" y2="334.50" stroke="#333" stroke-width="0.4" />
<text x="174.10" y="337.20" font-size="2.7" text-anchor="start" font-weight="bold" fill="#222">G</text>
<ellipse cx="165.80" cy="358.60" rx="3.12" ry="2.50" fill="#fff" stroke="#222" stroke-width="0.65"/>
<text x="165.80" y="359.70" font-size="3.0" text-anchor="middle" font-weight="bold" fill="#222">G</text>
<line x1="263.50" y1="289.00" x2="263.50" y2="356.00" stroke="#c8c8c8" stroke-width="0.5" />
<line x1="293.00" y1="289.00" x2="293.00" y2="356.00" stroke="#c8c8c8" stroke-width="0.5" />
<line x1="263.50" y1="289.00" x2="293.00" y2="289.00" stroke="#c8c8c8" stroke-width="0.5" />
<line x1="263.50" y1="328.00" x2="293.00" y2="328.00" stroke="#c8c8c8" stroke-width="0.5" />
<line x1="277.50" y1="280.00" x2="277.50" y2="331.00" stroke="#c8c8c8" stroke-width="0.5" />
<rect x="261.40" y="286.90" width="4.2" height="4.2" fill="#111"/>
<rect x="262.80" y="288.30" width="1.4" height="1.4" fill="#fff"/>
<text x="268.50" y="295.10" font-size="3.0" text-anchor="middle" font-weight="bold" fill="#222" textLength="7" lengthAdjust="spacingAndGlyphs" transform="rotate(45 268.50 295.10)">PSC1</text>
<rect x="261.40" y="325.90" width="4.2" height="4.2" fill="#111"/>
<rect x="262.80" y="327.30" width="1.4" height="1.4" fill="#fff"/>
<text x="268.50" y="323.70" font-size="3.0" text-anchor="middle" font-weight="bold" fill="#222" textLength="7" lengthAdjust="spacingAndGlyphs" transform="rotate(-45 268.50 323.70)">PSC1</text>
<rect x="290.90" y="286.90" width="4.2" height="4.2" fill="#111"/>
<rect x="292.30" y="288.30" width="1.4" height="1.4" fill="#fff"/>
<text x="288.00" y="295.10" font-size="3.0" text-anchor="middle" font-weight="bold" fill="#222" textLength="7" lengthAdjust="spacingAndGlyphs" transform="rotate(-45 288.00 295.10)">PSC1</text>
<rect x="290.90" y="325.90" width="4.2" height="4.2" fill="#111"/>
<rect x="292.30" y="327.30" width="1.4" height="1.4" fill="#fff"/>
<text x="288.00" y="323.70" font-size="3.0" text-anchor="middle" font-weight="bold" fill="#222" textLength="7" lengthAdjust="spacingAndGlyphs" transform="rotate(45 288.00 323.70)">PSC1</text>
<line x1="256.00" y1="289.00" x2="256.00" y2="328.00" stroke="#333" stroke-width="0.4" />
<line x1="255.00" y1="290.00" x2="257.00" y2="288.00" stroke="#222" stroke-width="0.5" />
<line x1="255.00" y1="302.00" x2="257.00" y2="300.00" stroke="#222" stroke-width="0.5" />
<line x1="255.00" y1="317.00" x2="257.00" y2="315.00" stroke="#222" stroke-width="0.5" />
<line x1="255.00" y1="329.00" x2="257.00" y2="327.00" stroke="#222" stroke-width="0.5" />
<text x="254.60" y="295.00" font-size="3.0" text-anchor="middle" font-weight="bold" fill="#333" textLength="5.5" lengthAdjust="spacingAndGlyphs" transform="rotate(-90 254.60 295.00)">1000</text>
<text x="254.60" y="308.60" font-size="3.0" text-anchor="middle" font-weight="bold" fill="#333" textLength="5.5" lengthAdjust="spacingAndGlyphs" transform="rotate(-90 254.60 308.60)">1800</text>
<text x="254.60" y="322.00" font-size="3.0" text-anchor="middle" font-weight="bold" fill="#333" textLength="5.5" lengthAdjust="spacingAndGlyphs" transform="rotate(-90 254.60 322.00)">1000</text>
<line x1="302.00" y1="289.00" x2="302.00" y2="328.00" stroke="#333" stroke-width="0.4" />
<line x1="301.00" y1="290.00" x2="303.00" y2="288.00" stroke="#222" stroke-width="0.5" />
<line x1="301.00" y1="329.00" x2="303.00" y2="327.00" stroke="#222" stroke-width="0.5" />
<text x="300.60" y="308.60" font-size="3.0" text-anchor="middle" font-weight="bold" fill="#333" textLength="6" lengthAdjust="spacingAndGlyphs" transform="rotate(-90 300.60 308.60)">4000</text>
<ellipse cx="277.50" cy="283.40" rx="3.25" ry="2.60" fill="#fff" stroke="#222" stroke-width="0.65"/>
<text x="277.50" y="284.50" font-size="3.0" text-anchor="middle" font-weight="bold" fill="#222">FE</text>
<circle cx="266.00" cy="278.50" r="0.9" fill="#111"/>
<line x1="266.00" y1="278.50" x2="268.50" y2="276.00" stroke="#333" stroke-width="0.4" />
<text x="269.20" y="278.70" font-size="2.7" text-anchor="start" font-weight="bold" fill="#222">F</text>
<circle cx="301.00" cy="278.50" r="0.9" fill="#111"/>
<line x1="301.00" y1="278.50" x2="303.50" y2="276.00" stroke="#333" stroke-width="0.4" />
<text x="304.20" y="278.70" font-size="2.7" text-anchor="start" font-weight="bold" fill="#222">E</text>
<circle cx="267.00" cy="337.00" r="0.9" fill="#111"/>
<line x1="267.00" y1="337.00" x2="269.50" y2="334.50" stroke="#333" stroke-width="0.4" />
<text x="270.20" y="337.20" font-size="2.7" text-anchor="start" font-weight="bold" fill="#222">F</text>
<circle cx="302.00" cy="337.00" r="0.9" fill="#111"/>
<line x1="302.00" y1="337.00" x2="304.50" y2="334.50" stroke="#333" stroke-width="0.4" />
<text x="305.20" y="337.20" font-size="2.7" text-anchor="start" font-weight="bold" fill="#222">E</text>
<line x1="389.70" y1="296.70" x2="389.70" y2="356.00" stroke="#c8c8c8" stroke-width="0.5" />
<rect x="387.60" y="294.60" width="4.2" height="4.2" fill="#111"/>
<rect x="389.00" y="296.00" width="1.4" height="1.4" fill="#fff"/>
<rect x="387.60" y="318.90" width="4.2" height="4.2" fill="#111"/>
<rect x="389.00" y="320.30" width="1.4" height="1.4" fill="#fff"/>
<line x1="378.40" y1="297.00" x2="378.40" y2="321.00" stroke="#999" stroke-width="0.45" />
<line x1="377.40" y1="298.00" x2="379.40" y2="296.00" stroke="#222" stroke-width="0.5" />
<line x1="377.40" y1="322.00" x2="379.40" y2="320.00" stroke="#222" stroke-width="0.5" />
<text x="377.10" y="309.20" font-size="3.0" text-anchor="middle" font-weight="bold" fill="#333" textLength="6" lengthAdjust="spacingAndGlyphs" transform="rotate(-90 377.10 309.20)">2500</text>
<line x1="379.20" y1="293.00" x2="381.10" y2="294.50" stroke="#333" stroke-width="0.5" />
<line x1="381.10" y1="294.10" x2="383.90" y2="295.50" stroke="#333" stroke-width="0.55" />
<line x1="382.30" y1="295.10" x2="383.10" y2="292.50" stroke="#333" stroke-width="0.5" />
<text x="382.10" y="293.70" font-size="3.0" text-anchor="middle" font-weight="bold" fill="#333" transform="rotate(-60 382.10 293.70)">P</text>
<text x="394.30" y="292.90" font-size="3.0" text-anchor="middle" font-weight="bold" fill="#222" textLength="6.5" lengthAdjust="spacingAndGlyphs" transform="rotate(-55 394.30 292.90)">PSC1</text>
<line x1="379.20" y1="322.30" x2="381.10" y2="323.80" stroke="#333" stroke-width="0.5" />
<line x1="381.10" y1="323.60" x2="383.90" y2="322.20" stroke="#333" stroke-width="0.55" />
<line x1="382.30" y1="322.60" x2="383.10" y2="325.20" stroke="#333" stroke-width="0.5" />
<text x="382.10" y="325.60" font-size="3.0" text-anchor="middle" font-weight="bold" fill="#333" transform="rotate(60 382.10 325.60)">P</text>
<text x="394.30" y="326.40" font-size="3.0" text-anchor="middle" font-weight="bold" fill="#222" textLength="6.5" lengthAdjust="spacingAndGlyphs" transform="rotate(55 394.30 326.40)">PSC1</text>
<circle cx="396.20" cy="278.00" r="0.9" fill="#111"/>
<line x1="396.20" y1="278.00" x2="398.70" y2="275.50" stroke="#333" stroke-width="0.4" />
<text x="399.40" y="278.20" font-size="2.7" text-anchor="start" font-weight="bold" fill="#222">D</text>
<circle cx="395.70" cy="337.00" r="0.9" fill="#111"/>
<line x1="395.70" y1="337.00" x2="398.20" y2="334.50" stroke="#333" stroke-width="0.4" />
<text x="398.90" y="337.20" font-size="2.7" text-anchor="start" font-weight="bold" fill="#222">D</text>
<ellipse cx="389.70" cy="358.60" rx="3.25" ry="2.60" fill="#fff" stroke="#222" stroke-width="0.65"/>
<text x="389.70" y="359.70" font-size="3.0" text-anchor="middle" font-weight="bold" fill="#222">D</text>
<line x1="487.20" y1="296.70" x2="487.20" y2="356.00" stroke="#c8c8c8" stroke-width="0.5" />
<rect x="485.10" y="294.60" width="4.2" height="4.2" fill="#111"/>
<rect x="486.50" y="296.00" width="1.4" height="1.4" fill="#fff"/>
<rect x="485.10" y="318.90" width="4.2" height="4.2" fill="#111"/>
<rect x="486.50" y="320.30" width="1.4" height="1.4" fill="#fff"/>
<line x1="475.90" y1="297.00" x2="475.90" y2="321.00" stroke="#999" stroke-width="0.45" />
<line x1="474.90" y1="298.00" x2="476.90" y2="296.00" stroke="#222" stroke-width="0.5" />
<line x1="474.90" y1="322.00" x2="476.90" y2="320.00" stroke="#222" stroke-width="0.5" />
<text x="474.60" y="309.20" font-size="3.0" text-anchor="middle" font-weight="bold" fill="#333" textLength="6" lengthAdjust="spacingAndGlyphs" transform="rotate(-90 474.60 309.20)">2500</text>
<line x1="476.70" y1="293.00" x2="478.60" y2="294.50" stroke="#333" stroke-width="0.5" />
<line x1="478.60" y1="294.10" x2="481.40" y2="295.50" stroke="#333" stroke-width="0.55" />
<line x1="479.80" y1="295.10" x2="480.60" y2="292.50" stroke="#333" stroke-width="0.5" />
<text x="479.60" y="293.70" font-size="3.0" text-anchor="middle" font-weight="bold" fill="#333" transform="rotate(-60 479.60 293.70)">P</text>
<text x="491.80" y="292.90" font-size="3.0" text-anchor="middle" font-weight="bold" fill="#222" textLength="6.5" lengthAdjust="spacingAndGlyphs" transform="rotate(-55 491.80 292.90)">PSC1</text>
<line x1="476.70" y1="322.30" x2="478.60" y2="323.80" stroke="#333" stroke-width="0.5" />
<line x1="478.60" y1="323.60" x2="481.40" y2="322.20" stroke="#333" stroke-width="0.55" />
<line x1="479.80" y1="322.60" x2="480.60" y2="325.20" stroke="#333" stroke-width="0.5" />
<text x="479.60" y="325.60" font-size="3.0" text-anchor="middle" font-weight="bold" fill="#333" transform="rotate(60 479.60 325.60)">P</text>
<text x="491.80" y="326.40" font-size="3.0" text-anchor="middle" font-weight="bold" fill="#222" textLength="6.5" lengthAdjust="spacingAndGlyphs" transform="rotate(55 491.80 326.40)">PSC1</text>
<circle cx="493.70" cy="278.00" r="0.9" fill="#111"/>
<line x1="493.70" y1="278.00" x2="496.20" y2="275.50" stroke="#333" stroke-width="0.4" />
<text x="496.90" y="278.20" font-size="2.7" text-anchor="start" font-weight="bold" fill="#222">C</text>
<circle cx="493.20" cy="337.00" r="0.9" fill="#111"/>
<line x1="493.20" y1="337.00" x2="495.70" y2="334.50" stroke="#333" stroke-width="0.4" />
<text x="496.40" y="337.20" font-size="2.7" text-anchor="start" font-weight="bold" fill="#222">C</text>
<ellipse cx="487.20" cy="358.60" rx="3.25" ry="2.60" fill="#fff" stroke="#222" stroke-width="0.65"/>
<text x="487.20" y="359.70" font-size="3.0" text-anchor="middle" font-weight="bold" fill="#222">C</text>
<line x1="584.40" y1="296.70" x2="584.40" y2="356.00" stroke="#c8c8c8" stroke-width="0.5" />
<rect x="582.30" y="294.60" width="4.2" height="4.2" fill="#111"/>
<rect x="583.70" y="296.00" width="1.4" height="1.4" fill="#fff"/>
<rect x="582.30" y="318.90" width="4.2" height="4.2" fill="#111"/>
<rect x="583.70" y="320.30" width="1.4" height="1.4" fill="#fff"/>
<line x1="573.10" y1="297.00" x2="573.10" y2="321.00" stroke="#999" stroke-width="0.45" />
<line x1="572.10" y1="298.00" x2="574.10" y2="296.00" stroke="#222" stroke-width="0.5" />
<line x1="572.10" y1="322.00" x2="574.10" y2="320.00" stroke="#222" stroke-width="0.5" />
<text x="571.80" y="309.20" font-size="3.0" text-anchor="middle" font-weight="bold" fill="#333" textLength="6" lengthAdjust="spacingAndGlyphs" transform="rotate(-90 571.80 309.20)">2500</text>
<line x1="573.90" y1="293.00" x2="575.80" y2="294.50" stroke="#333" stroke-width="0.5" />
<line x1="575.80" y1="294.10" x2="578.60" y2="295.50" stroke="#333" stroke-width="0.55" />
<line x1="577.00" y1="295.10" x2="577.80" y2="292.50" stroke="#333" stroke-width="0.5" />
<text x="576.80" y="293.70" font-size="3.0" text-anchor="middle" font-weight="bold" fill="#333" transform="rotate(-60 576.80 293.70)">P</text>
<text x="589.00" y="292.90" font-size="3.0" text-anchor="middle" font-weight="bold" fill="#222" textLength="6.5" lengthAdjust="spacingAndGlyphs" transform="rotate(-55 589.00 292.90)">PSC1</text>
<line x1="573.90" y1="322.30" x2="575.80" y2="323.80" stroke="#333" stroke-width="0.5" />
<line x1="575.80" y1="323.60" x2="578.60" y2="322.20" stroke="#333" stroke-width="0.55" />
<line x1="577.00" y1="322.60" x2="577.80" y2="325.20" stroke="#333" stroke-width="0.5" />
<text x="576.80" y="325.60" font-size="3.0" text-anchor="middle" font-weight="bold" fill="#333" transform="rotate(60 576.80 325.60)">P</text>
<text x="589.00" y="326.40" font-size="3.0" text-anchor="middle" font-weight="bold" fill="#222" textLength="6.5" lengthAdjust="spacingAndGlyphs" transform="rotate(55 589.00 326.40)">PSC1</text>
<circle cx="590.90" cy="278.00" r="0.9" fill="#111"/>
<line x1="590.90" y1="278.00" x2="593.40" y2="275.50" stroke="#333" stroke-width="0.4" />
<text x="594.10" y="278.20" font-size="2.7" text-anchor="start" font-weight="bold" fill="#222">B</text>
<circle cx="590.40" cy="337.00" r="0.9" fill="#111"/>
<line x1="590.40" y1="337.00" x2="592.90" y2="334.50" stroke="#333" stroke-width="0.4" />
<text x="593.60" y="337.20" font-size="2.7" text-anchor="start" font-weight="bold" fill="#222">B</text>
<ellipse cx="584.40" cy="358.60" rx="3.25" ry="2.60" fill="#fff" stroke="#222" stroke-width="0.65"/>
<text x="584.40" y="359.70" font-size="3.0" text-anchor="middle" font-weight="bold" fill="#222">B</text>
<line x1="667.00" y1="296.70" x2="667.00" y2="356.00" stroke="#c8c8c8" stroke-width="0.5" />
<rect x="664.90" y="294.60" width="4.2" height="4.2" fill="#111"/>
<rect x="666.30" y="296.00" width="1.4" height="1.4" fill="#fff"/>
<rect x="664.90" y="318.90" width="4.2" height="4.2" fill="#111"/>
<rect x="666.30" y="320.30" width="1.4" height="1.4" fill="#fff"/>
<line x1="655.70" y1="297.00" x2="655.70" y2="321.00" stroke="#999" stroke-width="0.45" />
<line x1="654.70" y1="298.00" x2="656.70" y2="296.00" stroke="#222" stroke-width="0.5" />
<line x1="654.70" y1="322.00" x2="656.70" y2="320.00" stroke="#222" stroke-width="0.5" />
<text x="654.40" y="309.20" font-size="3.0" text-anchor="middle" font-weight="bold" fill="#333" textLength="6" lengthAdjust="spacingAndGlyphs" transform="rotate(-90 654.40 309.20)">2500</text>
<line x1="656.50" y1="293.00" x2="658.40" y2="294.50" stroke="#333" stroke-width="0.5" />
<line x1="658.40" y1="294.10" x2="661.20" y2="295.50" stroke="#333" stroke-width="0.55" />
<line x1="659.60" y1="295.10" x2="660.40" y2="292.50" stroke="#333" stroke-width="0.5" />
<text x="659.40" y="293.70" font-size="3.0" text-anchor="middle" font-weight="bold" fill="#333" transform="rotate(-60 659.40 293.70)">P</text>
<text x="671.60" y="292.90" font-size="3.0" text-anchor="middle" font-weight="bold" fill="#222" textLength="6.5" lengthAdjust="spacingAndGlyphs" transform="rotate(-55 671.60 292.90)">PSC1</text>
<line x1="656.50" y1="322.30" x2="658.40" y2="323.80" stroke="#333" stroke-width="0.5" />
<line x1="658.40" y1="323.60" x2="661.20" y2="322.20" stroke="#333" stroke-width="0.55" />
<line x1="659.60" y1="322.60" x2="660.40" y2="325.20" stroke="#333" stroke-width="0.5" />
<text x="659.40" y="325.60" font-size="3.0" text-anchor="middle" font-weight="bold" fill="#333" transform="rotate(60 659.40 325.60)">P</text>
<text x="671.60" y="326.40" font-size="3.0" text-anchor="middle" font-weight="bold" fill="#222" textLength="6.5" lengthAdjust="spacingAndGlyphs" transform="rotate(55 671.60 326.40)">PSC1</text>
<circle cx="673.50" cy="278.00" r="0.9" fill="#111"/>
<line x1="673.50" y1="278.00" x2="676.00" y2="275.50" stroke="#333" stroke-width="0.4" />
<text x="676.70" y="278.20" font-size="2.7" text-anchor="start" font-weight="bold" fill="#222">A</text>
<circle cx="673.00" cy="337.00" r="0.9" fill="#111"/>
<line x1="673.00" y1="337.00" x2="675.50" y2="334.50" stroke="#333" stroke-width="0.4" />
<text x="676.20" y="337.20" font-size="2.7" text-anchor="start" font-weight="bold" fill="#222">A</text>
<ellipse cx="667.00" cy="358.60" rx="3.25" ry="2.60" fill="#fff" stroke="#222" stroke-width="0.65"/>
<text x="667.00" y="359.70" font-size="3.0" text-anchor="middle" font-weight="bold" fill="#222">A</text>
<text x="419.40" y="302.00" font-size="3.0" text-anchor="start" font-weight="bold" fill="#333" textLength="20" lengthAdjust="spacingAndGlyphs">RM 3 CONVEYOR</text>
<text x="419.40" y="313.40" font-size="3.0" text-anchor="start" font-weight="bold" fill="#333" textLength="20" lengthAdjust="spacingAndGlyphs">RM 3 CONVEYOR</text>
<line x1="426.00" y1="302.50" x2="431.00" y2="302.50" stroke="#444" stroke-width="0.3" />
<line x1="426.00" y1="314.40" x2="431.00" y2="314.40" stroke="#444" stroke-width="0.3" />
<line x1="700.00" y1="279.30" x2="882.00" y2="279.30" stroke="#bdbdbd" stroke-width="0.5" />
<line x1="700.00" y1="338.40" x2="882.00" y2="338.40" stroke="#bdbdbd" stroke-width="0.5" />
<line x1="800.00" y1="367.00" x2="882.00" y2="367.00" stroke="#bdbdbd" stroke-width="0.5" />
<line x1="711.00" y1="276.00" x2="711.00" y2="379.00" stroke="#bdbdbd" stroke-width="0.5" />
<line x1="759.40" y1="276.00" x2="759.40" y2="379.00" stroke="#bdbdbd" stroke-width="0.5" />
<line x1="808.00" y1="276.00" x2="808.00" y2="379.00" stroke="#bdbdbd" stroke-width="0.5" />
<line x1="866.40" y1="276.00" x2="866.40" y2="379.00" stroke="#bdbdbd" stroke-width="0.5" />
<rect x="707.75" y="276.05" width="6.50" height="6.50" stroke="#555" stroke-width="0.6" fill="#fff" />
<rect x="708.75" y="277.05" width="4.50" height="4.50" stroke="#aaa" stroke-width="0.3" fill="none" />
<rect x="707.75" y="335.15" width="6.50" height="6.50" stroke="#555" stroke-width="0.6" fill="#fff" />
<rect x="708.75" y="336.15" width="4.50" height="4.50" stroke="#aaa" stroke-width="0.3" fill="none" />
<rect x="756.15" y="276.05" width="6.50" height="6.50" stroke="#555" stroke-width="0.6" fill="#fff" />
<rect x="757.15" y="277.05" width="4.50" height="4.50" stroke="#aaa" stroke-width="0.3" fill="none" />
<rect x="756.15" y="335.15" width="6.50" height="6.50" stroke="#555" stroke-width="0.6" fill="#fff" />
<rect x="757.15" y="336.15" width="4.50" height="4.50" stroke="#aaa" stroke-width="0.3" fill="none" />
<rect x="804.75" y="276.05" width="6.50" height="6.50" stroke="#555" stroke-width="0.6" fill="#fff" />
<rect x="805.75" y="277.05" width="4.50" height="4.50" stroke="#aaa" stroke-width="0.3" fill="none" />
<rect x="804.75" y="335.15" width="6.50" height="6.50" stroke="#555" stroke-width="0.6" fill="#fff" />
<rect x="805.75" y="336.15" width="4.50" height="4.50" stroke="#aaa" stroke-width="0.3" fill="none" />
<rect x="863.15" y="276.05" width="6.50" height="6.50" stroke="#555" stroke-width="0.6" fill="#fff" />
<rect x="864.15" y="277.05" width="4.50" height="4.50" stroke="#aaa" stroke-width="0.3" fill="none" />
<rect x="863.15" y="335.15" width="6.50" height="6.50" stroke="#555" stroke-width="0.6" fill="#fff" />
<rect x="864.15" y="336.15" width="4.50" height="4.50" stroke="#aaa" stroke-width="0.3" fill="none" />
<rect x="804.75" y="363.75" width="6.50" height="6.50" stroke="#555" stroke-width="0.6" fill="#fff" />
<rect x="805.75" y="364.75" width="4.50" height="4.50" stroke="#aaa" stroke-width="0.3" fill="none" />
<rect x="863.15" y="363.75" width="6.50" height="6.50" stroke="#555" stroke-width="0.6" fill="#fff" />
<rect x="864.15" y="364.75" width="4.50" height="4.50" stroke="#aaa" stroke-width="0.3" fill="none" />
<ellipse cx="880.00" cy="279.30" rx="2.75" ry="2.20" fill="#fff" stroke="#222" stroke-width="0.65"/>
<text x="880.00" y="280.40" font-size="3.0" text-anchor="middle" font-weight="bold" fill="#222">C</text>
<line x1="869.00" y1="279.30" x2="877.80" y2="279.30" stroke="#555" stroke-width="0.4" />
<ellipse cx="880.00" cy="338.40" rx="2.75" ry="2.20" fill="#fff" stroke="#222" stroke-width="0.65"/>
<text x="880.00" y="339.50" font-size="3.0" text-anchor="middle" font-weight="bold" fill="#222">B</text>
<line x1="869.00" y1="338.40" x2="877.80" y2="338.40" stroke="#555" stroke-width="0.4" />
<ellipse cx="880.00" cy="367.00" rx="2.75" ry="2.20" fill="#fff" stroke="#222" stroke-width="0.65"/>
<text x="880.00" y="368.10" font-size="3.0" text-anchor="middle" font-weight="bold" fill="#222">A</text>
<line x1="869.00" y1="367.00" x2="877.80" y2="367.00" stroke="#555" stroke-width="0.4" />
<line x1="874.00" y1="279.30" x2="874.00" y2="367.00" stroke="#333" stroke-width="0.4" />
<line x1="873.00" y1="280.30" x2="875.00" y2="278.30" stroke="#222" stroke-width="0.5" />
<line x1="873.00" y1="339.40" x2="875.00" y2="337.40" stroke="#222" stroke-width="0.5" />
<line x1="873.00" y1="368.00" x2="875.00" y2="366.00" stroke="#222" stroke-width="0.5" />
<text x="873.00" y="309.00" font-size="2.7" text-anchor="middle" font-weight="bold" fill="#222" textLength="5" lengthAdjust="spacingAndGlyphs" transform="rotate(-90 873.00 309.00)">4900</text>
<text x="873.00" y="353.00" font-size="2.7" text-anchor="middle" font-weight="bold" fill="#222" textLength="5" lengthAdjust="spacingAndGlyphs" transform="rotate(-90 873.00 353.00)">2700</text>
<ellipse cx="711.00" cy="379.60" rx="2.88" ry="2.30" fill="#fff" stroke="#222" stroke-width="0.65"/>
<text x="711.00" y="380.70" font-size="3.0" text-anchor="middle" font-weight="bold" fill="#222">1</text>
<ellipse cx="759.40" cy="379.60" rx="2.88" ry="2.30" fill="#fff" stroke="#222" stroke-width="0.65"/>
<text x="759.40" y="380.70" font-size="3.0" text-anchor="middle" font-weight="bold" fill="#222">2</text>
<ellipse cx="808.00" cy="379.60" rx="2.88" ry="2.30" fill="#fff" stroke="#222" stroke-width="0.65"/>
<text x="808.00" y="380.70" font-size="3.0" text-anchor="middle" font-weight="bold" fill="#222">3</text>
<ellipse cx="866.40" cy="379.60" rx="2.88" ry="2.30" fill="#fff" stroke="#222" stroke-width="0.65"/>
<text x="866.40" y="380.70" font-size="3.0" text-anchor="middle" font-weight="bold" fill="#222">4</text>
<text x="784.70" y="386.30" font-size="3.0" text-anchor="middle" font-weight="bold" fill="#222" textLength="24.5" lengthAdjust="spacingAndGlyphs">L.S.&amp;c.DECK</text>
<line x1="772.50" y1="387.30" x2="797.00" y2="387.30" stroke="#222" stroke-width="0.5" />
<line x1="691.50" y1="295.00" x2="694.10" y2="292.20" stroke="#151515" stroke-width="1.3" />
<circle cx="690.5" cy="298.7" r="1.05" fill="#151515"/>
<line x1="691.50" y1="304.00" x2="694.10" y2="301.20" stroke="#151515" stroke-width="1.3" />
<path d="M692.7,305.8 L690.5,308 L692.7,310.2" fill="none" stroke="#151515" stroke-width="1.3"/>
<line x1="691.90" y1="311.00" x2="694.70" y2="313.80" stroke="#151515" stroke-width="1.3" />
<circle cx="690.5" cy="319" r="1.05" fill="#151515"/>
<line x1="691.90" y1="320.20" x2="694.70" y2="323.00" stroke="#151515" stroke-width="1.3" />
<text x="695.10" y="295.50" font-size="2.9700000000000006" text-anchor="start" font-weight="bold" fill="#888" textLength="2.6" lengthAdjust="spacingAndGlyphs" transform="rotate(-45 695.10 295.50)">PS</text>
<text x="695.10" y="304.50" font-size="2.9700000000000006" text-anchor="start" font-weight="bold" fill="#888" textLength="2.6" lengthAdjust="spacingAndGlyphs" transform="rotate(-45 695.10 304.50)">PS</text>
<text x="695.10" y="314.50" font-size="2.9700000000000006" text-anchor="start" font-weight="bold" fill="#888" textLength="2.6" lengthAdjust="spacingAndGlyphs" transform="rotate(-45 695.10 314.50)">PS</text>
<text x="695.10" y="324.00" font-size="2.9700000000000006" text-anchor="start" font-weight="bold" fill="#888" textLength="2.6" lengthAdjust="spacingAndGlyphs" transform="rotate(-45 695.10 324.00)">PS</text>
<line x1="711.00" y1="295.00" x2="713.60" y2="292.20" stroke="#151515" stroke-width="1.3" />
<circle cx="710.0" cy="298.7" r="1.05" fill="#151515"/>
<line x1="711.00" y1="304.00" x2="713.60" y2="301.20" stroke="#151515" stroke-width="1.3" />
<path d="M712.2,305.8 L710.0,308 L712.2,310.2" fill="none" stroke="#151515" stroke-width="1.3"/>
<line x1="711.40" y1="311.00" x2="714.20" y2="313.80" stroke="#151515" stroke-width="1.3" />
<circle cx="710.0" cy="319" r="1.05" fill="#151515"/>
<line x1="711.40" y1="320.20" x2="714.20" y2="323.00" stroke="#151515" stroke-width="1.3" />
<text x="714.60" y="295.50" font-size="2.9700000000000006" text-anchor="start" font-weight="bold" fill="#888" textLength="2.6" lengthAdjust="spacingAndGlyphs" transform="rotate(-45 714.60 295.50)">PS</text>
<text x="714.60" y="304.50" font-size="2.9700000000000006" text-anchor="start" font-weight="bold" fill="#888" textLength="2.6" lengthAdjust="spacingAndGlyphs" transform="rotate(-45 714.60 304.50)">PS</text>
<text x="714.60" y="314.50" font-size="2.9700000000000006" text-anchor="start" font-weight="bold" fill="#888" textLength="2.6" lengthAdjust="spacingAndGlyphs" transform="rotate(-45 714.60 314.50)">PS</text>
<text x="714.60" y="324.00" font-size="2.9700000000000006" text-anchor="start" font-weight="bold" fill="#888" textLength="2.6" lengthAdjust="spacingAndGlyphs" transform="rotate(-45 714.60 324.00)">PS</text>
<line x1="732.00" y1="295.00" x2="734.60" y2="292.20" stroke="#151515" stroke-width="1.3" />
<circle cx="731.0" cy="298.7" r="1.05" fill="#151515"/>
<line x1="732.00" y1="304.00" x2="734.60" y2="301.20" stroke="#151515" stroke-width="1.3" />
<path d="M733.2,305.8 L731.0,308 L733.2,310.2" fill="none" stroke="#151515" stroke-width="1.3"/>
<line x1="732.40" y1="311.00" x2="735.20" y2="313.80" stroke="#151515" stroke-width="1.3" />
<circle cx="731.0" cy="319" r="1.05" fill="#151515"/>
<line x1="732.40" y1="320.20" x2="735.20" y2="323.00" stroke="#151515" stroke-width="1.3" />
<text x="735.60" y="295.50" font-size="2.9700000000000006" text-anchor="start" font-weight="bold" fill="#888" textLength="2.6" lengthAdjust="spacingAndGlyphs" transform="rotate(-45 735.60 295.50)">PS</text>
<text x="735.60" y="304.50" font-size="2.9700000000000006" text-anchor="start" font-weight="bold" fill="#888" textLength="2.6" lengthAdjust="spacingAndGlyphs" transform="rotate(-45 735.60 304.50)">PS</text>
<text x="735.60" y="314.50" font-size="2.9700000000000006" text-anchor="start" font-weight="bold" fill="#888" textLength="2.6" lengthAdjust="spacingAndGlyphs" transform="rotate(-45 735.60 314.50)">PS</text>
<text x="735.60" y="324.00" font-size="2.9700000000000006" text-anchor="start" font-weight="bold" fill="#888" textLength="2.6" lengthAdjust="spacingAndGlyphs" transform="rotate(-45 735.60 324.00)">PS</text>
<line x1="754.00" y1="295.00" x2="756.60" y2="292.20" stroke="#151515" stroke-width="1.3" />
<circle cx="753.0" cy="298.7" r="1.05" fill="#151515"/>
<line x1="754.00" y1="304.00" x2="756.60" y2="301.20" stroke="#151515" stroke-width="1.3" />
<path d="M755.2,305.8 L753.0,308 L755.2,310.2" fill="none" stroke="#151515" stroke-width="1.3"/>
<line x1="754.40" y1="311.00" x2="757.20" y2="313.80" stroke="#151515" stroke-width="1.3" />
<circle cx="753.0" cy="319" r="1.05" fill="#151515"/>
<line x1="754.40" y1="320.20" x2="757.20" y2="323.00" stroke="#151515" stroke-width="1.3" />
<text x="757.60" y="295.50" font-size="2.9700000000000006" text-anchor="start" font-weight="bold" fill="#888" textLength="2.6" lengthAdjust="spacingAndGlyphs" transform="rotate(-45 757.60 295.50)">PS</text>
<text x="757.60" y="304.50" font-size="2.9700000000000006" text-anchor="start" font-weight="bold" fill="#888" textLength="2.6" lengthAdjust="spacingAndGlyphs" transform="rotate(-45 757.60 304.50)">PS</text>
<text x="757.60" y="314.50" font-size="2.9700000000000006" text-anchor="start" font-weight="bold" fill="#888" textLength="2.6" lengthAdjust="spacingAndGlyphs" transform="rotate(-45 757.60 314.50)">PS</text>
<text x="757.60" y="324.00" font-size="2.9700000000000006" text-anchor="start" font-weight="bold" fill="#888" textLength="2.6" lengthAdjust="spacingAndGlyphs" transform="rotate(-45 757.60 324.00)">PS</text>
<line x1="775.00" y1="295.00" x2="777.60" y2="292.20" stroke="#151515" stroke-width="1.3" />
<circle cx="774.0" cy="298.7" r="1.05" fill="#151515"/>
<line x1="775.00" y1="304.00" x2="777.60" y2="301.20" stroke="#151515" stroke-width="1.3" />
<path d="M776.2,305.8 L774.0,308 L776.2,310.2" fill="none" stroke="#151515" stroke-width="1.3"/>
<line x1="775.40" y1="311.00" x2="778.20" y2="313.80" stroke="#151515" stroke-width="1.3" />
<circle cx="774.0" cy="319" r="1.05" fill="#151515"/>
<line x1="775.40" y1="320.20" x2="778.20" y2="323.00" stroke="#151515" stroke-width="1.3" />
<text x="778.60" y="295.50" font-size="2.9700000000000006" text-anchor="start" font-weight="bold" fill="#888" textLength="2.6" lengthAdjust="spacingAndGlyphs" transform="rotate(-45 778.60 295.50)">PS</text>
<text x="778.60" y="304.50" font-size="2.9700000000000006" text-anchor="start" font-weight="bold" fill="#888" textLength="2.6" lengthAdjust="spacingAndGlyphs" transform="rotate(-45 778.60 304.50)">PS</text>
<text x="778.60" y="314.50" font-size="2.9700000000000006" text-anchor="start" font-weight="bold" fill="#888" textLength="2.6" lengthAdjust="spacingAndGlyphs" transform="rotate(-45 778.60 314.50)">PS</text>
<text x="778.60" y="324.00" font-size="2.9700000000000006" text-anchor="start" font-weight="bold" fill="#888" textLength="2.6" lengthAdjust="spacingAndGlyphs" transform="rotate(-45 778.60 324.00)">PS</text>
<line x1="794.00" y1="295.00" x2="796.60" y2="292.20" stroke="#151515" stroke-width="1.3" />
<circle cx="793.0" cy="298.7" r="1.05" fill="#151515"/>
<line x1="794.00" y1="304.00" x2="796.60" y2="301.20" stroke="#151515" stroke-width="1.3" />
<path d="M795.2,305.8 L793.0,308 L795.2,310.2" fill="none" stroke="#151515" stroke-width="1.3"/>
<line x1="794.40" y1="311.00" x2="797.20" y2="313.80" stroke="#151515" stroke-width="1.3" />
<circle cx="793.0" cy="319" r="1.05" fill="#151515"/>
<line x1="794.40" y1="320.20" x2="797.20" y2="323.00" stroke="#151515" stroke-width="1.3" />
<text x="797.60" y="295.50" font-size="2.9700000000000006" text-anchor="start" font-weight="bold" fill="#888" textLength="2.6" lengthAdjust="spacingAndGlyphs" transform="rotate(-45 797.60 295.50)">PS</text>
<text x="797.60" y="304.50" font-size="2.9700000000000006" text-anchor="start" font-weight="bold" fill="#888" textLength="2.6" lengthAdjust="spacingAndGlyphs" transform="rotate(-45 797.60 304.50)">PS</text>
<text x="797.60" y="314.50" font-size="2.9700000000000006" text-anchor="start" font-weight="bold" fill="#888" textLength="2.6" lengthAdjust="spacingAndGlyphs" transform="rotate(-45 797.60 314.50)">PS</text>
<text x="797.60" y="324.00" font-size="2.9700000000000006" text-anchor="start" font-weight="bold" fill="#888" textLength="2.6" lengthAdjust="spacingAndGlyphs" transform="rotate(-45 797.60 324.00)">PS</text>
<line x1="667.00" y1="289.30" x2="803.00" y2="289.30" stroke="#333" stroke-width="0.45" />
<text x="678.00" y="288.20" font-size="2.9700000000000006" text-anchor="middle" font-weight="bold" fill="#222" textLength="5.2" lengthAdjust="spacingAndGlyphs">2100</text>
<text x="699.50" y="288.20" font-size="2.9700000000000006" text-anchor="middle" font-weight="bold" fill="#222" textLength="5.2" lengthAdjust="spacingAndGlyphs">2500</text>
<text x="720.50" y="288.20" font-size="2.9700000000000006" text-anchor="middle" font-weight="bold" fill="#222" textLength="5.2" lengthAdjust="spacingAndGlyphs">2500</text>
<text x="742.00" y="288.20" font-size="2.9700000000000006" text-anchor="middle" font-weight="bold" fill="#222" textLength="5.2" lengthAdjust="spacingAndGlyphs">2500</text>
<text x="763.50" y="288.20" font-size="2.9700000000000006" text-anchor="middle" font-weight="bold" fill="#222" textLength="5.2" lengthAdjust="spacingAndGlyphs">2100</text>
<text x="783.50" y="288.20" font-size="2.9700000000000006" text-anchor="middle" font-weight="bold" fill="#222" textLength="5.2" lengthAdjust="spacingAndGlyphs">2500</text>
<text x="798.00" y="288.20" font-size="2.9700000000000006" text-anchor="middle" font-weight="bold" fill="#222" textLength="5.2" lengthAdjust="spacingAndGlyphs">600</text>
<line x1="666.00" y1="290.30" x2="668.00" y2="288.30" stroke="#222" stroke-width="0.5" />
<line x1="688.40" y1="290.30" x2="690.40" y2="288.30" stroke="#222" stroke-width="0.5" />
<line x1="708.00" y1="290.30" x2="710.00" y2="288.30" stroke="#222" stroke-width="0.5" />
<line x1="729.50" y1="290.30" x2="731.50" y2="288.30" stroke="#222" stroke-width="0.5" />
<line x1="751.00" y1="290.30" x2="753.00" y2="288.30" stroke="#222" stroke-width="0.5" />
<line x1="772.00" y1="290.30" x2="774.00" y2="288.30" stroke="#222" stroke-width="0.5" />
<line x1="792.00" y1="290.30" x2="794.00" y2="288.30" stroke="#222" stroke-width="0.5" />
<line x1="802.00" y1="290.30" x2="804.00" y2="288.30" stroke="#222" stroke-width="0.5" />
<line x1="684.00" y1="298.70" x2="800.00" y2="298.70" stroke="#d0d0d0" stroke-width="0.5" />
<line x1="684.00" y1="307.60" x2="800.00" y2="307.60" stroke="#d0d0d0" stroke-width="0.5" />
<line x1="684.00" y1="310.20" x2="800.00" y2="310.20" stroke="#d0d0d0" stroke-width="0.5" />
<line x1="684.00" y1="319.00" x2="800.00" y2="319.00" stroke="#d0d0d0" stroke-width="0.5" />
<text x="682.40" y="283.00" font-size="3.0" text-anchor="start" font-weight="bold" fill="#333" textLength="10" lengthAdjust="spacingAndGlyphs">FSB-PT1</text>
<text x="682.40" y="331.80" font-size="3.0" text-anchor="start" font-weight="bold" fill="#333" textLength="10" lengthAdjust="spacingAndGlyphs">FSB-PT1</text>
<line x1="680.40" y1="291.00" x2="680.40" y2="299.00" stroke="#333" stroke-width="0.5" />
<line x1="681.80" y1="291.00" x2="681.80" y2="299.00" stroke="#333" stroke-width="0.5" />
<line x1="679.40" y1="291.00" x2="682.80" y2="291.00" stroke="#222" stroke-width="0.6" />
<line x1="679.40" y1="299.00" x2="682.80" y2="299.00" stroke="#222" stroke-width="0.6" />
<line x1="682.00" y1="283.80" x2="681.00" y2="291.00" stroke="#555" stroke-width="0.35" />
<line x1="680.40" y1="319.00" x2="680.40" y2="327.00" stroke="#333" stroke-width="0.5" />
<line x1="681.80" y1="319.00" x2="681.80" y2="327.00" stroke="#333" stroke-width="0.5" />
<line x1="679.40" y1="319.00" x2="682.80" y2="319.00" stroke="#222" stroke-width="0.6" />
<line x1="679.40" y1="327.00" x2="682.80" y2="327.00" stroke="#222" stroke-width="0.6" />
<line x1="681.00" y1="327.00" x2="682.40" y2="329.50" stroke="#555" stroke-width="0.35" />
<circle cx="794.7" cy="298.2" r="1.0" fill="#111"/>
<circle cx="794.7" cy="307.3" r="1.0" fill="#111"/>
<circle cx="794.7" cy="319.2" r="1.0" fill="#111"/>
<circle cx="802.6" cy="298.2" r="1.0" fill="#111"/>
<circle cx="802.6" cy="307.3" r="1.0" fill="#111"/>
<circle cx="819" cy="310" r="1.0" fill="#111"/>
<circle cx="819" cy="319.2" r="1.0" fill="#111"/>
<circle cx="827" cy="310" r="1.0" fill="#111"/>
<circle cx="827" cy="319.2" r="1.0" fill="#111"/>
<line x1="796.00" y1="290.00" x2="798.50" y2="287.50" stroke="#222" stroke-width="1.1" />
<line x1="797.20" y1="290.80" x2="799.70" y2="288.30" stroke="#222" stroke-width="1.0" />
<line x1="804.50" y1="296.00" x2="807.00" y2="293.50" stroke="#222" stroke-width="1.1" />
<line x1="805.70" y1="296.80" x2="808.20" y2="294.30" stroke="#222" stroke-width="1.0" />
<line x1="829.00" y1="306.50" x2="831.50" y2="304.00" stroke="#222" stroke-width="1.1" />
<line x1="830.20" y1="307.30" x2="832.70" y2="304.80" stroke="#222" stroke-width="1.0" />
<line x1="787.50" y1="315.50" x2="790.00" y2="313.00" stroke="#222" stroke-width="1.1" />
<line x1="788.70" y1="316.30" x2="791.20" y2="313.80" stroke="#222" stroke-width="1.0" />
<line x1="787.50" y1="324.00" x2="790.00" y2="321.50" stroke="#222" stroke-width="1.1" />
<line x1="788.70" y1="324.80" x2="791.20" y2="322.30" stroke="#222" stroke-width="1.0" />
<line x1="798.60" y1="297.00" x2="798.60" y2="326.00" stroke="#777" stroke-width="0.5"  stroke-dasharray="1.2,1"/>
<line x1="808.30" y1="290.00" x2="808.30" y2="334.00" stroke="#aaa" stroke-width="0.5" />
<line x1="793.00" y1="324.30" x2="823.00" y2="324.30" stroke="#444" stroke-width="0.5"  stroke-dasharray="1.2,1"/>
<line x1="793.00" y1="331.70" x2="823.00" y2="331.70" stroke="#444" stroke-width="0.5"  stroke-dasharray="1.2,1"/>
<line x1="794.00" y1="289.00" x2="808.00" y2="300.00" stroke="#555" stroke-width="0.5"  stroke-dasharray="1.2,1"/>
<line x1="808.00" y1="300.00" x2="833.00" y2="311.00" stroke="#555" stroke-width="0.5"  stroke-dasharray="1.2,1"/>
<line x1="833.00" y1="311.00" x2="836.00" y2="318.00" stroke="#555" stroke-width="0.5"  stroke-dasharray="1.2,1"/>
<line x1="836.00" y1="318.00" x2="823.00" y2="331.00" stroke="#555" stroke-width="0.5"  stroke-dasharray="1.2,1"/>
<line x1="792.00" y1="332.00" x2="794.00" y2="330.00" stroke="#222" stroke-width="0.9" />
<line x1="822.00" y1="332.00" x2="824.00" y2="330.00" stroke="#222" stroke-width="0.9" />
<text x="803.70" y="326.20" font-size="2.9700000000000006" text-anchor="middle" font-weight="bold" fill="#222" textLength="4.5" lengthAdjust="spacingAndGlyphs">1000</text>
<text x="816.20" y="326.20" font-size="2.9700000000000006" text-anchor="middle" font-weight="bold" fill="#222" textLength="4.5" lengthAdjust="spacingAndGlyphs">1000</text>
<text x="806.00" y="330.80" font-size="2.9700000000000006" text-anchor="middle" font-weight="bold" fill="#222" textLength="4.5" lengthAdjust="spacingAndGlyphs">2150</text>
<text x="812.80" y="304.40" font-size="3.0" text-anchor="middle" font-weight="bold" fill="#333">X</text>
<text x="831.60" y="315.00" font-size="3.0" text-anchor="middle" font-weight="bold" fill="#333">X</text>
<text x="838.00" y="295.00" font-size="2.43" text-anchor="start" font-weight="bold" fill="#999" textLength="16" lengthAdjust="spacingAndGlyphs">RM 3 CONVEYOR</text>
<line x1="838.00" y1="296.00" x2="861.00" y2="296.00" stroke="#999" stroke-width="0.3" />
<text x="838.00" y="305.60" font-size="2.43" text-anchor="start" font-weight="bold" fill="#999" textLength="16" lengthAdjust="spacingAndGlyphs">RM 1 CONVEYOR</text>
<line x1="838.00" y1="306.60" x2="861.00" y2="306.60" stroke="#999" stroke-width="0.3" />
<text x="53.60" y="386.40" font-size="3.3" text-anchor="middle" font-weight="bold" fill="#222" textLength="14.6" lengthAdjust="spacingAndGlyphs">L &amp; P B.</text>
<line x1="46.30" y1="387.50" x2="61.00" y2="387.50" stroke="#222" stroke-width="0.5" />
<text x="376.70" y="386.20" font-size="3.9" text-anchor="start" font-weight="bold" fill="#222" textLength="50" lengthAdjust="spacingAndGlyphs">COLUMN MARKING PLAN</text>
<line x1="443.30" y1="43.70" x2="443.30" y2="85.20" stroke="#444" stroke-width="0.85" />
<line x1="443.30" y1="85.20" x2="627.70" y2="85.20" stroke="#444" stroke-width="0.85" />
<line x1="443.30" y1="43.70" x2="597.30" y2="85.20" stroke="#444" stroke-width="0.85" />
<line x1="443.30" y1="38.50" x2="600.80" y2="79.80" stroke="#444" stroke-width="0.5" />
<line x1="442.30" y1="39.50" x2="444.30" y2="37.50" stroke="#222" stroke-width="0.6" />
<line x1="599.80" y1="80.80" x2="601.80" y2="78.80" stroke="#222" stroke-width="0.6" />
<line x1="443.30" y1="38.50" x2="443.30" y2="43.00" stroke="#666" stroke-width="0.3" />
<line x1="600.80" y1="79.80" x2="598.30" y2="84.00" stroke="#666" stroke-width="0.3" />
<text x="522.70" y="58.20" font-size="2.9700000000000006" text-anchor="middle" font-weight="bold" fill="#222" textLength="7" lengthAdjust="spacingAndGlyphs" transform="rotate(14.9 522.70 58.20)">66244</text>
<line x1="437.50" y1="43.70" x2="437.50" y2="85.20" stroke="#444" stroke-width="0.5" />
<line x1="436.50" y1="44.70" x2="438.50" y2="42.70" stroke="#222" stroke-width="0.6" />
<line x1="436.50" y1="86.20" x2="438.50" y2="84.20" stroke="#222" stroke-width="0.6" />
<line x1="436.00" y1="43.70" x2="442.00" y2="43.70" stroke="#666" stroke-width="0.3" />
<line x1="436.00" y1="85.20" x2="442.00" y2="85.20" stroke="#666" stroke-width="0.3" />
<text x="435.80" y="64.50" font-size="2.9700000000000006" text-anchor="middle" font-weight="bold" fill="#222" textLength="7" lengthAdjust="spacingAndGlyphs" transform="rotate(-90 435.80 64.50)">17000</text>
<line x1="443.30" y1="93.40" x2="627.70" y2="93.40" stroke="#444" stroke-width="0.5" />
<line x1="442.30" y1="94.40" x2="444.30" y2="92.40" stroke="#222" stroke-width="0.6" />
<line x1="443.30" y1="86.00" x2="443.30" y2="94.50" stroke="#666" stroke-width="0.3" />
<line x1="596.30" y1="94.40" x2="598.30" y2="92.40" stroke="#222" stroke-width="0.6" />
<line x1="597.30" y1="86.00" x2="597.30" y2="94.50" stroke="#666" stroke-width="0.3" />
<line x1="626.70" y1="94.40" x2="628.70" y2="92.40" stroke="#222" stroke-width="0.6" />
<line x1="627.70" y1="86.00" x2="627.70" y2="94.50" stroke="#666" stroke-width="0.3" />
<text x="519.00" y="92.60" font-size="2.9700000000000006" text-anchor="middle" font-weight="bold" fill="#222" textLength="7" lengthAdjust="spacingAndGlyphs">64000</text>
<text x="613.60" y="92.60" font-size="2.9700000000000006" text-anchor="middle" font-weight="bold" fill="#222" textLength="7" lengthAdjust="spacingAndGlyphs">13000</text>
<path d="M496.5,58 Q492,72 493.5,85.2" fill="none" stroke="#444" stroke-width="0.5"/>
<line x1="495.50" y1="59.20" x2="497.50" y2="57.20" stroke="#222" stroke-width="0.6" />
<line x1="492.50" y1="86.20" x2="494.50" y2="84.20" stroke="#222" stroke-width="0.6" />
<text x="490.80" y="71.50" font-size="2.7" text-anchor="middle" font-weight="bold" fill="#222" textLength="6" lengthAdjust="spacingAndGlyphs" transform="rotate(-80 490.80 71.50)">14.25°</text>
<line x1="351.80" y1="472.00" x2="371.30" y2="472.00" stroke="#222" stroke-width="0.7" />
<line x1="395.30" y1="472.00" x2="415.20" y2="472.00" stroke="#222" stroke-width="0.7" />
<line x1="353.00" y1="472.00" x2="351.50" y2="474.00" stroke="#444" stroke-width="0.45" />
<line x1="355.00" y1="472.00" x2="353.50" y2="474.00" stroke="#444" stroke-width="0.45" />
<line x1="357.00" y1="472.00" x2="355.50" y2="474.00" stroke="#444" stroke-width="0.45" />
<line x1="359.00" y1="472.00" x2="357.50" y2="474.00" stroke="#444" stroke-width="0.45" />
<line x1="361.00" y1="472.00" x2="359.50" y2="474.00" stroke="#444" stroke-width="0.45" />
<line x1="363.00" y1="472.00" x2="361.50" y2="474.00" stroke="#444" stroke-width="0.45" />
<line x1="365.00" y1="472.00" x2="363.50" y2="474.00" stroke="#444" stroke-width="0.45" />
<line x1="367.00" y1="472.00" x2="365.50" y2="474.00" stroke="#444" stroke-width="0.45" />
<line x1="398.00" y1="472.00" x2="396.50" y2="474.00" stroke="#444" stroke-width="0.45" />
<line x1="400.00" y1="472.00" x2="398.50" y2="474.00" stroke="#444" stroke-width="0.45" />
<line x1="402.00" y1="472.00" x2="400.50" y2="474.00" stroke="#444" stroke-width="0.45" />
<line x1="404.00" y1="472.00" x2="402.50" y2="474.00" stroke="#444" stroke-width="0.45" />
<line x1="406.00" y1="472.00" x2="404.50" y2="474.00" stroke="#444" stroke-width="0.45" />
<line x1="408.00" y1="472.00" x2="406.50" y2="474.00" stroke="#444" stroke-width="0.45" />
<line x1="410.00" y1="472.00" x2="408.50" y2="474.00" stroke="#444" stroke-width="0.45" />
<line x1="412.00" y1="472.00" x2="410.50" y2="474.00" stroke="#444" stroke-width="0.45" />
<path d="M352.5,472 q5,-3.5 11,0" fill="none" stroke="#222" stroke-width="0.7"/>
<path d="M403,472 q5,-3.5 11,0" fill="none" stroke="#222" stroke-width="0.7"/>
<text x="353.70" y="471.40" font-size="3.3" text-anchor="start" font-weight="bold" fill="#222" textLength="7.5" lengthAdjust="spacingAndGlyphs">PCC</text>
<line x1="353.70" y1="472.00" x2="361.30" y2="472.00" stroke="#222" stroke-width="0.5" />
<text x="405.70" y="471.40" font-size="3.3" text-anchor="start" font-weight="bold" fill="#222" textLength="7.5" lengthAdjust="spacingAndGlyphs">PCC</text>
<rect x="371.30" y="472.00" width="24.00" height="24.70" stroke="#222" stroke-width="0.7" fill="url(#stip3)" />
<rect x="371.30" y="492.00" width="24.00" height="4.70" stroke="#222" stroke-width="0.6" fill="#f2f2f2" />
<line x1="380.60" y1="447.50" x2="380.60" y2="492.00" stroke="#111" stroke-width="1.4" />
<line x1="387.10" y1="447.50" x2="387.10" y2="492.00" stroke="#111" stroke-width="1.3" />
<line x1="383.80" y1="449.00" x2="383.80" y2="490.00" stroke="#888" stroke-width="0.4"  stroke-dasharray="2,1"/>
<line x1="378.80" y1="447.60" x2="389.00" y2="447.60" stroke="#111" stroke-width="1.2" />
<line x1="378.80" y1="491.60" x2="389.00" y2="491.60" stroke="#111" stroke-width="1.2" />
<line x1="381.00" y1="446.00" x2="377.50" y2="441.50" stroke="#333" stroke-width="0.45" />
<line x1="386.50" y1="446.00" x2="393.00" y2="440.50" stroke="#333" stroke-width="0.45" />
<text x="357.10" y="439.50" font-size="3.8" text-anchor="start" font-weight="bold" fill="#222" textLength="22.5" lengthAdjust="spacingAndGlyphs">(+)3.000M</text>
<text x="395.30" y="439.70" font-size="3.3" text-anchor="start" font-weight="normal" fill="#222" textLength="32" lengthAdjust="spacingAndGlyphs">Ø 12Thk 100x250</text>
<line x1="393.00" y1="440.60" x2="430.00" y2="440.60" stroke="#222" stroke-width="0.4" />
<text x="389.70" y="462.00" font-size="3.3" text-anchor="start" font-weight="normal" fill="#222" textLength="23.6" lengthAdjust="spacingAndGlyphs">ISMB 150x80</text>
<line x1="388.00" y1="481.00" x2="396.00" y2="483.50" stroke="#333" stroke-width="0.45" />
<text x="397.20" y="483.80" font-size="3.3" text-anchor="start" font-weight="normal" fill="#222" textLength="32" lengthAdjust="spacingAndGlyphs">Ø 12Thk 300x300</text>
<line x1="396.00" y1="484.80" x2="432.00" y2="484.80" stroke="#222" stroke-width="0.4" />
<text x="399.00" y="494.20" font-size="3.3" text-anchor="start" font-weight="normal" fill="#222" textLength="20" lengthAdjust="spacingAndGlyphs">100Thk PCC</text>
<line x1="397.00" y1="495.20" x2="422.00" y2="495.20" stroke="#222" stroke-width="0.4" />
<text x="399.50" y="477.80" font-size="3.0" text-anchor="start" font-weight="bold" fill="#333" textLength="4" lengthAdjust="spacingAndGlyphs">GL</text>
<line x1="371.30" y1="503.40" x2="395.30" y2="503.40" stroke="#222" stroke-width="0.5" />
<line x1="370.30" y1="504.40" x2="372.30" y2="502.40" stroke="#222" stroke-width="0.6" />
<line x1="394.30" y1="504.40" x2="396.30" y2="502.40" stroke="#222" stroke-width="0.6" />
<line x1="371.30" y1="497.00" x2="371.30" y2="505.00" stroke="#555" stroke-width="0.35" />
<line x1="395.30" y1="497.00" x2="395.30" y2="505.00" stroke="#555" stroke-width="0.35" />
<text x="383.50" y="503.30" font-size="3.3" text-anchor="middle" font-weight="normal" fill="#222" textLength="14.2" lengthAdjust="spacingAndGlyphs">500x500</text>
<line x1="365.60" y1="472.00" x2="365.60" y2="496.70" stroke="#222" stroke-width="0.5" />
<line x1="364.60" y1="473.00" x2="366.60" y2="471.00" stroke="#222" stroke-width="0.6" />
<line x1="364.60" y1="497.70" x2="366.60" y2="495.70" stroke="#222" stroke-width="0.6" />
<line x1="364.00" y1="496.70" x2="371.00" y2="496.70" stroke="#555" stroke-width="0.35" />
<text x="364.60" y="485.30" font-size="3.0" text-anchor="middle" font-weight="normal" fill="#222" textLength="6" lengthAdjust="spacingAndGlyphs" transform="rotate(-90 364.60 485.30)">500</text>
<text x="383.50" y="511.30" font-size="3.6" text-anchor="middle" font-weight="bold" fill="#222" textLength="19.8" lengthAdjust="spacingAndGlyphs">DETAIL - A</text>
<line x1="373.60" y1="512.40" x2="393.40" y2="512.40" stroke="#222" stroke-width="0.6" />
<circle cx="166.00" cy="62.27" r="1.0" fill="#111"/>
<path d="M167.40,62.87 a2,2.4 0 0 1 0,4.8" fill="none" stroke="#555" stroke-width="0.4"/>
<text x="169.00" y="66.37" font-size="3.0" text-anchor="middle" font-weight="bold" fill="#333">G</text>
<text x="177.00" y="67.97" font-size="3.2" text-anchor="start" font-weight="bold" fill="#333" textLength="14.5" lengthAdjust="spacingAndGlyphs">(+)15.430M</text>
<line x1="177.00" y1="68.77" x2="191.50" y2="68.77" stroke="#444" stroke-width="0.4" />
<line x1="176.50" y1="68.77" x2="175.00" y2="71.27" stroke="#555" stroke-width="0.4" />
<line x1="151.40" y1="79.67" x2="151.40" y2="217.00" stroke="#999" stroke-width="0.45" />
<line x1="150.00" y1="79.67" x2="163.00" y2="79.67" stroke="#bbb" stroke-width="0.35" />
<line x1="150.00" y1="217.00" x2="163.00" y2="217.00" stroke="#bbb" stroke-width="0.35" />
<line x1="150.40" y1="80.67" x2="152.40" y2="78.67" stroke="#333" stroke-width="0.5" />
<line x1="150.40" y1="218.00" x2="152.40" y2="216.00" stroke="#333" stroke-width="0.5" />
<text x="150.20" y="146.00" font-size="3.0" text-anchor="middle" font-weight="bold" fill="#2a2a2a" textLength="7" lengthAdjust="spacingAndGlyphs" transform="rotate(-90 150.20 146.00)">14740</text>
<text x="163.40" y="95.00" font-size="3.0" text-anchor="middle" font-weight="bold" fill="#2a2a2a" textLength="11" lengthAdjust="spacingAndGlyphs" transform="rotate(-90 163.40 95.00)">PSC1-C1</text>
<text x="163.40" y="199.50" font-size="3.0" text-anchor="middle" font-weight="bold" fill="#2a2a2a" textLength="11" lengthAdjust="spacingAndGlyphs" transform="rotate(-90 163.40 199.50)">PSC1-C1</text>
<text x="173.00" y="213.50" font-size="3.2" text-anchor="start" font-weight="bold" fill="#333" textLength="9.5" lengthAdjust="spacingAndGlyphs">(+)0.75M</text>
<line x1="173.00" y1="214.30" x2="182.50" y2="214.30" stroke="#444" stroke-width="0.4" />
<path d="M170.00,216 l3,-1.2 v2.4z" fill="#222"/>
<circle cx="165.00" cy="232.50" r="1.0" fill="#111"/>
<path d="M166.80,226.80 a2,2.4 0 0 1 0,4.8" fill="none" stroke="#555" stroke-width="0.4"/>
<text x="168.40" y="230.30" font-size="3.0" text-anchor="middle" font-weight="bold" fill="#333">G</text>
<circle cx="389.50" cy="121.81" r="1.0" fill="#111"/>
<path d="M390.90,122.41 a2,2.4 0 0 1 0,4.8" fill="none" stroke="#555" stroke-width="0.4"/>
<text x="392.50" y="125.91" font-size="3.0" text-anchor="middle" font-weight="bold" fill="#333">D</text>
<text x="400.50" y="127.51" font-size="3.2" text-anchor="start" font-weight="bold" fill="#333" textLength="14.5" lengthAdjust="spacingAndGlyphs">(+)7.300M</text>
<line x1="400.50" y1="128.31" x2="415.00" y2="128.31" stroke="#444" stroke-width="0.4" />
<line x1="400.00" y1="128.31" x2="398.50" y2="130.81" stroke="#555" stroke-width="0.4" />
<line x1="378.00" y1="139.21" x2="378.00" y2="217.00" stroke="#999" stroke-width="0.45" />
<line x1="376.60" y1="139.21" x2="386.50" y2="139.21" stroke="#bbb" stroke-width="0.35" />
<line x1="376.60" y1="217.00" x2="386.50" y2="217.00" stroke="#bbb" stroke-width="0.35" />
<line x1="377.00" y1="140.21" x2="379.00" y2="138.21" stroke="#333" stroke-width="0.5" />
<line x1="377.00" y1="218.00" x2="379.00" y2="216.00" stroke="#333" stroke-width="0.5" />
<text x="376.80" y="179.30" font-size="3.0" text-anchor="middle" font-weight="bold" fill="#2a2a2a" textLength="7" lengthAdjust="spacingAndGlyphs" transform="rotate(-90 376.80 179.30)">9875</text>
<text x="386.90" y="185.60" font-size="3.0" text-anchor="middle" font-weight="bold" fill="#2a2a2a" textLength="11" lengthAdjust="spacingAndGlyphs" transform="rotate(-90 386.90 185.60)">PSC1-C4</text>
<text x="396.50" y="213.50" font-size="3.2" text-anchor="start" font-weight="bold" fill="#333" textLength="9.5" lengthAdjust="spacingAndGlyphs">(+)0.75M</text>
<line x1="396.50" y1="214.30" x2="406.00" y2="214.30" stroke="#444" stroke-width="0.4" />
<path d="M393.50,216 l3,-1.2 v2.4z" fill="#222"/>
<circle cx="388.50" cy="232.50" r="1.0" fill="#111"/>
<path d="M390.30,226.80 a2,2.4 0 0 1 0,4.8" fill="none" stroke="#555" stroke-width="0.4"/>
<text x="391.90" y="230.30" font-size="3.0" text-anchor="middle" font-weight="bold" fill="#333">D</text>
<circle cx="487.50" cy="147.92" r="1.0" fill="#111"/>
<path d="M488.90,148.52 a2,2.4 0 0 1 0,4.8" fill="none" stroke="#555" stroke-width="0.4"/>
<text x="490.50" y="152.02" font-size="3.0" text-anchor="middle" font-weight="bold" fill="#333">C</text>
<text x="498.50" y="153.62" font-size="3.2" text-anchor="start" font-weight="bold" fill="#333" textLength="14.5" lengthAdjust="spacingAndGlyphs">(+)4.870M</text>
<line x1="498.50" y1="154.42" x2="513.00" y2="154.42" stroke="#444" stroke-width="0.4" />
<line x1="498.00" y1="154.42" x2="496.50" y2="156.92" stroke="#555" stroke-width="0.4" />
<line x1="479.00" y1="165.32" x2="479.00" y2="217.00" stroke="#999" stroke-width="0.45" />
<line x1="477.60" y1="165.32" x2="484.50" y2="165.32" stroke="#bbb" stroke-width="0.35" />
<line x1="477.60" y1="217.00" x2="484.50" y2="217.00" stroke="#bbb" stroke-width="0.35" />
<line x1="478.00" y1="166.32" x2="480.00" y2="164.32" stroke="#333" stroke-width="0.5" />
<line x1="478.00" y1="218.00" x2="480.00" y2="216.00" stroke="#333" stroke-width="0.5" />
<text x="477.80" y="191.00" font-size="3.0" text-anchor="middle" font-weight="bold" fill="#2a2a2a" textLength="7" lengthAdjust="spacingAndGlyphs" transform="rotate(-90 477.80 191.00)">6775</text>
<text x="484.90" y="194.60" font-size="3.0" text-anchor="middle" font-weight="bold" fill="#2a2a2a" textLength="11" lengthAdjust="spacingAndGlyphs" transform="rotate(-90 484.90 194.60)">PSC1-C5</text>
<text x="494.50" y="213.50" font-size="3.2" text-anchor="start" font-weight="bold" fill="#333" textLength="9.5" lengthAdjust="spacingAndGlyphs">(+)0.75M</text>
<line x1="494.50" y1="214.30" x2="504.00" y2="214.30" stroke="#444" stroke-width="0.4" />
<path d="M491.50,216 l3,-1.2 v2.4z" fill="#222"/>
<circle cx="486.50" cy="232.50" r="1.0" fill="#111"/>
<path d="M488.30,226.80 a2,2.4 0 0 1 0,4.8" fill="none" stroke="#555" stroke-width="0.4"/>
<text x="489.90" y="230.30" font-size="3.0" text-anchor="middle" font-weight="bold" fill="#333">C</text>
<circle cx="584.60" cy="173.78" r="1.0" fill="#111"/>
<path d="M586.00,174.38 a2,2.4 0 0 1 0,4.8" fill="none" stroke="#555" stroke-width="0.4"/>
<text x="587.60" y="177.88" font-size="3.0" text-anchor="middle" font-weight="bold" fill="#333">B</text>
<text x="595.60" y="179.48" font-size="3.2" text-anchor="start" font-weight="bold" fill="#333" textLength="14.5" lengthAdjust="spacingAndGlyphs">(+)2.024M</text>
<line x1="595.60" y1="180.28" x2="610.10" y2="180.28" stroke="#444" stroke-width="0.4" />
<line x1="595.10" y1="180.28" x2="593.60" y2="182.78" stroke="#555" stroke-width="0.4" />
<line x1="575.60" y1="191.18" x2="575.60" y2="217.00" stroke="#999" stroke-width="0.45" />
<line x1="574.20" y1="191.18" x2="581.60" y2="191.18" stroke="#bbb" stroke-width="0.35" />
<line x1="574.20" y1="217.00" x2="581.60" y2="217.00" stroke="#bbb" stroke-width="0.35" />
<line x1="574.60" y1="192.18" x2="576.60" y2="190.18" stroke="#333" stroke-width="0.5" />
<line x1="574.60" y1="218.00" x2="576.60" y2="216.00" stroke="#333" stroke-width="0.5" />
<text x="574.40" y="204.40" font-size="3.0" text-anchor="middle" font-weight="bold" fill="#2a2a2a" textLength="7" lengthAdjust="spacingAndGlyphs" transform="rotate(-90 574.40 204.40)">3775</text>
<text x="582.00" y="201.50" font-size="3.0" text-anchor="middle" font-weight="bold" fill="#2a2a2a" textLength="11" lengthAdjust="spacingAndGlyphs" transform="rotate(-90 582.00 201.50)">PSC1-C6</text>
<text x="591.60" y="213.50" font-size="3.2" text-anchor="start" font-weight="bold" fill="#333" textLength="9.5" lengthAdjust="spacingAndGlyphs">(+)0.75M</text>
<line x1="591.60" y1="214.30" x2="601.10" y2="214.30" stroke="#444" stroke-width="0.4" />
<path d="M588.60,216 l3,-1.2 v2.4z" fill="#222"/>
<circle cx="583.60" cy="232.50" r="1.0" fill="#111"/>
<path d="M585.40,226.80 a2,2.4 0 0 1 0,4.8" fill="none" stroke="#555" stroke-width="0.4"/>
<text x="587.00" y="230.30" font-size="3.0" text-anchor="middle" font-weight="bold" fill="#333">B</text>
<circle cx="264.00" cy="88.60" r="1.0" fill="#111"/>
<path d="M265.40,89.20 a2,2.4 0 0 1 0,4.8" fill="none" stroke="#555" stroke-width="0.4"/>
<text x="267.00" y="92.70" font-size="3.0" text-anchor="middle" font-weight="bold" fill="#333">F</text>
<text x="273.00" y="93.00" font-size="3.2" text-anchor="start" font-weight="bold" fill="#333" textLength="16" lengthAdjust="spacingAndGlyphs">(+)13.750M</text>
<line x1="273.00" y1="93.80" x2="289.00" y2="93.80" stroke="#444" stroke-width="0.4" />
<line x1="272.00" y1="94.00" x2="269.00" y2="97.00" stroke="#555" stroke-width="0.4" />
<circle cx="295.00" cy="96.60" r="1.0" fill="#111"/>
<path d="M296.40,97.20 a2,2.4 0 0 1 0,4.8" fill="none" stroke="#555" stroke-width="0.4"/>
<text x="298.00" y="100.70" font-size="3.0" text-anchor="middle" font-weight="bold" fill="#333">E</text>
<text x="305.00" y="101.00" font-size="3.2" text-anchor="start" font-weight="bold" fill="#333" textLength="15" lengthAdjust="spacingAndGlyphs">(+)8.900M</text>
<line x1="305.00" y1="101.80" x2="320.00" y2="101.80" stroke="#444" stroke-width="0.4" />
<line x1="304.00" y1="102.00" x2="301.00" y2="105.00" stroke="#555" stroke-width="0.4" />
<circle cx="264.00" cy="232.50" r="1.0" fill="#111"/>
<path d="M265.80,226.80 a2,2.4 0 0 1 0,4.8" fill="none" stroke="#555" stroke-width="0.4"/>
<text x="267.40" y="230.30" font-size="3.0" text-anchor="middle" font-weight="bold" fill="#333">F</text>
<circle cx="292.00" cy="232.50" r="1.0" fill="#111"/>
<path d="M293.80,226.80 a2,2.4 0 0 1 0,4.8" fill="none" stroke="#555" stroke-width="0.4"/>
<text x="295.40" y="230.30" font-size="3.0" text-anchor="middle" font-weight="bold" fill="#333">E</text>
<circle cx="254.2" cy="140.8" r="1.05" fill="#111"/>
<path d="M252.7,138.5 v-3 h4" fill="none" stroke="#555" stroke-width="0.4"/>
<text x="255.50" y="138.20" font-size="3.0" text-anchor="middle" font-weight="bold" fill="#222">A</text>
<circle cx="302.6" cy="140.8" r="1.05" fill="#111"/>
<path d="M301.1,138.5 v-3 h4" fill="none" stroke="#555" stroke-width="0.4"/>
<text x="303.90" y="138.20" font-size="3.0" text-anchor="middle" font-weight="bold" fill="#222">A</text>
<line x1="246.00" y1="105.00" x2="246.00" y2="218.00" stroke="#999" stroke-width="0.45" />
<line x1="245.00" y1="106.00" x2="247.00" y2="104.00" stroke="#333" stroke-width="0.5" />
<line x1="245.00" y1="219.00" x2="247.00" y2="217.00" stroke="#333" stroke-width="0.5" />
<line x1="244.00" y1="105.00" x2="262.00" y2="105.00" stroke="#bbb" stroke-width="0.35" />
<line x1="244.00" y1="218.00" x2="262.00" y2="218.00" stroke="#bbb" stroke-width="0.35" />
<text x="244.60" y="160.00" font-size="3.0" text-anchor="middle" font-weight="bold" fill="#2a2a2a" transform="rotate(-90 244.60 160.00)">11500</text>
<text x="277.90" y="112.30" font-size="3.0" text-anchor="middle" font-weight="bold" fill="#222" textLength="9" lengthAdjust="spacingAndGlyphs">PSB1-RD</text>
<text x="277.90" y="142.40" font-size="3.0" text-anchor="middle" font-weight="bold" fill="#222" textLength="9" lengthAdjust="spacingAndGlyphs">PSB1-RC</text>
<text x="277.90" y="190.40" font-size="3.0" text-anchor="middle" font-weight="bold" fill="#222" textLength="9" lengthAdjust="spacingAndGlyphs">PSB1-RB</text>
<text x="273.48" y="123.28" font-size="3.0" text-anchor="middle" font-weight="bold" fill="#2a2a2a" textLength="11" lengthAdjust="spacingAndGlyphs" transform="rotate(47.5448043798131 273.48 123.28)">PSD1-RX2</text>
<text x="285.09" y="135.97" font-size="3.0" text-anchor="middle" font-weight="bold" fill="#2a2a2a" textLength="9" lengthAdjust="spacingAndGlyphs" transform="rotate(47.5448043798131 285.09 135.97)">PSD1-RX2</text>
<text x="271.49" y="135.13" font-size="3.0" text-anchor="middle" font-weight="bold" fill="#2a2a2a" textLength="9" lengthAdjust="spacingAndGlyphs" transform="rotate(-47.54480437981309 271.49 135.13)">PSD1-RX2</text>
<text x="272.32" y="157.45" font-size="3.0" text-anchor="middle" font-weight="bold" fill="#2a2a2a" textLength="11" lengthAdjust="spacingAndGlyphs" transform="rotate(60.172915345525254 272.32 157.45)">PSD1-RX1</text>
<text x="271.36" y="178.60" font-size="3.0" text-anchor="middle" font-weight="bold" fill="#2a2a2a" textLength="11" lengthAdjust="spacingAndGlyphs" transform="rotate(-60.172915345525254 271.36 178.60)">PSD1-RX1</text>
<text x="284.44" y="178.60" font-size="3.0" text-anchor="middle" font-weight="bold" fill="#2a2a2a" textLength="11" lengthAdjust="spacingAndGlyphs" transform="rotate(60.172915345525254 284.44 178.60)">PSD1-RX1</text>
<text x="261.00" y="210.00" font-size="2.9700000000000006" text-anchor="start" font-weight="bold" fill="#2a2a2a" textLength="10" lengthAdjust="spacingAndGlyphs" transform="rotate(-90 261.00 210.00)">PSC1-C2</text>
<text x="291.00" y="210.00" font-size="2.9700000000000006" text-anchor="start" font-weight="bold" fill="#2a2a2a" textLength="10" lengthAdjust="spacingAndGlyphs" transform="rotate(-90 291.00 210.00)">PSC1-C3</text>
<text x="299.00" y="213.50" font-size="3.2" text-anchor="start" font-weight="bold" fill="#333" textLength="9.5" lengthAdjust="spacingAndGlyphs">(+)0.75M</text>
<line x1="299.00" y1="214.30" x2="308.50" y2="214.30" stroke="#444" stroke-width="0.4" />
<text x="118.00" y="71.28" font-size="3.0" text-anchor="start" font-weight="bold" fill="#2a2a2a" textLength="11" lengthAdjust="spacingAndGlyphs" transform="rotate(14.917151721925734 118.00 71.28)">PSD1-PX6</text>
<text x="204.00" y="94.19" font-size="3.0" text-anchor="start" font-weight="bold" fill="#2a2a2a" textLength="11" lengthAdjust="spacingAndGlyphs" transform="rotate(14.917151721925734 204.00 94.19)">PSD1-PX6</text>
<text x="327.00" y="126.96" font-size="3.0" text-anchor="start" font-weight="bold" fill="#2a2a2a" textLength="11" lengthAdjust="spacingAndGlyphs" transform="rotate(14.917151721925734 327.00 126.96)">PSD1-PX6</text>
<text x="431.00" y="154.66" font-size="3.0" text-anchor="start" font-weight="bold" fill="#2a2a2a" textLength="11" lengthAdjust="spacingAndGlyphs" transform="rotate(14.917151721925734 431.00 154.66)">PSD1-PX6</text>
<text x="522.50" y="179.04" font-size="3.0" text-anchor="start" font-weight="bold" fill="#2a2a2a" textLength="11" lengthAdjust="spacingAndGlyphs" transform="rotate(14.917151721925734 522.50 179.04)">PSD1-PX6</text>
<text x="617.00" y="204.21" font-size="3.0" text-anchor="start" font-weight="bold" fill="#2a2a2a" textLength="11" lengthAdjust="spacingAndGlyphs" transform="rotate(14.917151721925734 617.00 204.21)">PSD1-PX6</text>
<text x="357.20" y="241.60" font-size="4.3" text-anchor="start" font-weight="bold" fill="#222" textLength="66" lengthAdjust="spacingAndGlyphs">ELEVATION OF RM 3 CONVEYOR</text>
<text x="89.50" y="45.00" font-size="3.2" text-anchor="start" font-weight="bold" fill="#333" textLength="14.7" lengthAdjust="spacingAndGlyphs">(+)26.430M</text>
<line x1="89.50" y1="45.80" x2="104.20" y2="45.80" stroke="#444" stroke-width="0.4" />
<line x1="87.00" y1="47.70" x2="89.50" y2="45.80" stroke="#444" stroke-width="0.4" />
<text x="100.50" y="53.30" font-size="3.2" text-anchor="start" font-weight="bold" fill="#333" textLength="15.5" lengthAdjust="spacingAndGlyphs">(+)25.75M</text>
<line x1="100.50" y1="54.10" x2="116.00" y2="54.10" stroke="#444" stroke-width="0.4" />
<text x="645.00" y="213.60" font-size="3.0" text-anchor="start" font-weight="bold" fill="#333" textLength="8" lengthAdjust="spacingAndGlyphs">(+)0.75M</text>
<line x1="645.00" y1="214.40" x2="653.00" y2="214.40" stroke="#222" stroke-width="0.4" />
<text x="664.00" y="196.50" font-size="3.0" text-anchor="start" font-weight="bold" fill="#2a2a2a" textLength="10" lengthAdjust="spacingAndGlyphs" transform="rotate(-75 664.00 196.50)">6FSB-C2</text>
<circle cx="670.00" cy="194.60" r="1.0" fill="#111"/>
<path d="M671.40,195.20 a2,2.4 0 0 1 0,4.8" fill="none" stroke="#555" stroke-width="0.4"/>
<text x="673.00" y="198.70" font-size="3.0" text-anchor="middle" font-weight="bold" fill="#333">A</text>
<circle cx="670.00" cy="233.00" r="1.0" fill="#111"/>
<path d="M671.80,227.30 a2,2.4 0 0 1 0,4.8" fill="none" stroke="#555" stroke-width="0.4"/>
<text x="673.40" y="230.80" font-size="3.0" text-anchor="middle" font-weight="bold" fill="#333">A</text>
<text x="677.50" y="200.60" font-size="3.2" text-anchor="start" font-weight="bold" fill="#333" textLength="14" lengthAdjust="spacingAndGlyphs">(+)1.750M</text>
<line x1="677.50" y1="201.40" x2="691.50" y2="201.40" stroke="#444" stroke-width="0.4" />
<text x="649.00" y="227.00" font-size="3.0" text-anchor="start" font-weight="bold" fill="#222" textLength="12" lengthAdjust="spacingAndGlyphs">FSB-CX</text>
<line x1="649.00" y1="227.80" x2="661.00" y2="227.80" stroke="#222" stroke-width="0.4" />
<line x1="661.00" y1="227.80" x2="665.00" y2="222.50" stroke="#222" stroke-width="0.4" />
<text x="694.00" y="227.00" font-size="3.0" text-anchor="start" font-weight="bold" fill="#2a2a2a" textLength="10" lengthAdjust="spacingAndGlyphs">FSB1-C2</text>
<ellipse cx="690" cy="221.8" rx="3.3" ry="4.4" fill="none" stroke="#222" stroke-width="0.6"/>
<path d="M665.5,214.5 l2,-3 l2,3z" fill="#222"/>
<line x1="665.00" y1="214.50" x2="665.00" y2="222.30" stroke="#444" stroke-width="0.7" />
<line x1="670.00" y1="214.50" x2="670.00" y2="222.30" stroke="#444" stroke-width="0.7" />
<line x1="709.00" y1="234.50" x2="809.00" y2="234.50" stroke="#333" stroke-width="0.45" />
<line x1="708.00" y1="235.50" x2="710.00" y2="233.50" stroke="#222" stroke-width="0.55" />
<line x1="729.00" y1="235.50" x2="731.00" y2="233.50" stroke="#222" stroke-width="0.55" />
<line x1="750.00" y1="235.50" x2="752.00" y2="233.50" stroke="#222" stroke-width="0.55" />
<line x1="771.00" y1="235.50" x2="773.00" y2="233.50" stroke="#222" stroke-width="0.55" />
<line x1="792.00" y1="235.50" x2="794.00" y2="233.50" stroke="#222" stroke-width="0.55" />
<line x1="801.00" y1="235.50" x2="803.00" y2="233.50" stroke="#222" stroke-width="0.55" />
<line x1="808.00" y1="235.50" x2="810.00" y2="233.50" stroke="#222" stroke-width="0.55" />
<text x="720.00" y="233.40" font-size="3.0" text-anchor="middle" font-weight="bold" fill="#222" textLength="5.5" lengthAdjust="spacingAndGlyphs">2000</text>
<text x="740.50" y="233.40" font-size="3.0" text-anchor="middle" font-weight="bold" fill="#222" textLength="5.5" lengthAdjust="spacingAndGlyphs">2500</text>
<text x="762.00" y="233.40" font-size="3.0" text-anchor="middle" font-weight="bold" fill="#222" textLength="5.5" lengthAdjust="spacingAndGlyphs">2100</text>
<text x="782.00" y="233.40" font-size="3.0" text-anchor="middle" font-weight="bold" fill="#222" textLength="5.5" lengthAdjust="spacingAndGlyphs">2500</text>
<text x="797.50" y="233.40" font-size="3.0" text-anchor="middle" font-weight="bold" fill="#222" textLength="5.5" lengthAdjust="spacingAndGlyphs">900</text>
<text x="813.00" y="233.40" font-size="3.0" text-anchor="middle" font-weight="bold" fill="#222" textLength="5.5" lengthAdjust="spacingAndGlyphs">900</text>
<line x1="689.00" y1="240.60" x2="868.00" y2="240.60" stroke="#333" stroke-width="0.45" />
<line x1="688.00" y1="241.60" x2="690.00" y2="239.60" stroke="#222" stroke-width="0.55" />
<line x1="709.00" y1="241.60" x2="711.00" y2="239.60" stroke="#222" stroke-width="0.55" />
<line x1="758.00" y1="241.60" x2="760.00" y2="239.60" stroke="#222" stroke-width="0.55" />
<line x1="807.00" y1="241.60" x2="809.00" y2="239.60" stroke="#222" stroke-width="0.55" />
<line x1="866.00" y1="241.60" x2="868.00" y2="239.60" stroke="#222" stroke-width="0.55" />
<text x="700.00" y="239.50" font-size="3.0" text-anchor="middle" font-weight="bold" fill="#222" textLength="6" lengthAdjust="spacingAndGlyphs">2100</text>
<text x="734.40" y="239.50" font-size="3.0" text-anchor="middle" font-weight="bold" fill="#222" textLength="6" lengthAdjust="spacingAndGlyphs">5400</text>
<text x="784.40" y="239.50" font-size="3.0" text-anchor="middle" font-weight="bold" fill="#222" textLength="6" lengthAdjust="spacingAndGlyphs">5000</text>
<text x="837.80" y="239.50" font-size="3.0" text-anchor="middle" font-weight="bold" fill="#222" textLength="6" lengthAdjust="spacingAndGlyphs">4600</text>
<ellipse cx="710" cy="242.8" rx="2.6" ry="2.3" fill="#fff" stroke="#222" stroke-width="0.6"/>
<text x="710.00" y="243.90" font-size="3.0" text-anchor="middle" font-weight="bold" fill="#222">1</text>
<ellipse cx="759" cy="242.8" rx="2.6" ry="2.3" fill="#fff" stroke="#222" stroke-width="0.6"/>
<text x="759.00" y="243.90" font-size="3.0" text-anchor="middle" font-weight="bold" fill="#222">2</text>
<ellipse cx="808" cy="242.8" rx="2.6" ry="2.3" fill="#fff" stroke="#222" stroke-width="0.6"/>
<text x="808.00" y="243.90" font-size="3.0" text-anchor="middle" font-weight="bold" fill="#222">3</text>
<ellipse cx="866.7" cy="242.8" rx="2.6" ry="2.3" fill="#fff" stroke="#222" stroke-width="0.6"/>
<text x="866.70" y="243.90" font-size="3.0" text-anchor="middle" font-weight="bold" fill="#222">4</text>
<line x1="759.00" y1="217.00" x2="759.00" y2="240.50" stroke="#bbb" stroke-width="0.4" />
<line x1="808.00" y1="217.00" x2="808.00" y2="240.50" stroke="#bbb" stroke-width="0.4" />
<line x1="866.70" y1="217.00" x2="866.70" y2="240.50" stroke="#bbb" stroke-width="0.4" />
<line x1="626.00" y1="181.70" x2="710.00" y2="181.70" stroke="#444" stroke-width="0.45" />
<line x1="626.00" y1="181.70" x2="626.00" y2="190.00" stroke="#777" stroke-width="0.4" />
<line x1="710.00" y1="181.70" x2="739.80" y2="181.70" stroke="#444" stroke-width="0.45" />
<line x1="739.80" y1="181.70" x2="739.80" y2="209.00" stroke="#777" stroke-width="0.4" />
<line x1="625.00" y1="182.70" x2="627.00" y2="180.70" stroke="#222" stroke-width="0.6" />
<line x1="709.00" y1="182.70" x2="711.00" y2="180.70" stroke="#222" stroke-width="0.6" />
<line x1="738.80" y1="182.70" x2="740.80" y2="180.70" stroke="#222" stroke-width="0.6" />
<text x="667.00" y="180.50" font-size="3.0" text-anchor="middle" font-weight="bold" fill="#222" textLength="6.5" lengthAdjust="spacingAndGlyphs">6600</text>
<text x="724.50" y="180.50" font-size="3.0" text-anchor="middle" font-weight="bold" fill="#222" textLength="6.5" lengthAdjust="spacingAndGlyphs">3625</text>
<text x="715.50" y="222.00" font-size="3.0" text-anchor="start" font-weight="bold" fill="#2a2a2a" textLength="10" lengthAdjust="spacingAndGlyphs">FSB1-C1</text>
<text x="736.00" y="222.00" font-size="3.0" text-anchor="start" font-weight="bold" fill="#2a2a2a" textLength="10" lengthAdjust="spacingAndGlyphs">FSB-CX</text>
<text x="757.00" y="222.00" font-size="3.0" text-anchor="start" font-weight="bold" fill="#2a2a2a" textLength="10" lengthAdjust="spacingAndGlyphs">FSB1-C1</text>
<text x="777.00" y="222.00" font-size="3.0" text-anchor="start" font-weight="bold" fill="#2a2a2a" textLength="10" lengthAdjust="spacingAndGlyphs">FSB2-FR1</text>
</svg>
</body></html>
